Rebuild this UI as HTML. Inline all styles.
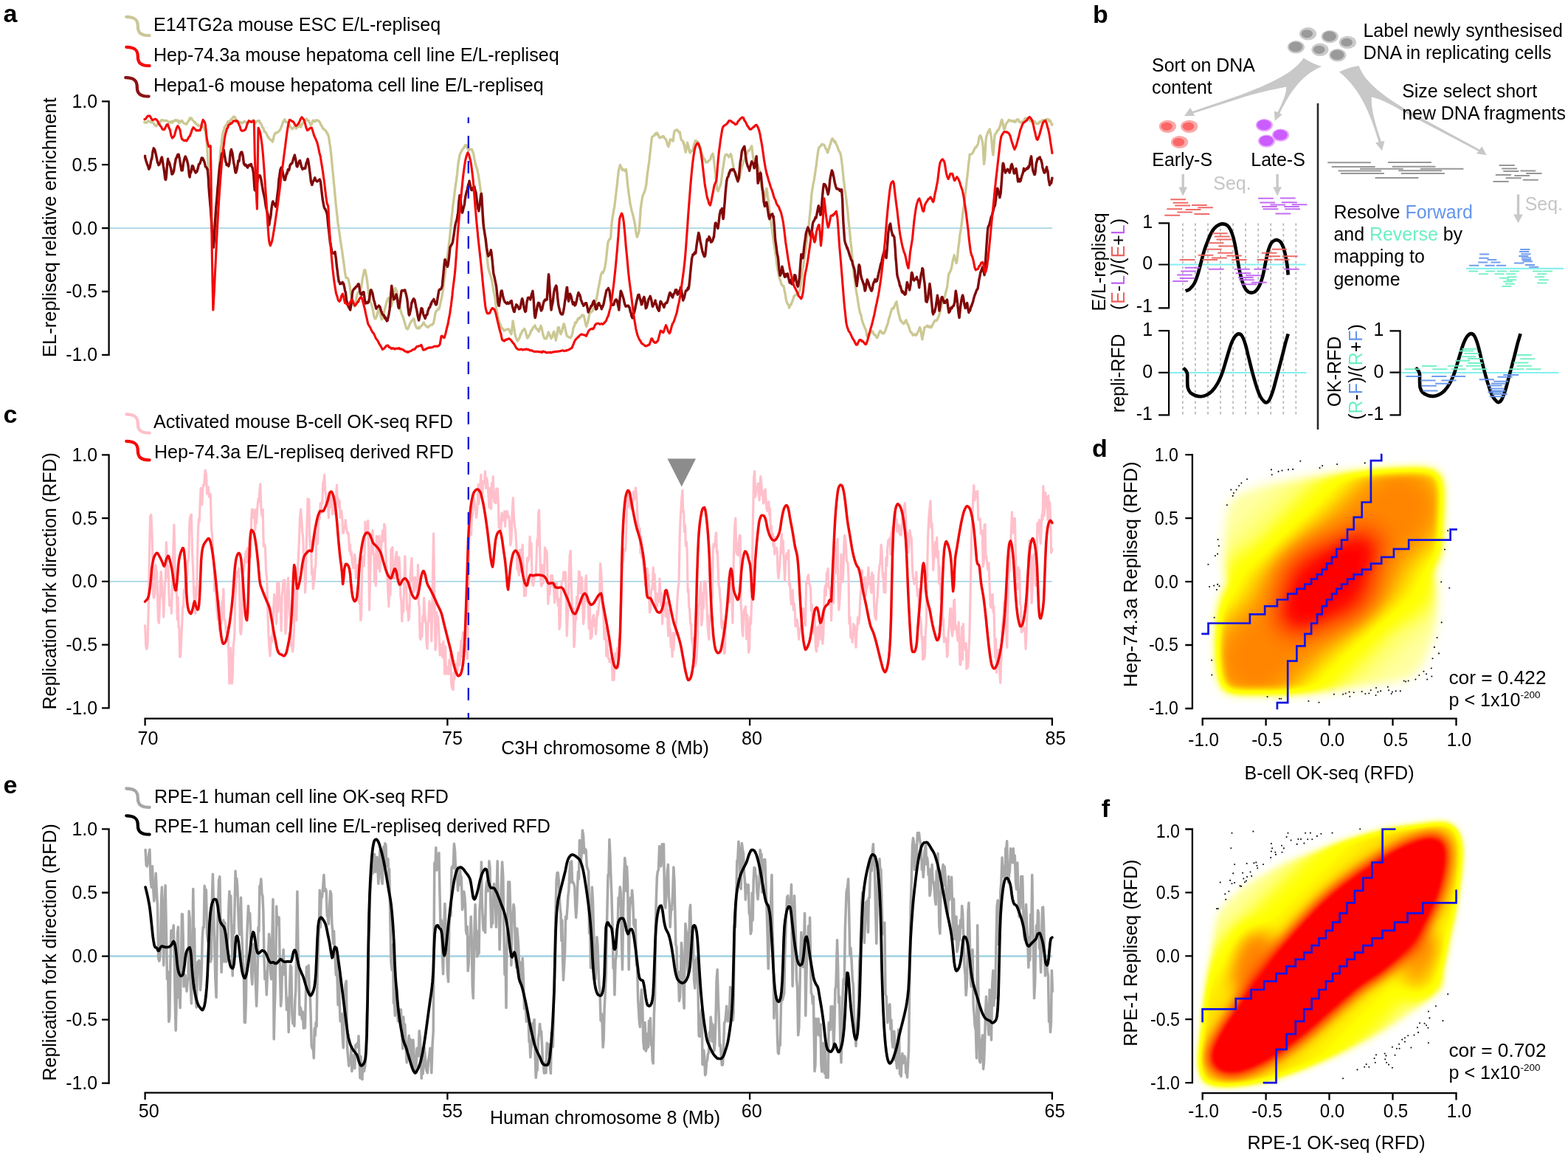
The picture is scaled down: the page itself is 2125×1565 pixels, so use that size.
<!DOCTYPE html>
<html lang="en"><head><meta charset="utf-8"><title>Figure</title>
<style>html,body{margin:0;padding:0;background:#fff}body{width:2125px;height:1565px;overflow:hidden}svg{display:block;font-family:'Liberation Sans', sans-serif;font-size:25.1px}</style>
</head><body>
<svg width="2125" height="1565" viewBox="0 0 2125 1565">
<rect width="2125" height="1565" fill="#fff"/>
<defs><filter id="heat" x="0" y="0" width="1" height="1" filterUnits="objectBoundingBox" color-interpolation-filters="sRGB"><feComponentTransfer><feFuncR type="table" tableValues="1 1"/><feFuncG type="table" tableValues="1 1 1 1 1 1 1 .93 .83 .72 .6 .5 .4 .3 .18 .06 0 0 0 0 0"/><feFuncB type="table" tableValues="1 .86 .66 .42 .18 .04 0 0 0 0 0 0 0 0 0 0 0 0 0 0 0"/></feComponentTransfer></filter><filter id="b5" x="-10%" y="-10%" width="120%" height="120%" color-interpolation-filters="sRGB"><feGaussianBlur stdDeviation="5"/></filter><filter id="b7" x="-10%" y="-10%" width="120%" height="120%" color-interpolation-filters="sRGB"><feGaussianBlur stdDeviation="7"/></filter><filter id="b9" x="-60%" y="-60%" width="220%" height="220%" color-interpolation-filters="sRGB"><feGaussianBlur stdDeviation="9"/></filter><filter id="b12" x="-60%" y="-60%" width="220%" height="220%" color-interpolation-filters="sRGB"><feGaussianBlur stdDeviation="12"/></filter><filter id="b16" x="-60%" y="-60%" width="220%" height="220%" color-interpolation-filters="sRGB"><feGaussianBlur stdDeviation="16"/></filter><filter id="b22" x="-60%" y="-60%" width="220%" height="220%" color-interpolation-filters="sRGB"><feGaussianBlur stdDeviation="22"/></filter><filter id="b28" x="-60%" y="-60%" width="220%" height="220%" color-interpolation-filters="sRGB"><feGaussianBlur stdDeviation="28"/></filter><clipPath id="cd"><path d="M1656.1 927.9C1652.7 920.2 1651.1 905.6 1650.1 891.4C1649.1 877.3 1649.5 856.2 1650.1 842.9C1650.7 829.5 1651.7 820.2 1653.7 811.3C1655.7 802.4 1661.4 796.3 1662.2 789.4C1663 782.6 1659.2 781.3 1658.6 770C1658 758.7 1658 734.4 1658.6 721.4C1659.2 708.5 1659.8 700.4 1662.2 692.3C1664.6 684.2 1665.7 678.5 1673.1 672.9C1680.6 667.2 1693.4 662.3 1707.1 658.3C1720.9 654.2 1739.5 651.2 1755.7 648.6C1771.9 645.9 1788.1 644.1 1804.3 642.5C1820.5 640.9 1836.7 639.9 1852.9 638.9C1869.1 637.8 1887.7 636.8 1901.4 636.4C1915.2 636 1927.3 635.2 1935.4 636.4C1943.5 637.6 1946.8 639.3 1950 643.7C1953.3 648.2 1954.3 652.2 1954.9 663.1C1955.5 674.1 1954.1 694.7 1953.7 709.3C1953.3 723.9 1954.1 739.6 1952.4 750.6C1950.8 761.5 1944.8 766.8 1943.9 774.9C1943.1 783 1947 787.8 1947.6 799.1C1948.2 810.5 1948.8 830.3 1947.6 842.9C1946.4 855.4 1943.9 863.9 1940.3 874.4C1936.7 885 1932.2 897.9 1925.7 906C1919.2 914.1 1913.6 919 1901.4 923C1889.3 927.1 1869.1 928.1 1852.9 930.3C1836.7 932.5 1820.5 935 1804.3 936.4C1788.1 937.8 1771.9 938.4 1755.7 938.8C1739.5 939.2 1721.3 939 1707.1 938.8C1693 938.6 1679.2 939.4 1670.7 937.6C1662.2 935.8 1659.6 935.6 1656.1 927.9Z"/></clipPath><clipPath id="cf"><path d="M1627 1454.7C1625.4 1449.1 1624.2 1444.6 1624.6 1432.9C1625 1421.1 1627.8 1400.5 1629.4 1384.3C1631 1368.1 1632.3 1351.9 1634.3 1335.7C1636.3 1319.5 1639.5 1301.3 1641.6 1287.1C1643.6 1273 1644.4 1260 1646.4 1250.7C1648.5 1241.4 1647.6 1239.4 1653.7 1231.3C1659.8 1223.2 1669.9 1211.9 1682.9 1202.1C1695.8 1192.4 1715.2 1181.1 1731.4 1173C1747.6 1164.9 1763.8 1159.6 1780 1153.6C1796.2 1147.5 1812.4 1141.4 1828.6 1136.6C1844.8 1131.7 1861 1127.7 1877.2 1124.4C1893.3 1121.2 1912.4 1118.8 1925.7 1117.1C1939.1 1115.5 1949.2 1113.5 1957.3 1114.7C1965.4 1115.9 1970.3 1118.8 1974.3 1124.4C1978.3 1130.1 1980.8 1137.8 1981.6 1148.7C1982.4 1159.6 1980.8 1175 1979.2 1190C1977.5 1205 1974.3 1224.4 1971.9 1238.6C1969.4 1252.7 1967 1262.9 1964.6 1275C1962.2 1287.1 1958.9 1301.3 1957.3 1311.4C1955.7 1321.6 1956.9 1329.7 1954.9 1335.7C1952.8 1341.8 1952 1341.8 1945.2 1347.9C1938.3 1353.9 1924.9 1364.1 1913.6 1372.2C1902.2 1380.2 1889.3 1389.2 1877.2 1396.4C1865 1403.7 1852.9 1409.8 1840.7 1415.9C1828.6 1421.9 1818.5 1426.8 1804.3 1432.9C1790.1 1438.9 1771.9 1446.6 1755.7 1452.3C1739.5 1458 1723.3 1463.6 1707.1 1466.9C1691 1470.1 1670.7 1471.7 1658.6 1471.7C1646.4 1471.7 1639.5 1469.7 1634.3 1466.9C1629 1464 1628.6 1460.4 1627 1454.7Z"/></clipPath></defs>
<g filter="url(#heat)">
<rect x="1612" y="596" width="408" height="380" fill="#000"/>
<g filter="url(#b7)"><g clip-path="url(#cd)">
<rect x="1600" y="590" width="420" height="390" fill="#fff" opacity=".1"/>
<rect x="-300" y="-110" width="600" height="220" rx="100" transform="translate(1801.5 788.1) rotate(-45)" fill="#fff" opacity="0.15" filter="url(#b28)"/>
<rect x="-135" y="-72" width="270" height="144" rx="72" transform="translate(1853.1 731.4) rotate(-45)" fill="#fff" opacity="0.4" filter="url(#b22)"/>
<rect x="-135" y="-72" width="270" height="144" rx="72" transform="translate(1744.8 850) rotate(-45)" fill="#fff" opacity="0.4" filter="url(#b22)"/>
<rect x="-60" y="-26" width="120" height="52" rx="26" transform="translate(1876.5 810.1) rotate(-8)" fill="#fff" opacity="0.12" filter="url(#b16)"/>
<rect x="-50" y="-24" width="100" height="48" rx="24" transform="translate(1716.5 774.1) rotate(-8)" fill="#fff" opacity="0.1" filter="url(#b16)"/>
<rect x="-88" y="-24" width="176" height="48" rx="24" transform="translate(1801.5 788.1) rotate(-45)" fill="#fff" opacity="0.55" filter="url(#b16)"/>
</g></g></g>
<g filter="url(#heat)">
<rect x="1604" y="1098" width="404" height="386" fill="#000"/>
<g filter="url(#b5)"><g clip-path="url(#cf)">
<rect x="1600" y="1100" width="420" height="390" fill="#fff" opacity=".1"/>
<rect x="-320" y="-105" width="640" height="210" rx="100" transform="translate(1801.5 1295.3) rotate(-45)" fill="#fff" opacity="0.3" filter="url(#b22)"/>
<rect x="-46" y="-27" width="92" height="54" rx="27" transform="translate(1697.5 1303.3) rotate(-82)" fill="#fff" opacity="0.3" filter="url(#b12)"/>
<rect x="-44" y="-26" width="88" height="52" rx="26" transform="translate(1928.5 1307.3) rotate(-82)" fill="#fff" opacity="0.3" filter="url(#b12)"/>
<path d="M1646.4 1445C1642 1440.6 1642 1433.7 1644 1425.6C1646 1417.5 1652.1 1407.4 1658.6 1396.4C1665 1385.5 1674 1372.2 1682.9 1360C1691.8 1347.9 1703.1 1335.7 1712 1323.6C1720.9 1311.4 1727 1299.3 1736.3 1287.1C1745.6 1275 1756.5 1262.9 1767.9 1250.7C1779.2 1238.6 1790.1 1226.4 1804.3 1214.3C1818.5 1202.1 1836.7 1188.8 1852.9 1177.9C1869.1 1166.9 1887.3 1155.6 1901.4 1148.7C1915.6 1141.8 1929 1137.8 1937.9 1136.6C1946.8 1135.4 1951.6 1136.6 1954.9 1141.4C1958.1 1146.3 1958.1 1155.6 1957.3 1165.7C1956.5 1175.8 1953.3 1190.8 1950 1202.1C1946.8 1213.5 1943.9 1221.6 1937.9 1233.7C1931.8 1245.9 1923.7 1262.1 1913.6 1275C1903.5 1288 1889.3 1301.3 1877.2 1311.4C1865 1321.6 1852.9 1326.4 1840.7 1335.7C1828.6 1345 1818.5 1355.2 1804.3 1367.3C1790.1 1379.4 1771.9 1396.4 1755.7 1408.6C1739.5 1420.7 1721.3 1432.9 1707.1 1440.2C1693 1447.4 1680.8 1451.5 1670.7 1452.3C1660.6 1453.1 1650.9 1449.5 1646.4 1445Z" fill="#fff" stroke="#fff" stroke-width="8" stroke-linejoin="round" opacity=".95" filter="url(#b9)"/>
</g></g></g>
<path d="M1762.3 624.8h.01M1792.1 631.1h.01M1788.5 634h.01M1812.1 629.1h.01M1849.7 627.4h.01M1722.9 636.4h.01M1723.7 643.2h.01M1732.6 638.9h.01M1737.5 637.6h.01M1746 636.4h.01M1752.1 635.9h.01M1690.1 649.3h.01M1682.4 654.6h.01M1679.2 658.3h.01M1675.6 663.6h.01M1668.3 663.6h.01M1671.9 668h.01M1670.7 671.9h.01M1662.9 684.3h.01M1650.6 731.1h.01M1651.8 739.6h.01M1650.1 750.6h.01M1646.9 753h.01M1637.4 764.7h.01M1639.1 795h.01M1645.2 793.6h.01M1650.1 791.9h.01M1652.5 794.3h.01M1648.9 799.1h.01M1645.7 836.8h.01M1642.1 894.6h.01M1642.3 914.5h.01M1717.6 944.1h.01M1733.9 946.8h.01M1736.3 946.8h.01M1773.4 950h.01M1787.5 951.7h.01M1953.2 788.5h.01M1964.3 796.7h.01M1958 744.5h.01M1962.2 719h.01M1953.7 843.4h.01M1947.6 864h.01M1943.9 876.9h.01M1950 885.4h.01M1941.5 892.2h.01M1939.8 905.5h.01M1929.4 909.7h.01M1933 913.3h.01M1940.3 916.5h.01M1934.2 920.6h.01M1923.3 915h.01M1918.4 920.6h.01M1908.7 922.5h.01M1905.1 923.5h.01M1902.7 922.5h.01M1897.8 936.4h.01M1891.7 936.4h.01M1886.9 937.6h.01M1885.7 940h.01M1882 935.2h.01M1880.8 930.8h.01M1871.1 936.4h.01M1865 932h.01M1867.4 937.6h.01M1864.5 942h.01M1857.7 935.2h.01M1855.3 939.5h.01M1850.4 940h.01M1845.6 937.1h.01M1834.7 938.3h.01M1828.6 937.6h.01M1829.3 943.7h.01M1823.7 939.5h.01M1820.1 940.7h.01M1807.9 940.7h.01" stroke="#111" stroke-width="2.1" stroke-linecap="round" fill="none"/>
<path d="M1669.5 1128.8h.01M1698.4 1126.6h.01M1668.3 1149.2h.01M1745.5 1128.8h.01M1743.6 1134.1h.01M1749.6 1138.5h.01M1722.9 1143.1h.01M1724.1 1149.4h.01M1722.9 1153.6h.01M1728.3 1154.8h.01M1729 1157.9h.01M1722.2 1162.1h.01M1737 1145.8h.01M1739.9 1149.4h.01M1737.5 1154.8h.01M1757.7 1143.9h.01M1759.4 1137.1h.01M1763 1137.1h.01M1767.4 1142.6h.01M1769.1 1128.8h.01M1772.2 1137.3h.01M1775.9 1128.6h.01M1778.3 1137.3h.01M1784.9 1132.9h.01M1790.4 1129.8h.01M1805.5 1128.6h.01M1843.2 1123.2h.01M1673.1 1171.3h.01M1689.7 1170.1h.01M1699.4 1169.4h.01M1702.3 1168.6h.01M1703.5 1173h.01M1704.2 1176.2h.01M1712 1171.3h.01M1671.2 1183.4h.01M1684.1 1182.7h.01M1694.5 1181.5h.01M1696.2 1187.1h.01M1690.1 1188.1h.01M1685.3 1190.5h.01M1667.1 1192.9h.01M1688.9 1193.6h.01M1669.5 1197.3h.01M1673.1 1196.1h.01M1687 1195.3h.01M1680.4 1200.2h.01M1682.1 1200.9h.01M1653.7 1195.6h.01M1665.4 1207.7h.01M1660.3 1211.4h.01M1661.2 1218.7h.01M1648.9 1231.3h.01M1650.8 1231.3h.01M1962.2 1347.1h.01M1945.9 1363.2h.01M1935.9 1370.5h.01M1937.4 1379.4h.01M1955.4 1383.1h.01M1924 1386.2h.01M1930.6 1386.7h.01M1933 1389.2h.01M1935.4 1392.8h.01M1920.9 1392.3h.01M1922.1 1398.9h.01M1916.5 1402.5h.01M1908.2 1403.2h.01M1903.9 1406.2h.01M1900.2 1408.6h.01M1903.9 1411.5h.01M1935.9 1413h.01M1886.9 1418.8h.01M1896.1 1414.7h.01M1892.9 1420.7h.01M1896.6 1420.7h.01M1912.4 1419.5h.01M1876.7 1427.5h.01M1878.4 1430.4h.01M1890.5 1429.7h.01M1865 1429.2h.01M1862.6 1434.1h.01M1877.2 1435.3h.01M1863.8 1439.7h.01M1879.1 1439.7h.01M1882 1442.6h.01M1851.7 1442.1h.01M1855.3 1445.7h.01M1849.2 1445.7h.01M1886.9 1446.7h.01M1839.5 1449.4h.01M1820.1 1461.3h.01" stroke="#111" stroke-width="2.1" stroke-linecap="round" fill="none"/>
<path d="M1629.6 858.8L1637.5 858.8L1637.5 844.5L1693.9 844.5L1693.9 832.3L1714.2 832.3L1714.2 821.3L1730.9 821.3L1730.9 812.5L1745.2 812.5L1745.2 804.6L1757.4 804.6L1757.4 797.9L1768.4 797.9L1768.4 791.5L1777.1 791.5L1777.1 784.7L1785 784.7L1785 778.3L1791.7 778.3L1791.7 771.6L1798.1 771.6L1798.1 763.7L1805 763.7L1805 754.9L1811.4 754.9L1811.4 743.9L1818.1 743.9L1818.1 731.7L1826 731.7L1826 717.4L1834.7 717.4L1834.7 700.8L1845.7 700.8L1845.7 680.5L1857.9 680.5L1857.9 624.1L1872.2 624.1L1872.2 616.2" stroke="#1414e4" stroke-width="2.7" fill="none" stroke-linejoin="miter" stroke-linecap="square"/>
<path d="M1730.9 960L1730.9 952.1L1745.2 952.1L1745.2 895.7L1757.4 895.7L1757.4 875.4L1768.4 875.4L1768.4 858.8L1777.1 858.8L1777.1 844.5L1785 844.5L1785 832.3L1791.7 832.3L1791.7 821.3L1798.1 821.3L1798.1 812.5L1805 812.5L1805 804.6L1811.4 804.6L1811.4 797.9L1818.1 797.9L1818.1 791.5L1826 791.5L1826 784.7L1834.7 784.7L1834.7 778.3L1845.7 778.3L1845.7 771.6L1857.9 771.6L1857.9 763.7L1872.2 763.7L1872.2 754.9L1888.9 754.9L1888.9 743.9L1909.2 743.9L1909.2 731.7L1965.6 731.7L1965.6 717.4L1973.5 717.4L1973.5 717.4" stroke="#1414e4" stroke-width="2.7" fill="none" stroke-linejoin="miter" stroke-linecap="square"/>
<path d="M1629.6 1383.8L1629.6 1367.3L1674.8 1367.3L1674.8 1353.2L1695.6 1353.2L1695.6 1341L1713 1341L1713 1329.7L1729.5 1329.7L1729.5 1319.2L1743.6 1319.2L1743.6 1309.4L1755.8 1309.4L1755.8 1299.9L1767.2 1299.9L1767.2 1290.7L1777.6 1290.7L1777.6 1281.2L1787.5 1281.2L1787.5 1271.4L1796.9 1271.4L1796.9 1260.9L1806.2 1260.9L1806.2 1249.6L1815.6 1249.6L1815.6 1237.4L1825.5 1237.4L1825.5 1223.3L1835.9 1223.3L1835.9 1206.8L1847.3 1206.8L1847.3 1189.5L1859.5 1189.5L1859.5 1168.7L1873.6 1168.7L1873.6 1123.5L1890.1 1123.5" stroke="#1414e4" stroke-width="2.7" fill="none" stroke-linejoin="miter" stroke-linecap="square"/>
<path d="M1713 1467.1L1729.5 1467.1L1729.5 1421.9L1743.6 1421.9L1743.6 1401.1L1755.8 1401.1L1755.8 1383.8L1767.2 1383.8L1767.2 1367.3L1777.6 1367.3L1777.6 1353.2L1787.5 1353.2L1787.5 1341L1796.9 1341L1796.9 1329.7L1806.2 1329.7L1806.2 1319.2L1815.6 1319.2L1815.6 1309.4L1825.5 1309.4L1825.5 1299.9L1835.9 1299.9L1835.9 1290.7L1847.3 1290.7L1847.3 1281.2L1859.5 1281.2L1859.5 1271.4L1873.6 1271.4L1873.6 1260.9L1890.1 1260.9L1890.1 1249.6L1907.5 1249.6L1907.5 1237.4L1928.3 1237.4L1928.3 1223.3L1973.5 1223.3L1973.5 1206.8" stroke="#1414e4" stroke-width="2.7" fill="none" stroke-linejoin="miter" stroke-linecap="square"/>
<line x1="148.7" y1="309.1" x2="1426" y2="309.1" stroke="#a9d6e5" stroke-width="1.7"/>
<line x1="148.7" y1="787.9" x2="1426" y2="787.9" stroke="#a9d6e5" stroke-width="1.7"/>
<line x1="148.7" y1="1295.6" x2="1426" y2="1295.6" stroke="#a9d6e5" stroke-width="2.6"/>
<path d="M195.9 164.8L195.9 165.9L197.2 166L198.5 166.3L199.8 164.7L201.1 163.8L202.4 164.7L203.7 165.1L204.1 164.7L205 165.9L206.3 164.7L207.6 165.8L208.9 168.9L210.2 169.6L211.2 169.4L211.5 170.8L212.8 169.5L214.1 167.2L215.4 165.4L216.7 166.6L218 163.3L218.2 163.5L219.3 162.8L220.6 162.5L221.9 163.6L223.2 163.7L224.5 163.2L225.3 163.5L225.8 163.5L227.1 164.2L228.4 165.1L229.7 166.1L231 165.8L232.3 164.3L232.4 165.9L233.6 166.3L234.9 163.9L236.2 164.4L237.5 162.6L238.8 163.6L239.4 163.5L240.1 162.8L241.4 163.8L242.7 166.8L244 164L245.3 165.2L246.5 164.7L246.6 163.5L247.9 165.2L249.2 167.1L250.5 167.4L251.8 168.5L252.4 168.2L253.1 168L254.4 165.1L255.7 163.8L257 160.2L258.2 160L258.3 161.7L259.6 160.2L260.9 162.8L262.2 163.9L262.9 164.7L263.5 166.1L264.8 165.9L266.1 168.6L267.4 168.6L268.7 170.5L268.8 169.4L270 170.3L271.3 170L272.6 169.4L273.9 171L274.7 170.6L275.2 171.3L276.5 174.3L277.8 175.8L278.2 177.6L279.1 183.4L280.4 196.9L280.6 198.8L281.7 214.9L283 238.2L284.1 257.6L284.3 260.4L285.6 280.7L286.9 299.5L287.6 309.4L288.2 314.8L289.5 327.3L290 328.2L290.8 325.7L292.1 309.1L292.4 304.7L293.4 290.4L294.7 266.8L295.9 245.9L296 245L297.3 224.8L298.6 207.7L299.4 198.8L299.9 196.8L301.2 185.8L302.5 178.2L303.8 175.6L304.1 172.9L305.1 171.2L306.4 169.7L307.7 167.9L309 164.7L310 164.7L310.3 166.6L311.6 164.6L312.9 161.8L314.2 161.1L315.5 159.5L316.8 157.9L318.1 158.3L318.2 158.4L319.4 161L320.6 163.5L320.7 164.6L322 165.1L323.3 165.2L324.6 166.8L325.9 165.2L326.5 165.9L327.2 166.6L328.5 166.9L329.8 165.6L331.1 164.3L332.4 165.1L333.5 165.9L333.7 166.1L335 166.2L336.3 166.9L337.6 164.3L338.9 164.9L340.2 165.3L340.6 164.7L341.5 164.6L342.8 162.8L344.1 165.9L345.4 167.4L346.5 165.4L346.7 166.3L348 164.1L349.3 163.8L350.6 163.8L351.2 163.5L351.9 166.2L353.2 166.7L354.5 169.1L354.7 169.4L355.8 172.9L357.1 174.2L358.4 178.6L359.4 178.8L359.7 178.7L361 181L362.3 184L363.6 186.4L364.1 185.9L364.9 187.6L366.2 189.4L367.5 189.4L368.8 191.5L369.3 192.2L370.1 190L371.4 183.8L372.4 181.2L372.7 181.4L374 179.6L375.3 180L376.6 178.9L377.9 177.7L378.2 177.6L379.2 176.4L380.5 173.9L381.8 170.6L381.8 171.3L383.1 166.7L384.4 163.7L385.3 163.1L385.7 161.9L387 165L388.3 165.7L389.6 165.4L390 165.9L390.9 166.6L392.2 168.5L393.5 172.1L394.7 172.9L394.8 173.1L396.1 174.9L397.4 173.2L398.7 172.2L400 170.7L401.3 174.2L401.8 172.9L402.6 173L403.9 170.8L405.2 171.5L406.5 168.8L407.8 172.2L408.8 168.2L409.1 169L410.4 167.3L411.7 165.2L413 162.1L414.3 162.8L415.6 161L415.9 162.4L416.9 163.6L418.2 163.3L419.5 166.6L420.6 168.2L420.8 169.3L422.1 168.8L423.4 164.6L424.7 162.9L425.3 164L426 164.7L427.3 164.5L428.6 162.7L429.9 162.9L430 163.5L431.2 163.4L432.5 164.3L433.8 166.4L434.7 168.2L435.1 169.8L436.4 171.2L437.7 174.4L439 174.6L439.4 175.3L440.3 176.4L441.6 177.2L442.9 179.8L444.1 182.4L444.2 181.3L445.5 185.4L446.8 194.2L447.6 198.8L448.1 203.2L449.4 215.2L450.7 230L451.2 234.1L452 242.9L453.3 256.2L454.6 270.6L454.7 271.8L455.9 283.1L457.2 294.8L458.2 304.7L458.5 305.1L459.8 314.2L461.1 323.8L461.8 328.2L462.4 332.5L463.7 340.6L465 351L465.3 351.8L466.3 359.4L467.6 369.9L468.8 375.3L468.9 376.5L470.2 376.6L471.5 376.8L472.4 380L472.8 382L474.1 387.6L475.4 397.5L475.9 398.8L476.7 402.7L478 409.4L479.3 414L480.6 413.4L480.6 415.3L481.9 411.6L483.2 402.3L484.1 398.8L484.5 397.4L485.8 395.7L487.1 395.4L488.4 393.5L488.8 391.8L489.7 389.3L491 378.9L492.3 372.7L492.4 372.9L493.6 366L494.7 365.9L494.9 365.9L496.2 372.5L497.1 377.6L497.5 379.7L498.8 391L500.1 401L500.6 403.5L501.4 407.7L502.7 410.2L504 414.1L504.1 415.3L505.3 419.4L506.6 427.6L507.9 431.5L508.8 431.8L509.2 431.4L510.5 428.3L511.8 423L513.1 419.3L513.5 418.8L514.4 420.7L515.7 427.9L517 431.8L517.1 432.9L518.3 430.5L519.6 427.9L520.9 421.4L521.8 417.6L522.2 416.3L523.5 411L524.8 406.5L526.1 404L526.5 403.5L527.4 404.9L528.7 411.8L530 415.5L530 415.3L531.3 411.6L532.6 404.5L533.9 396.3L535.2 390.6L535.9 390.6L536.5 392.1L537.8 394.8L539.1 404.7L540.4 411.6L540.6 412.9L541.7 416.1L543 420.7L544.3 425.3L545.3 427.1L545.6 428L546.9 432.1L548.2 436.2L549.5 440.9L550.8 445.1L552.1 445.5L552.4 445.9L553.4 444L554.7 441L556 437.7L557.1 436.5L557.3 434.9L558.6 434.8L559.9 432.4L560.6 431.8L561.2 432.4L562.5 439.4L563.8 442.5L564.1 443.5L565.1 444.6L566.4 445.1L567.7 443.2L568.8 444.7L569 443.3L570.3 442.3L571.6 441.1L572.9 439.2L573.5 437.6L574.2 436.7L575.5 440.1L576.8 440.7L578.1 442.4L579.4 443L579.4 443.5L580.7 443.1L582 441.2L583.3 441.1L584.6 439.8L585.9 440L586.5 438.8L587.2 438.9L588.5 433.4L589.8 425L590 424.7L591.1 421.2L592.4 420.7L593.7 418.6L594.7 417.6L595 418.8L596.3 413.6L597.6 407.1L598.9 402.4L599.4 398.8L600.2 394.8L601.5 383.3L602.8 373.7L604.1 363.6L604.1 363.5L605.4 354.3L606.7 345.1L608 334.8L608.8 328.2L609.3 324.3L610.6 310.5L611.9 296.4L613.2 285.6L613.5 281.2L614.5 273.7L615.8 264L617.1 252.9L618.2 245.9L618.4 244.6L619.7 234.4L621 221.2L622.3 214.4L622.9 210.6L623.6 208.4L624.9 206L626.2 203.3L627.5 201.6L627.6 201.2L628.8 200.5L630.1 197.2L631.4 197.9L631.6 196.5L632.7 197.6L634 201.7L634.7 203.5L635.3 204.1L636.6 202.2L637.9 202.3L639.2 203.2L639.4 202.4L640.5 205.4L641.8 208.4L642.9 215.3L643.1 216.3L644.4 222.3L645.7 226.5L647 230.7L647.6 234.1L648.3 237L649.6 245.5L650.9 254.3L651.2 257.6L652.2 266.4L653.5 280L654.7 292.9L654.8 293.6L656.1 307.8L657.4 319.5L658.2 328.2L658.7 331.6L660 348.8L661.3 359.5L661.8 363.5L662.6 366.6L663.9 370.7L665.2 374.6L665.3 375.3L666.5 379.5L667.8 386.5L669.1 395.6L670 398.8L670.4 400.6L671.7 410.3L673 420.4L673.5 422.4L674.3 426.6L675.6 432.6L676.9 437.9L678.2 439.4L679.4 443.5L679.5 442.8L680.8 445.2L682.1 446.7L683.4 448.1L684.1 447.1L684.7 447.4L686 446.5L687.3 446.3L688.6 445.8L689.4 445.9L689.9 446.4L691.2 450L692.5 452.3L692.9 452.9L693.8 447.1L695.1 434.9L695.3 435.3L696.4 442L697.6 450.6L697.7 451.9L699 456.5L700.3 460.3L701.6 461.9L701.6 461.2L702.9 459.9L704.2 457.5L705.5 452.8L705.9 452.9L706.8 451.1L708.1 448L709.4 447.3L710.6 445.9L710.7 445.4L712 448.3L713.3 453.4L714.6 458.1L715.3 457.6L715.9 456.6L717.2 454.2L718.5 452.3L719.8 447.6L720 448.2L721.1 446.9L722.4 443.8L723.7 442.7L724.7 442.4L725 440.8L726.3 444.5L727.6 445.8L728.9 447.2L729.4 448.2L730.2 449.2L731.5 444.4L732.8 444.4L732.9 441.2L734.1 444.6L735.4 450.9L736.5 455.3L736.7 455.7L738 458.9L739.3 458.6L740 458.8L740.6 458.6L741.9 454.8L743.2 450L743.5 450.6L744.5 452.2L745.8 455.9L747.1 458.8L747.1 457.7L748.4 456.6L749.7 451.6L750.6 449.4L751 450.1L752.3 456.2L753.4 461.2L753.6 459.2L754.9 453.3L756.2 443.9L756.5 443.5L757.5 443.9L758.8 450.3L760 452.9L760.1 451.6L761.4 449.4L762.7 443.3L764 439.3L764.2 438.8L765.3 441.6L766.6 448.8L767.9 453.6L768.2 455.3L769.2 455.7L770.5 456.5L771.8 457.3L772.9 457.6L773.1 457.9L774.4 455.8L775.7 452.3L776.5 448.2L777 444.2L778.3 441.9L779.6 437.1L780 436.5L780.9 437.3L782.2 434.7L783.5 431.3L784.7 431.8L784.8 432.1L786.1 429.9L787.4 429.9L788.7 426.9L790 427.1L790.6 427.1L791.3 428L792.6 434L793.9 439.9L794.8 442.4L795.2 440.4L796.5 437.4L797.8 430.7L798.8 425.9L799.1 425.3L800.4 422.7L801.7 422.5L803 421.4L803.5 420L804.3 418.3L805.6 415.1L806.9 412.2L808.2 405.1L808.2 405.9L809.5 399.4L810.8 390.7L811.8 387.1L812.1 384.8L813.4 377.7L814.7 371.5L815.3 370.6L816 368.8L817.3 369.7L818.6 366.2L818.8 365.9L819.9 361.1L821.2 353.4L822.4 342.4L822.5 341.4L823.8 329L824.7 325.9L825.1 325.7L826.4 323.5L827.1 323.5L827.7 321.2L829 303L829.4 300L830.3 293.6L831.6 285.6L832.9 279.3L832.9 278.8L834.2 267.9L835.5 256.9L836.5 248.2L836.8 245.2L838.1 233.6L838.8 229.4L839.4 227.5L840.5 223.5L840.7 224.5L842 227.1L843.3 229.6L843.5 230.6L844.6 229.5L845.9 230.2L847.2 231.7L848.2 229.4L848.5 229.5L849.8 241.3L850.6 250.6L851.1 254L852.4 264.1L853.7 273.2L854.1 276.5L855 280.2L856.3 286.6L857.6 290.3L857.6 290.6L858.9 296.1L860 302.4L860.2 301.9L861.5 312.3L862.8 319.6L863.5 321.2L864.1 319.6L865.4 315.5L865.9 314.1L866.7 305.8L868 287.1L868.2 283.5L869.3 275.3L870.6 267.3L870.6 267.1L871.9 263L873.2 260.8L874.1 257.6L874.5 256.1L875.8 250.1L877.1 237.3L877.6 234.1L878.4 228.3L879.7 219.4L881 207.2L881.2 205.9L882.3 195.9L883.5 185.9L883.6 185.8L884.9 184.8L886.2 183.7L887.1 183.5L887.5 181.9L888.8 180.6L890.1 182.1L890.6 180L891.4 181.3L892.7 184.3L894 186.7L894.1 185.9L895.3 186.2L896.6 186.2L897.9 184.6L898.8 184.7L899.2 184.6L900.5 187L901.8 188.1L902.4 189.4L903.1 190.1L904.4 195.6L905.7 198.3L905.9 198.8L907 195.1L908.2 189.4L908.3 188.8L909.6 188.8L910.9 190.1L911.8 190.6L912.2 191L913.5 180.3L914.1 177.6L914.8 177.2L916.1 176.2L917.4 176L917.6 175.8L918.7 177.1L920 179.1L921.2 180L921.3 178.8L922.6 187.1L923.5 189.4L923.9 190L925.2 191L926.5 194.9L926.6 192.9L927.8 199.4L928.9 204.7L929.1 206.4L930.4 200.1L931.7 193.2L931.8 194.1L933 198.1L934.3 205.1L935.3 207.1L935.6 206.9L936.9 204.1L938.2 204.2L938.8 203.5L939.5 201.5L940.8 194.4L942.1 192.4L942.4 190.6L943.4 190.6L944.7 191.4L945.9 192.9L946 192.8L947.3 195.1L948.6 199.1L949.4 202.4L949.9 203.8L951.2 208.3L952.5 211.4L952.9 212.9L953.8 214.6L955.1 216L956.4 219.7L957.6 220L957.7 219.3L959 219.8L960.3 217.9L961.6 216.9L962.4 216.5L962.9 215.7L964.2 210.5L965.5 210.7L965.9 208.2L966.8 211.2L968.1 222.1L969.4 233.2L969.4 234.1L970.7 246.6L972 257L972.9 258.8L973.3 259L974.6 255.3L975.9 252.2L976.5 250.6L977.2 247.7L978.5 237.4L979.8 227.3L980 227.1L981.1 219.1L982.4 211.7L983.5 209.4L983.7 209.4L985 209.3L986.3 210.5L987.1 210.6L987.6 213L988.9 211.6L990.2 208.5L990.6 209.4L991.5 212L992.8 219.7L994.1 226.8L994.1 227.1L995.4 232L996.7 234.1L997.6 236.5L998 236.9L999.3 239.7L1000.6 242L1001.2 242.4L1001.9 242.6L1003.2 237L1004.5 229L1004.7 229.4L1005.8 225.2L1007.1 220.4L1008.2 217.6L1008.4 218L1009.7 214.1L1011 211.8L1011.8 209.4L1012.3 208.4L1013.6 204.5L1014.9 204.6L1015.3 203.5L1016.2 202.3L1017.5 200.3L1018.8 197.7L1018.8 198.8L1020.1 208.7L1021.2 217.6L1021.4 217.4L1022.7 219L1024 220.8L1025.3 221.9L1025.9 222.4L1026.6 223L1027.9 226.3L1029.2 230.9L1029.4 234.1L1030.5 239.5L1031.8 250.3L1032.9 257.6L1033.1 258.6L1034.4 268.1L1035.3 274.1L1035.7 272.7L1037 265.7L1038.3 258L1038.8 255.3L1039.6 259.1L1040.9 269.7L1041.2 271.8L1042.2 279.8L1043.5 289.3L1044.7 300L1044.8 300.2L1046.1 310.1L1047.4 319.2L1048.2 325.9L1048.7 329L1050 337.3L1051.3 346.5L1051.8 349.4L1052.6 356.5L1053.9 365.3L1055.2 372.8L1055.3 372.9L1056.5 377.6L1057.8 380.8L1058.8 384.7L1059.1 385.1L1060.4 387.2L1061.7 387.3L1062.4 389.4L1063 392.8L1064.3 399.3L1065.6 407.5L1065.9 408.2L1066.9 410.8L1068.2 413L1069.4 415.3L1069.5 417.2L1070.8 413.2L1072.1 413L1072.9 410.6L1073.4 409.2L1074.7 406.1L1076 401.4L1076.5 401.2L1077.3 399.8L1078.6 399.7L1079.9 399.5L1080 397.6L1081.2 395.9L1082.5 395.6L1083.5 394.1L1083.8 394.4L1085.1 385.6L1086.4 376.3L1087.1 370.6L1087.7 365.8L1089 358.5L1090.3 349.6L1090.6 347.1L1091.6 341.2L1092.9 331L1094.1 321.2L1094.2 319.6L1095.5 310.8L1096.8 297.9L1097.6 290.6L1098.1 286.3L1099.4 270L1100 262.4L1100.7 258.1L1102 249.9L1102.4 248.2L1103.3 243.8L1104.6 235.3L1105.9 225.9L1105.9 227.1L1107.2 216L1108.5 206.7L1109.4 201.2L1109.8 200.2L1111.1 198.9L1112.4 197.4L1112.5 197.6L1113.7 195.4L1115 195.8L1116.3 196.3L1116.5 196L1117.6 197.6L1118.9 201L1120.2 202.8L1121.2 205.9L1121.5 206.8L1122.8 203.4L1124.1 199.2L1124.7 196.5L1125.4 195.7L1126.7 190.3L1128 187.8L1128.2 188.2L1129.3 189.2L1130.6 192.4L1131.8 192.9L1131.9 191.6L1133.2 195.3L1134.5 197.6L1135.3 200L1135.8 201.5L1137.1 204.9L1138.4 206.5L1138.8 208.2L1139.7 211.1L1141 221L1141.2 222.4L1142.3 232.8L1143.5 245.9L1143.6 244.9L1144.9 256.9L1146.2 264.6L1147.1 271.8L1147.5 276L1148.8 286L1150.1 300.8L1150.6 304.7L1151.4 311.2L1152.7 326.5L1154 337L1154.1 340L1155.3 353.4L1156.6 365.3L1157.6 375.3L1157.9 375.7L1159.2 386.1L1160.5 394.8L1161.2 398.8L1161.8 401.8L1163.1 410.5L1164.4 418.6L1164.7 420L1165.7 424.3L1167 427L1168.2 434.1L1168.3 433.9L1169.6 438.2L1170.9 441.2L1172.2 444.8L1172.9 445.9L1173.5 447L1174.8 455L1176.1 456.9L1176.5 456.5L1177.4 455.9L1178.7 453.7L1180 450.4L1181.2 448.2L1181.3 448.3L1182.6 448.9L1183.9 452.6L1184.7 452.9L1185.2 454L1186.5 454.2L1187.8 456.5L1188.2 457.6L1189.1 457.3L1190.4 453.7L1191.7 450.1L1192.9 448.2L1193 448.8L1194.3 449.1L1195.6 451.7L1196.9 451L1197.6 451.8L1198.2 451.1L1199.5 448.9L1200.8 445.3L1201.2 443.5L1202.1 441.5L1203.4 437.7L1204.7 431.4L1204.7 431.8L1206 428.1L1207.3 422.9L1208.2 420L1208.6 418.4L1209.9 417.5L1211.2 418L1211.8 415.3L1212.5 414.5L1213.8 410.5L1214.6 410.1L1215.1 408.7L1216.4 417.1L1217.6 424.7L1217.7 424.2L1219 429L1220.3 434.4L1221.2 434.1L1221.6 435.5L1222.9 437.4L1224.2 437.8L1224.7 438.8L1225.5 437.2L1226.8 435.7L1228.1 433.7L1228.2 434.1L1229.4 438.6L1230.7 439.9L1231.8 443.5L1232 443.5L1233.3 448.3L1234.6 450.4L1235.9 451.4L1236.5 452.9L1237.2 454.4L1238.5 453.4L1239.8 452.8L1241.1 454.4L1241.2 454.1L1242.4 453.5L1243.7 450.2L1244.7 448.2L1245 448.2L1246.3 444.5L1246.6 443.5L1247.6 446.3L1248.9 454.5L1249.9 460L1250.2 457.4L1251.5 451.6L1252.8 444.9L1252.9 443.5L1254.1 443.2L1255.4 442.7L1256.5 441.2L1256.7 442.9L1258 441.8L1259.3 443.6L1260.6 442.1L1261.2 443.5L1261.9 443.8L1263.2 441.7L1264.5 438.7L1265.8 436.2L1265.9 436.5L1267.1 434.2L1268.4 434.3L1269.7 434.1L1270.6 431.8L1271 430.8L1272.3 428.5L1273.6 423.5L1274.1 422.4L1274.9 419.8L1276.2 413.1L1277.5 409.1L1277.6 408.2L1278.8 404.9L1280.1 402.2L1281.2 398.8L1281.4 397.6L1282.7 392.4L1283.5 389.4L1284 385.9L1285.3 374.8L1285.9 370.6L1286.6 370.7L1287.9 367.4L1288.2 367.1L1289.2 364.2L1290.5 357.6L1290.6 356.5L1291.8 350.8L1292.9 347.1L1293.1 345.7L1294.4 351.6L1295.7 355.3L1296 356.5L1297 353.3L1298.3 340.7L1298.8 335.3L1299.6 330.3L1300.9 318.1L1302.2 311.3L1302.4 309.4L1303.5 301.1L1304.7 290.6L1304.8 288.8L1306.1 280.6L1307.4 269.4L1308.2 262.4L1308.7 258.5L1310 246.9L1311.3 235.2L1311.8 231.8L1312.6 222.1L1313.9 212.8L1314.1 209.4L1315.2 209.1L1316.5 208.8L1317.6 208.2L1317.8 207.6L1319.1 205.4L1320.4 202.3L1321.2 201.2L1321.7 199.6L1323 199.7L1324.3 197L1324.7 196.5L1325.6 194.3L1326.9 186.1L1328.2 184.4L1328.2 183.5L1329.5 185L1330.8 190L1331.8 194.1L1332.1 197.3L1333.4 220.2L1333.6 222.4L1334.7 213.8L1336 191.1L1336.5 187.1L1337.3 183.8L1338.6 179.8L1338.8 180L1339.9 177.4L1341.2 175.3L1341.2 174.9L1342.5 180.3L1343.5 187.1L1343.8 189.4L1345.1 204.5L1345.9 210.1L1346.4 205.8L1347.7 187.4L1348.2 182.4L1349 181.7L1350.3 180L1351.6 176.9L1351.8 177.6L1352.9 176.3L1354.2 173.6L1355.3 170.6L1355.5 170.3L1356.8 164.7L1357.6 162.4L1358.1 162.6L1359.4 168.9L1360.7 175.4L1361.2 175.3L1362 173.7L1363.3 168.4L1364.6 165.9L1364.7 165.9L1365.9 165.1L1367.2 162.5L1368.5 163L1369.4 163.5L1369.8 164.1L1371.1 163.7L1372.4 164.4L1373.7 163.5L1374.1 164.7L1375 165.3L1376.3 165.2L1377.6 162.6L1378.8 162.4L1378.9 161.7L1380.2 162L1381.5 165.3L1382.8 165.7L1383.5 165.9L1384.1 165.1L1385.4 166L1386.7 164.3L1388 163L1388.2 162.4L1389.3 160.3L1390.6 161.2L1391.9 161.4L1392.9 160.7L1393.2 159.6L1394.5 162.1L1395.8 163.6L1397.1 164.2L1397.6 163.5L1398.4 163.1L1399.7 163.4L1401 165.2L1402.3 165.6L1402.4 164.7L1403.6 166.6L1404.9 167.7L1406.2 167.4L1407.1 167.8L1407.5 167.3L1408.8 164.9L1410.1 165.6L1411.4 165.7L1411.8 163.5L1412.7 163L1414 162.8L1415.3 163.8L1416.5 163.1L1416.6 163.4L1417.9 161.6L1419.2 161.9L1420.5 161.4L1421.2 162.4L1421.8 164.3L1423.1 163.1L1424.4 166.4L1425.7 169.3L1425.9 167.8" stroke="#cbc894" stroke-width="3.3" fill="none" stroke-linejoin="round" stroke-linecap="round"/>
<path d="M196.6 211.2L196.6 212.9L197.9 217.8L199.2 221.4L199.4 222.4L200.5 224.7L201.8 229.2L202.2 228.2L203.1 226.6L204.4 219.6L205.3 215.3L205.7 215.6L207 205.8L208.3 200.8L208.4 202.4L209.6 202.4L210.9 207.5L211.6 210.6L212.2 213.5L213.5 220.2L214.7 222.4L214.8 223.7L216.1 222.6L217.4 218.7L218.7 214.3L219.4 212.9L220 216.1L221.3 224.6L221.8 227.1L222.6 232.3L223.9 242.8L224.6 243.5L225.2 240.8L226.5 224.2L227.6 215.3L227.8 217.8L229.1 219.5L230.4 223.6L231.2 227.1L231.7 228.7L233 236.1L234.2 235.3L234.3 235.1L235.6 231.7L236.9 222.9L238.2 216.1L238.2 215.3L239.5 213.1L240.8 209.5L241.8 209.4L242.1 209.2L243.4 215.1L244.7 223.4L246 231L246.5 230.6L247.3 230.8L248.6 220.8L249.9 215.4L250.7 212.9L251.2 212L252.5 214.5L253.8 218.8L254.7 222.4L255.1 224.8L256.4 236.6L257.1 240L257.7 235.6L259 233L260.3 224.8L260.6 224.7L261.6 225.1L262.9 230.1L264.2 232.1L265.3 234.1L265.5 232.4L266.8 232.6L268.1 228.6L269.4 222.9L270 222.4L270.7 221.9L272 218.3L273.3 214L274.6 216.3L274.7 214.1L275.9 216.7L277.2 220.1L278.2 224.7L278.5 225.8L279.8 226.9L281.1 230.1L281.3 229.4L282.4 242.4L282.9 252.9L283.7 263.4L285 278.4L285.3 281.2L286.3 297L287.6 316.5L287.6 316.5L288.9 335.1L289.3 335.3L290.2 325.4L291.2 304.7L291.5 300.3L292.8 280.8L294.1 266.4L294.7 257.6L295.4 250.9L296.7 235.4L298 224L298.2 222.4L299.3 217.8L300.6 208L301.9 207.5L302.9 205.9L303.2 203.1L304.5 211.2L305.8 219.1L306.5 220L307.1 223.6L308.4 222.9L309.7 225.2L310 224.7L311 220.4L312.3 206.1L313.5 202.4L313.6 203.3L314.9 207.3L316.2 216.8L317.1 222.4L317.5 223.8L318.8 232.7L319.4 234.1L320.1 233L321.4 227.6L322.7 219L322.9 217.6L324 218.4L325.3 209.4L326.6 206.5L327.6 205.9L327.9 206.1L329.2 211.1L330.5 222L331.2 222.4L331.8 224L333.1 223L334.4 225.7L335.7 227.3L335.9 225.9L337 223.7L338.3 224.3L339.6 222.5L340.6 222.4L340.9 225.4L342.2 227.4L343.4 234.1L343.5 234.2L344.8 253.5L345.3 257.6L346.1 258.2L347.4 248.5L348.1 245.9L348.7 247L350 238.6L351.3 237.8L351.9 237.6L352.6 238.4L353.9 243.3L355.2 251.4L355.9 255.3L356.5 259.2L357.8 264.7L359.1 270.8L359.4 274.1L360.4 280.3L361.7 286L362.9 290.6L363 290.1L364.3 303L364.8 304.7L365.6 299.1L366.9 293L367.6 285.9L368.2 280.7L369.5 273.4L370 272.9L370.8 276.5L372.1 276L373.4 280L373.5 280L374.7 274.9L376 263.3L377.1 255.3L377.3 251.4L378.2 241.2L378.6 239.3L379.9 230.2L381.2 226.9L381.8 227.1L382.5 229.8L383.8 237L385.1 241.8L385.3 243.5L386.4 243.8L387.7 237.8L388.8 234.1L389 235.5L390.3 229.8L391.6 230.6L392.4 227.1L392.9 224.6L394.2 222.1L395.5 221.5L395.9 221.2L396.8 218L398.1 213.6L399.4 210L399.4 210.6L400.7 216L402 224.8L402.9 225.9L403.3 224.9L404.6 220.6L405.9 217.8L406.5 217.6L407.2 220L408.5 225.8L409.8 228.9L410 229.4L411.1 228L412.4 228.3L413.5 227.1L413.7 228.1L415 221.3L416.3 218.2L417.1 215.3L417.6 216.7L418.9 225.5L420.2 235.5L420.6 238.8L421.5 246.3L422.8 250.6L422.9 250.6L424.1 246.5L425.4 244.3L426.5 241.2L426.7 240.8L428 244.4L429.3 245.6L430 245.9L430.6 245L431.9 244.8L433.2 243L433.5 243.5L434.5 246.2L435.8 258.4L436.6 264.7L437.1 269.1L438.4 276.6L439.4 281.2L439.7 281.9L441 283.7L442.3 287.2L442.9 288.2L443.6 292.6L444.9 306.8L445.3 309.4L446.2 317.5L447.5 329.8L447.6 328.2L448.8 335.2L450 342.4L450.1 342.3L451.4 343.1L452.7 343.5L453.5 342.4L454 341.3L455.3 350L456.6 362.6L457.1 365.9L457.9 372.7L459.2 381.5L460.5 382.9L460.6 384.7L461.8 384.3L463.1 384.3L464.1 382.4L464.4 382.6L465.7 384.5L467 390.4L467.6 394.1L468.3 395.7L469.6 406.7L470.9 411.7L471.2 412.9L472.2 415.4L473.5 417.8L474.7 420L474.8 419.8L476.1 410.9L477.4 397.8L478.2 394.1L478.7 393.2L480 391.1L481.3 390.6L481.8 389.4L482.6 388.5L483.9 387.9L485.2 385L486 384.7L486.5 386.2L487.8 394.8L488.8 398.8L489.1 397.9L490.4 399.3L491.7 396.1L492.4 396.5L493 395.8L494.3 406.1L495.6 411.2L495.9 410.6L496.9 409.7L498.2 410.7L499.4 408.2L499.5 409.4L500.8 403.4L502.1 393.6L502.9 392.9L503.4 393.6L504.7 396.6L506 403.3L506.5 405.9L507.3 408.5L508.6 413.7L509.9 418.3L510 417.6L511.2 415.8L512.5 415.7L513.5 414.1L513.8 414.5L515.1 416.1L516.4 421L517.1 422.4L517.7 424.4L519 427L520.3 427.1L521.6 431.3L521.8 429.4L522.9 432L524.2 434.9L525.3 434.1L525.5 432.4L526.8 427.1L528.1 418.9L528.8 410.6L529.4 402.8L530.7 387.7L530.7 387.1L532 396.7L533.3 403.8L533.5 405.9L534.6 405L535.9 403L537.1 398.8L537.2 399.9L538.5 405.7L539.8 415.9L540.6 417.6L541.1 416.5L542.4 406.7L543.7 396.9L544.1 394.1L545 393.5L546.3 394L547.6 393.4L548.8 392.9L548.9 393.9L550.2 398L551.5 403.8L552.4 410.6L552.8 415.2L554.1 426L554.7 427.1L555.4 424.5L556.7 418.6L558 409.8L558.2 410.6L559.3 406.8L560.6 404.7L560.6 405.2L561.9 406.1L563.2 412.5L564.1 417.6L564.5 418.4L565.8 426.3L567.1 432.4L567.6 434.1L568.4 431L569.7 424.7L571 417.6L571.2 417.6L572.3 418.5L573.6 425.6L574.9 428.5L575.9 430.6L576.2 431.6L577.5 427L578.8 426.7L580.1 420.7L580.6 420L581.4 417.2L582.7 416.3L584 411.6L584.1 412.9L585.3 408.8L586.6 407.3L587.6 405.9L587.9 405.4L589.2 409.3L590.5 412.5L591.2 412.9L591.8 412L593.1 403.7L594.4 396.1L594.7 394.1L595.7 392.3L597 392.2L598.3 390.5L599.4 387.1L599.6 384L600.9 370.3L602.2 357.5L602.9 351.8L603.5 351.9L604.8 357.1L606.1 360.8L606.5 361.2L607.4 357.8L608.7 347.7L610 334.5L610 335.3L611.3 332.6L612.6 330.5L613.5 328.2L613.9 325.6L615.2 317.2L616.5 307.8L617.1 304.7L617.8 301.6L619.1 297.8L620.4 289.4L620.6 290.6L621.7 275.2L622.9 264.7L623 266.8L624.3 272.2L625.6 285.6L626.5 288.2L626.9 287.3L628.2 281.5L629.5 277L630 271.8L630.8 266.5L632.1 260.6L633.4 256.7L633.5 255.3L634.7 250.2L635.9 247.1L636 245.2L637.3 251L638.6 257.1L639.4 257.6L639.9 255.6L641.2 254.6L642.5 254.1L642.9 252.9L643.8 257.5L645.1 261.4L646.4 272.9L646.5 274.1L647.7 281.9L648.8 285.9L649 284.7L650.3 276L651.6 264.6L652.4 262.4L652.9 267.1L654.2 291L654.7 300L655.5 307.7L656.8 316L658.1 323.6L658.2 323.5L659.4 334.8L660.7 342.8L661.8 347.1L662 346.9L663.3 345L664.6 341.2L665.3 338.8L665.9 341.9L667.2 353.1L668.5 367.6L668.8 370.6L669.8 374.1L671.1 380.5L672.4 387.1L672.4 386.2L673.7 398.2L675 410.4L675.9 414.1L676.3 414.4L677.6 405.7L678.9 395.3L679.4 394.1L680.2 394L681.5 400.6L682.8 406.1L682.9 405.9L684.1 409.1L685.4 410.3L686.5 410.6L686.7 411.6L688 409.8L689.3 411.4L689.4 410.6L690.6 410.9L691.9 408.4L692.9 408.2L693.2 407.6L694.5 415.5L695.8 419.8L696.5 422.4L697.1 422.5L698.4 416.8L699.7 412.8L700 412.9L701 413.8L702.3 416.7L703.5 418.8L703.6 418.8L704.9 417.6L706.2 410.9L707.5 404.8L707.8 404.7L708.8 408.2L710.1 416.8L711.4 421.4L711.8 422.4L712.7 421.4L714 409.4L715.3 404.3L715.3 403.5L716.6 403.1L717.9 404.2L718.8 405.9L719.2 404.3L720.5 398.5L721.8 395.4L721.9 394.1L723.1 404.9L724.4 426.4L725.2 430.6L725.7 429.3L727 421.6L728.3 414.3L729.4 410.6L729.6 410.2L730.9 410.8L732.2 416.7L733.5 421L734.1 420L734.8 418.8L736.1 412.2L737.4 407.8L737.6 408.2L738.7 406L740 406.7L741.2 405.9L741.3 404.4L742.6 383.4L743.5 371.8L743.9 373.4L745.2 395.4L746.5 415.3L747.1 420L747.8 415.5L749.1 409.7L750.4 398L750.6 396.5L751.7 391.4L753 388.4L753.6 387.1L754.3 388.5L755.6 402.5L756.5 410.6L756.9 413.7L758.2 419.1L759.5 424.1L760 424.7L760.8 425.9L762.1 426L762.4 425.9L763.4 422.8L764.7 415.2L765.9 405.9L766 406.8L767.3 395.4L768.2 389.4L768.6 389.5L769.9 405.2L770.6 408.2L771.2 404.5L772.5 398.1L772.9 398.8L773.8 400.9L775.1 406.7L776.4 412.2L776.5 410.6L777.7 409.8L779 414L780 412.9L780.3 412.1L781.6 406.7L782.9 400.2L784 396.5L784.2 398.3L785.5 399L786.8 403.1L787.1 405.9L788.1 407.9L789.4 411.6L790.6 412.9L790.7 414.4L792 412.6L793.3 410.6L794.1 410.6L794.6 410.6L795.9 416L797.2 423L797.6 422.4L798.5 419.7L799.8 417.9L801.1 414.5L801.2 415.3L802.4 413.7L803.7 409.4L804.7 408.2L805 407.6L806.3 413.2L807.6 419.2L808.2 417.6L808.9 418.3L810.2 412L811.5 410.5L811.8 410.6L812.8 413.7L814.1 414.5L815.3 418.8L815.4 417.4L816.7 415.9L818 412.1L818.8 408.2L819.3 405.4L820.6 399.6L821.9 393.6L822.4 392.9L823.2 392.7L824.5 390.4L824.7 391.8L825.8 393.1L827.1 402.8L828.2 410.6L828.4 411L829.7 413.3L831 413.4L831.8 412.9L832.3 410.6L833.6 407.2L834.9 405.8L835.3 405.9L836.2 407.1L837.5 413.3L838.8 419.3L838.8 420L840.1 404.7L841.2 394.1L841.4 394.1L842.7 397.2L844 401.4L844.7 403.5L845.3 405.8L846.6 411.9L847.9 415L848.2 415.3L849.2 414.6L850.5 414.1L851.8 414.1L851.8 415.6L853.1 416.4L854.4 422.8L855.3 424.7L855.7 427.7L857 430.9L857.6 429.4L858.3 426L859.6 423.2L860.9 417.6L861.2 415.3L862.2 410.7L863.5 404.9L864.8 399.7L865.9 400L866.1 399.3L867.4 405.1L868.7 409.3L869.4 412.9L870 412.2L871.3 406.2L872.6 402.7L872.9 402.4L873.9 406.5L875.2 417.7L875.3 417.6L876.5 416.1L877.8 410.5L879.1 405.1L880.4 403.1L881.2 401.2L881.7 402.8L883 407.6L884.3 415.3L884.7 415.3L885.6 413.2L886.9 411.5L888.2 407.1L888.2 410.6L889.5 411.8L890.8 417.4L892.1 419.7L892.9 421.2L893.4 420.7L894.7 409.6L895.3 408.2L896 409.2L897.3 411.6L898.6 412.9L898.8 414.1L899.9 416.4L901.2 412.1L902.5 410.2L903.5 410.6L903.8 410.4L905.1 406.7L906.4 401.2L907.7 396.8L908.2 396.5L909 397.7L910.3 401.3L911.6 403.1L911.8 402.4L912.9 398.5L914.2 397.2L915.3 392.9L915.5 393L916.8 392.8L918.1 399.2L918.8 398.8L919.4 398L920.7 394.1L922 392.1L922.4 389.4L923.3 391.8L924.6 400.9L925.9 407.1L925.9 405.9L927.2 403.6L928.5 397.7L929.4 394.1L929.8 394.2L931.1 393.3L932.4 389.8L932.9 391.8L933.7 388.5L935 377L935.3 372.9L936.3 362.7L937.6 350.2L938.4 347.1L938.9 344.9L940.2 345.1L941.5 341.9L942.4 342.4L942.8 343.1L944.1 332L944.7 328.2L945.4 323.3L946.7 315.5L947.1 316.5L948 320.1L949.3 328.8L949.4 328.2L950.6 334.1L951.8 340L951.9 340.6L953.2 344.4L954.5 347.7L955.3 347.1L955.8 345.9L957.1 333.5L957.6 328.2L958.4 324.2L959.7 325.8L961 320.6L961.2 321.2L962.3 323.1L963.5 328.2L963.6 327.1L964.9 327.5L966.2 324.8L967.1 321.2L967.5 321.5L968.8 306.7L969.4 302.4L970.1 302.1L971.4 306.1L972.7 308.8L972.9 309.4L974 301.9L975.3 290.4L975.3 290.6L976.6 284.9L977.9 284L978.4 282.4L979.2 290L980 296.5L980.5 295.4L981.8 278.7L982.4 271.8L983.1 261.5L984.4 248.6L984.7 245.9L985.7 240.8L987 239.2L988.2 234.1L988.3 235.5L989.6 230.9L990.9 230L991.8 230.6L992.2 229.7L993.5 229.3L994.1 229.4L994.8 231.4L996.1 233.4L997.4 238.6L997.6 238.8L998.7 242.3L1000 245.6L1000 245.9L1001.3 240.9L1002.6 226.1L1003.5 217.6L1003.9 217.5L1005.2 206.4L1005.9 203.5L1006.5 202.4L1007.8 199.8L1008.9 198.4L1009.1 199.3L1010.4 210.5L1011.7 218.9L1011.8 220L1013 224.1L1014.3 227.3L1015.3 229.4L1015.6 231.4L1016.9 225.5L1018.2 220.3L1018.8 218.8L1019.5 220.2L1020.8 221.4L1022.1 227.9L1022.4 227.1L1023.4 222.6L1024.7 213.4L1025.2 211.8L1026 226.4L1027.1 248.2L1027.3 248L1028.6 242.5L1029.9 234.9L1030.6 234.1L1031.2 235.8L1032.5 249.4L1033.4 257.6L1033.8 258.2L1035.1 273.4L1036.4 279.6L1036.5 278.8L1037.7 275.1L1038.8 274.1L1039 274.9L1040.3 282.4L1041.6 292.1L1042.4 295.3L1042.9 296.7L1044.2 291.4L1044.7 290.6L1045.5 290.6L1046.8 289.9L1048.1 295.4L1048.2 292.9L1049.4 305.9L1050.6 323.5L1050.7 324.8L1052 333.7L1053.3 344.2L1054.1 347.1L1054.6 350.6L1055.9 365L1057.2 373.4L1057.6 372.9L1058.5 370.7L1059.8 362.2L1060 361.2L1061.1 365.8L1062.4 371.7L1063.5 375.3L1063.7 372.8L1065 371.2L1066.3 374.6L1067.1 372.9L1067.6 370.8L1068.9 377.6L1070.2 383L1070.6 380L1071.5 379.3L1072.8 384.5L1074.1 385.3L1074.1 384.7L1075.4 380.4L1076.7 372.7L1077.6 372.9L1078 373.3L1079.3 381.8L1080.6 387L1081.2 388.2L1081.9 386.6L1083.2 378.1L1083.5 375.3L1084.5 361.7L1085.8 345.2L1085.9 344.7L1087.1 349.9L1088.2 349.4L1088.4 348.2L1089.7 335.5L1090.6 328.2L1091 326.4L1092.3 316.3L1092.9 314.1L1093.6 311.6L1094.9 308L1095.3 309.4L1096.2 310.9L1097.5 316.1L1098.8 320.5L1098.8 320L1100.1 314.3L1101.4 303L1102.4 300L1102.7 300L1104 297.7L1105.3 294.1L1105.9 295.3L1106.6 292.3L1107.9 285.5L1109.2 278.9L1109.4 278.8L1110.5 283.6L1111.8 290.6L1111.8 291.3L1112.5 290.6L1113.1 285.4L1114.1 271.8L1114.4 267.9L1115.7 254L1116.5 249.4L1117 249.4L1118.3 250.2L1119.5 252.9L1119.6 253.3L1120.9 258.3L1122.2 263.4L1122.4 262.4L1123.5 257.4L1124.8 243.8L1125.2 241.2L1126.1 236.6L1127.4 231L1127.8 231.8L1128.7 234.2L1130 240.4L1130.6 243.5L1131.3 247.4L1132.6 252.7L1133.9 255.9L1134.1 255.3L1135.2 255.7L1136.5 256.6L1137.6 256.5L1137.8 258.3L1139.1 258.9L1140.4 256.7L1140.7 257.6L1141.7 271.5L1142.4 290.6L1143 302.9L1144.3 320.8L1144.7 325.9L1145.6 329.3L1146.9 332.8L1148.2 337L1148.2 335.3L1149.5 339.2L1150.8 343.8L1151.8 347.1L1152.1 347.3L1153.4 351.8L1154.7 353.3L1155.3 356.5L1156 359.2L1157.3 363L1158.1 365.9L1158.6 370.4L1159.9 380L1161.2 387.1L1161.2 387.5L1162.5 376.2L1163.8 360.5L1164.2 358.8L1165.1 360.6L1166.4 370.9L1167.1 375.3L1167.7 377.4L1169 380.9L1170.3 384.9L1170.6 384.7L1171.6 390.8L1172.2 394.1L1172.9 392.7L1174.2 384.1L1175.3 378.8L1175.5 379.9L1176.8 382.4L1178.1 387.4L1178.8 389.4L1179.4 390.5L1180.7 393.8L1181.2 394.1L1182 392.5L1183.3 385L1184.6 381.7L1184.7 382.4L1185.9 378.6L1187.2 381.5L1188.2 380L1188.5 380.7L1189.8 374.8L1191.1 369.1L1191.8 365.9L1192.4 363.6L1193.7 357.7L1195 354.7L1195.3 351.8L1196.3 347.4L1197.6 342.7L1198.8 340L1198.9 340L1200.2 348.3L1201.2 349.4L1201.5 346.3L1202.8 329L1203.5 318.8L1204.1 312.9L1205.4 305.2L1206.4 303.5L1206.7 302.9L1208 312.3L1209.3 317.3L1209.4 318.8L1210.6 318.8L1211.8 321.2L1211.9 321.2L1213.2 336.7L1214.1 351.8L1214.5 354.9L1215.8 372.2L1216.5 375.3L1217.1 377.4L1218.4 381.7L1219.7 387.8L1220 387.1L1221 390.3L1222.3 395.4L1223.5 396.5L1223.6 394.6L1224.9 397.5L1226.2 399.2L1227.1 398.8L1227.5 397.7L1228.8 385.9L1229.4 382.4L1230.1 384.8L1231.4 388.6L1232.7 393L1232.9 391.8L1234 385.8L1235.3 370.2L1235.8 369.4L1236.6 371.6L1237.9 379.2L1238.8 380L1239.2 378.8L1240.5 378.5L1241.8 376.4L1242.4 375.3L1243.1 378.2L1244.4 380.6L1245.7 389.8L1245.9 387.1L1247 380.8L1248.3 371.8L1249.6 367L1249.9 363.5L1250.9 364.9L1252.2 378.8L1252.9 382.4L1253.5 388.8L1254.8 408.2L1255.3 408.2L1256.1 409.3L1257.4 404.6L1257.6 403.5L1258.7 393.8L1260 384.4L1260 384.7L1261.3 393.9L1262.4 408.2L1262.6 408.8L1263.9 423.1L1264.7 425.9L1265.2 423.9L1266.5 422.8L1267.8 417.1L1268.2 415.3L1269.1 409.5L1270.4 400.2L1270.6 401.2L1271.7 408.2L1272.9 420L1273 421L1274.3 413.1L1275.6 404.5L1276.5 402.4L1276.9 402.4L1278.2 406L1279.5 410.3L1280 408.2L1280.8 410.3L1282.1 407.7L1283.4 406.7L1283.5 405.9L1284.7 415.3L1285.9 423.5L1286 423.3L1287.3 421.8L1288.6 417.1L1289.4 417.6L1289.9 417.7L1291.2 415.1L1292.5 414.4L1292.9 412.9L1293.8 409.3L1295.1 395.6L1295.3 394.1L1296.4 400.8L1297.6 410.6L1297.7 412L1299 423.9L1300 430.6L1300.3 429.2L1301.6 415.9L1302.4 410.6L1302.9 406.7L1304.2 401L1304.7 400L1305.5 403.1L1306.8 411.9L1308.1 417.2L1308.2 417.6L1309.4 412.9L1310.6 410.6L1310.7 410.8L1312 419.3L1312.9 423.5L1313.3 421.1L1314.6 421.1L1315.9 415.3L1316.5 415.3L1317.2 412.8L1318.5 409.2L1318.8 408.2L1319.8 403.8L1321.1 399.7L1322.4 396.5L1322.4 396.4L1323.7 392.8L1324.7 391.8L1325 391.5L1326.3 383.2L1327.1 377.6L1327.6 375.9L1328.9 368.7L1329.4 368.2L1330.2 365.5L1331.5 362.1L1331.8 362.4L1332.8 366.3L1334.1 372.7L1334.1 371.8L1335.4 357.6L1336.5 340L1336.7 337L1338 318.4L1338.8 309.4L1339.3 307.1L1340.6 304.8L1341.2 302.4L1341.9 300.1L1343.2 294.2L1344.5 291.4L1344.7 290.6L1345.8 286.6L1347.1 281.2L1347.1 280.6L1348.4 278.5L1349.4 271.8L1349.7 269.6L1351 256.9L1351.8 255.3L1352.3 256.1L1353.6 262.6L1354.8 267.1L1354.9 267.7L1356.2 261.7L1357.2 248.2L1357.5 244.6L1358.8 225.2L1359.3 221.2L1360.1 222.5L1361.4 230L1362.4 234.1L1362.7 233.2L1364 231.8L1365.3 229.3L1365.9 229.4L1366.6 230.4L1367.9 233.1L1368.2 234.1L1369.2 230L1370.5 223.5L1371.3 222.4L1371.8 224.3L1373.1 229.2L1374.1 234.1L1374.4 235L1375.7 233.7L1377 228.4L1377.2 229.4L1378.3 236.2L1379.6 246L1380 245.9L1380.9 242.6L1382.2 245.9L1383.5 244.4L1383.5 243.5L1384.8 238.4L1386.1 235.2L1387.1 230.6L1387.4 228.3L1388.7 231.5L1390 230L1390.6 229.4L1391.3 227.9L1392.6 228.6L1393.9 225.5L1394.1 227.1L1395.2 223.8L1396.5 216L1397.6 211.8L1397.8 213.4L1399.1 225.7L1400 231.8L1400.4 232.2L1401.7 236.6L1402.4 236.5L1403 234.1L1404.3 221.5L1405.6 217.2L1405.9 215.3L1406.9 215.6L1408.2 213.5L1409.4 212.9L1409.5 215.1L1410.8 216.5L1412.1 221.3L1412.9 227.1L1413.4 228.2L1414.7 233L1415.3 234.1L1416 233.9L1417.3 230.6L1418.6 226.3L1418.8 228.9L1419.9 231.9L1421.2 244L1422.4 249.4L1422.5 250.8L1423.8 248.2L1424.7 248.2L1425.1 245.3L1425.9 241.2" stroke="#800808" stroke-width="3.4" fill="none" stroke-linejoin="round" stroke-linecap="round"/>
<path d="M195.9 161.6L195.9 161.6L197.4 161.2L198.9 158.8L200.4 157.1L201.9 157.3L202.9 156.9L203.4 157.5L204.9 160.3L206.4 162.6L206.5 162.4L207.9 162.2L209.4 161.6L210.9 161.3L211.2 161.6L212.4 162.3L213.9 164.6L215.4 168L215.9 168.2L216.9 170.1L218.4 171.7L219.9 174.9L221.4 175.7L221.8 175.8L222.9 175.4L224.4 172.4L225.9 169.3L226.5 168.7L227.4 168.5L228.9 172.9L230 175.3L230.4 175.7L231.9 183.6L233.4 186.7L233.5 187.1L234.9 185.8L236.4 183.6L237.1 181.2L237.9 177.9L239.4 173.3L240.6 171.1L240.9 170.6L242.4 172.6L243.6 175.3L243.9 175.6L245.4 184.5L246.5 188.2L246.9 188.5L248.4 189.9L249.9 190.7L251.4 189.8L251.6 190.6L252.9 190.9L254.4 188.6L255.9 185.7L257.1 184.7L257.4 183.8L258.9 180.2L260.4 175.5L261.8 172.9L261.9 172.7L263.4 174L264.9 175.7L266.4 177L266.5 176.5L267.9 176.5L269.4 177L270.9 176.1L271.2 176.5L272.4 173.1L273.9 166.2L275.2 162.4L275.4 162.8L276.9 164.5L278.2 168.2L278.4 169.2L279.9 183.9L280.6 189.4L281.4 193.5L282.9 198.7L283.6 198.8L284.4 198.7L285.3 197.6L285.9 230.3L286.5 281.2L287.4 349.7L288.8 420L288.9 419.7L290.4 392.8L291.2 375.3L291.9 361.4L293.4 330L294.7 304.7L294.9 302L296.4 275.8L297.9 253.8L299.4 234.2L299.4 234.1L300.9 216.6L302.4 203L303.9 191.5L304.1 189.4L305.4 182L306.9 176.6L307.6 174.1L308.4 173.5L309.9 169.3L311.4 168.5L312.4 167.1L312.9 167.6L314.4 166.7L315.9 164.2L317.4 163.7L318.9 163.9L320.4 164.2L320.6 163.5L321.9 164.2L323.4 167.6L324.1 169.4L324.9 170.7L326.4 176.1L327.6 177.2L327.9 176.9L329.4 177.2L330.9 176.6L332.4 175.3L332.4 175.9L333.9 172.2L335.4 166.9L336.9 164.2L337.1 163.5L338.4 164.4L339.9 164.6L340.6 165.4L341.4 165L342.9 164.6L344.1 163.5L344.4 168.3L345.3 210.6L345.9 227.2L347.2 257.6L347.4 263.1L348.4 283.1L348.9 250.2L349.1 234.1L350 173.4L350.4 173.7L351.9 177.6L352.4 178.8L353.4 184L354.9 194.6L355.9 203.5L356.4 209.2L357.9 228.4L359.4 250.6L359.9 257.6L360.9 272.3L362.4 297.3L362.9 304.7L363.9 319L364.6 325.9L365.4 330.2L366.5 332.9L366.9 331.3L368.4 327.7L368.8 325.9L369.9 320.1L371.4 311.1L372.4 304.7L372.9 301.1L374.4 290.7L375.9 281L377.1 271.8L377.4 269.4L378.9 258.1L380.4 244.7L381.8 234.1L381.9 233.2L383.4 222.5L384.9 210.8L386.4 199.2L386.5 198.8L387.9 187.4L389.4 176.4L390 172.9L390.9 167.7L392.4 162.4L392.4 162.8L393.9 162.8L395.4 164L396.9 165.1L397.1 164.7L398.4 166.3L399.9 169.2L401.4 170.5L401.8 170.1L402.9 169.4L404.4 167.3L405.3 165.9L405.9 164.8L407.4 160.9L408.8 159.3L408.9 158.7L410.4 160.5L411.9 162.5L412.4 163.5L413.4 167L414.9 172.9L416.4 176.5L416.4 176.6L417.9 175.9L419.4 174.2L420.9 173.3L421.8 172.9L422.4 173.2L423.9 177.6L425.3 182.4L425.4 183L426.9 186.4L428.4 189.7L429.9 193.4L430 194.1L431.4 199.6L432.9 207.1L434.4 212.5L434.7 215.3L435.9 222.6L437.4 231.8L438.9 242.7L439.4 245.9L440.4 254.7L441.9 267.1L442.9 274.1L443.4 276.4L444.6 278.8L444.9 281.6L446 304.7L446.4 310.5L447.9 331.5L448.8 342.4L449.4 348.7L450.9 364.9L452.4 377.6L452.4 377.7L453.9 388.1L455.4 397L455.9 398.8L456.9 401.6L458.4 406.9L459.9 408.4L460.1 408.2L461.4 406.8L462.9 400.4L464.1 398.8L464.4 398L465.9 403.2L467.4 410.1L467.6 410.6L468.9 411L470.4 412.7L471.9 412.2L472.4 412.9L473.4 411.4L474.9 409.2L476.4 406.1L477.1 405.9L477.9 407.1L479.4 411.1L480.9 414.1L481.3 414.1L482.4 412.8L483.9 410.4L485.3 408.2L485.4 409.3L486.9 405.3L488.4 403.1L489.3 402.4L489.9 402.9L491.4 406.8L492.9 412.8L493.5 415.3L494.4 418.6L495.9 426.1L497.4 432.5L498.2 436.5L498.9 439.1L500.4 441.7L501.9 444L503.4 447.6L504.9 450.2L505.3 450.6L506.4 451.8L507.9 454.9L509.4 458.4L510.9 460.4L512.4 462.4L512.4 462.7L513.9 465.7L515.4 468.1L516.9 470.7L518.4 473.4L519.4 472.9L519.9 472.8L521.4 471.2L522.9 469.4L524.1 468.2L524.4 468.3L525.9 468.1L527.4 470.7L528.9 470.7L530.4 472.5L531.2 471.8L531.9 472.2L533.4 471.7L534.9 473.1L536.4 472.3L537.9 472L539.4 472.6L540.9 471.6L542.4 473.1L542.9 472.9L543.9 472.8L545.4 473.7L546.9 474.1L548.4 475.7L549.9 476.2L551.4 477L552.4 476.5L552.9 477.4L554.4 476.4L555.9 475.9L557.4 475.4L558.9 474.1L560.4 473.4L561.8 472.9L561.9 473.3L563.4 471.4L564.9 469.6L566.4 469.3L566.5 469.4L567.9 468.8L569.4 468.6L570.7 467.5L570.9 467.3L572.4 471.3L573.5 474.1L573.9 474.2L575.4 473.7L576.9 473.2L578.4 472L579.9 471.7L580.6 471.3L581.4 470.8L582.9 471.3L584.4 470.7L585.9 470.6L587.4 469.8L588.9 469L590 469.4L590.4 469.4L591.9 469L593.4 469.1L594.9 468.3L595.9 467.1L596.4 465.5L597.9 456L598.2 455.3L599.4 455.4L600.9 457.3L601.8 457.6L602.4 457.2L603.9 451.9L605.3 445.9L605.4 445L606.9 439.8L608.4 431.2L609.9 424L610 422.4L611.4 413L612.9 400.4L613.5 394.1L614.4 386.8L615.9 375.3L617.1 363.5L617.4 359.2L618.9 338.6L620.4 316L620.6 314.1L621.9 298.3L623.4 281.8L624.1 274.1L624.9 266.5L626.4 250.8L627.6 238.8L627.9 236.8L629.4 225.2L630.9 216L631.2 215.3L632.4 210.5L633.9 206.8L634.2 207.5L635.4 209.2L636.9 215L637.1 215.3L638.4 221.7L639.9 233.2L640.6 238.8L641.4 246.3L642.9 265.3L644.1 281.2L644.4 283.9L645.9 301.1L647.4 316L647.6 318.8L648.9 331L650.4 344.2L651.2 351.8L651.9 358.2L653.4 373.1L654.7 387.1L654.9 388.5L656.4 403.2L657.9 416.4L658.2 417.6L659.4 422.6L660.6 424.7L660.9 423.9L662.4 424.8L663.9 424L664.1 423.5L665.4 420.1L666.9 417.8L667.6 417.6L668.4 418.1L669.9 419.1L671.2 422.4L671.4 422.5L672.9 428.6L674.4 435.3L674.7 436.5L675.9 441.6L677.4 447.8L678.2 450.6L678.9 452.6L680.4 460L681.8 461.2L681.9 461.5L683.4 462.1L684.9 460.4L686.4 460.4L686.5 460L687.9 459.6L689.4 458.8L689.9 458.8L690.9 459.3L692.4 460.6L693.9 462.8L695.4 464.7L696.5 465.9L696.9 466.5L698.4 469.1L699.9 472L701.4 472.9L701.6 472.9L702.9 473.7L704.4 473.8L705.9 473L707.4 473.7L708.2 474.1L708.9 473.7L710.4 473.4L711.9 473.6L713.4 472.9L714.9 473.8L715.3 473.6L716.4 473.5L717.9 474.8L719.4 474.9L720.9 474.7L722.4 475.9L723.9 476.4L724.7 476.5L725.4 476.2L726.9 476.5L728.4 476.2L729.9 476.5L731.4 477L732.9 476.8L734.1 476.9L734.4 477.6L735.9 476L737.4 476.7L738.9 476.9L740.4 477.9L741.9 477.7L743.4 477.6L744.9 477.7L745.9 477.2L746.4 478L747.9 477.5L749.4 476.9L750.9 477L752.4 476.4L753.9 476.4L755.4 476.5L756.9 475.9L757.6 476L758.4 476L759.9 475.6L761.4 475L762.9 474.8L764.4 475.6L765.9 475.1L767.4 475.2L768.2 474.6L768.9 474.4L770.4 474L771.9 473.4L773.4 472.2L774.1 471.8L774.9 471.6L776.4 468.2L777.9 464.4L778.8 462.4L779.4 461L780.9 459.2L782.4 457.8L783.5 456.5L783.9 456.7L785.4 454.6L786.9 453.4L788.2 452.9L788.4 453.2L789.9 453.4L791.4 453.9L792.9 454.1L794.1 454.8L794.4 455.4L795.9 452.5L797.4 448.9L798.8 447.1L798.9 447L800.4 446L801.9 445.5L803.4 445.1L803.5 445.9L804.9 444.4L806.4 440.4L807.9 439L808.2 438.8L809.4 438.3L810.9 438.2L812.4 439L812.9 439.3L813.9 438.9L815.4 438.6L816.9 439.4L818.4 438L818.8 437.6L819.9 436.4L821.4 434.7L822.9 430.8L823.5 429.4L824.4 427.9L825.9 421.6L827.1 417.6L827.4 416.7L828.9 406.3L830.4 395.3L830.6 394.1L831.9 383.9L833.4 370L834.1 363.5L834.9 354.8L836.4 338.3L837.6 323.5L837.9 320.4L839.4 299.1L840 295.3L840.9 292.9L842.4 289.2L842.8 289.4L843.9 292L845.2 300L845.4 301.3L846.9 316.9L848.2 332.9L848.4 335.1L849.9 350.1L851.4 367L851.8 370.6L852.9 380.6L854.4 391.9L855.3 398.8L855.9 403.6L857.4 415.7L858.8 427.1L858.9 427.6L860.4 437L861.9 446.1L863.4 452L863.5 452.9L864.9 456.5L866.4 460L867.9 462L869.4 465.2L869.4 464.7L870.9 466.2L872.4 467L873.9 468.5L875.3 468.9L875.4 469L876.9 468.5L878.4 467.5L879.9 467L880 467.1L881.4 463.2L882.9 458.7L883.5 458.8L884.4 460.1L885.9 463.2L887.1 463.5L887.4 464.4L888.9 464.3L890.4 463L891.8 461.2L891.9 460.6L893.4 454.8L894.9 449.2L895.3 448.2L896.4 448.5L897.9 450L898.8 450.6L899.4 449.9L900.9 444.9L902.4 441.2L902.4 440.5L903.9 443.8L905.4 448.9L906.9 450.7L907.1 451.8L908.4 449.8L909.9 443.9L910.6 441.2L911.4 438.7L912.9 436.5L914.4 432.2L915.3 429.4L915.9 427.8L917.4 422.9L918.9 414.6L920 410.6L920.4 408.6L921.9 400.3L923.4 390.2L924.7 380L924.9 378.7L926.4 367.7L927.9 354.8L928.2 351.8L929.4 338L930.9 316.6L931.8 304.7L932.4 295.1L933.9 275.4L935.3 257.6L935.4 256.1L936.9 238.7L938.4 223.4L938.8 220L939.9 211.7L941.4 202.5L942.4 198.8L942.9 197.5L944.4 194.6L945.4 194.1L945.9 194L947.4 197.1L948.7 201.2L948.9 201.6L950.4 210L951.8 220L951.9 221.6L953.4 234.3L954.9 247.4L955.3 250.6L956.4 256.5L957.9 265L958.8 269.4L959.4 269.8L960.9 276.1L962.4 277.6L962.4 278.2L963.9 273.1L965.4 264.7L965.9 262.4L966.9 257.2L968.2 250.6L968.4 250.5L969.9 246.8L970.6 245.9L971.4 239.5L972.9 220.4L972.9 220L974.4 205.5L975.9 194.2L976.5 189.4L977.4 183.9L978.9 174.8L980 171.8L980.4 171.3L981.9 169.8L983.4 169L984.7 168.2L984.9 167.8L986.4 166.1L987.9 163.6L988.2 163.5L989.4 163.5L990.9 164.2L992.4 165.7L992.9 165.9L993.9 166.3L995.4 167.4L996.5 168.7L996.9 168.6L998.4 168.1L999.9 164.9L1001.2 163.5L1001.4 163.4L1002.9 161.3L1004.4 160.2L1005.9 158.8L1005.9 159.1L1007.4 159.4L1008.9 163.5L1009.4 163.5L1010.4 165.4L1011.9 168.3L1012.9 170.6L1013.4 170.9L1014.9 173.3L1016.4 175.3L1017.6 175.3L1017.9 175.1L1019.4 173.5L1020.9 172.7L1021.2 171.8L1022.4 171.6L1023.9 169.6L1025.2 169.4L1025.4 169.5L1026.9 171.9L1028.2 175.3L1028.4 175.6L1029.9 181.3L1031.4 190.2L1031.8 191.8L1032.9 198.2L1034.4 208.5L1035.3 215.3L1035.9 219.1L1037.4 227.8L1038.8 234.1L1038.9 234.8L1040.4 239.8L1041.9 245.2L1043.4 249.6L1043.5 250.6L1044.9 254.6L1046.4 258.2L1047.9 263.3L1048.2 264.7L1049.4 268.5L1050.9 271L1052.4 276.1L1052.9 276.5L1053.9 278.5L1055.4 280.1L1056.9 284.5L1057.6 285.9L1058.4 287.6L1059.9 294L1061.2 300L1061.4 301.1L1062.9 312.6L1064.4 325.7L1064.7 328.2L1065.9 335.9L1067.4 346.2L1068.2 351.8L1068.9 355.3L1070.4 364.7L1071.8 370.6L1071.9 370.8L1073.4 377.9L1074.9 383.7L1075.3 384.7L1076.4 388.3L1077.9 391L1079.4 394.2L1080 395.3L1080.9 396.6L1082.4 401.5L1083.9 402.3L1085.4 404.7L1085.9 404.7L1086.9 402.6L1088.2 396.5L1088.4 395.7L1089.9 381.2L1090.6 375.3L1091.4 370.2L1092.9 363.5L1094.1 356.5L1094.4 355.3L1095.9 344.9L1097.4 334.6L1097.6 332.9L1098.9 323.5L1100.4 314.5L1100.7 314.1L1101.9 318.5L1103.4 327.3L1104 328.2L1104.9 325.7L1106.4 314.4L1107.1 311.8L1107.9 309.1L1109.4 304.8L1110.1 304.7L1110.9 311.9L1112.4 332.7L1112.5 332.9L1113.9 319.6L1114.8 304.7L1115.4 294.2L1116.9 269.5L1116.9 268.9L1118.4 281.6L1119.3 290.6L1119.9 295.1L1121.4 304.8L1122.4 308.2L1122.9 307.4L1124.4 300.5L1125.9 292.6L1125.9 292.9L1127.4 291.7L1128.9 292.2L1129.4 290.6L1130.4 290.4L1131.9 287.8L1133.4 286.5L1133.4 286.4L1134.9 295.3L1135.3 300L1136.4 314.9L1137.6 332.9L1137.9 336.4L1139.4 353.4L1140.9 371.7L1141.2 375.3L1142.4 390.5L1143.9 409.1L1144.7 417.6L1145.4 423.5L1146.9 437.6L1148.2 443.5L1148.4 443.5L1149.9 448.1L1151.4 450.2L1151.8 450.6L1152.9 452.9L1154.4 456.2L1155.9 459.3L1156.5 460L1157.4 461.3L1158.9 464.5L1160.4 467.3L1161.2 467.1L1161.9 466.9L1163.4 463.2L1164.7 461.2L1164.9 460.6L1166.4 460.5L1167.9 462.4L1168.9 461.9L1169.4 462.9L1170.9 464.2L1172.4 466.2L1173.4 466.6L1173.9 466.1L1175.4 462.3L1176.9 456.4L1177.6 452.9L1178.4 450.9L1179.9 445.4L1181.2 441.2L1181.4 440.6L1182.9 434.4L1184.4 428.4L1184.7 427.1L1185.9 421.3L1187.4 413.6L1188.2 410.6L1188.9 406.9L1190.4 399.8L1191.8 391.8L1191.9 390.6L1193.4 381.1L1194.9 369L1195.3 365.9L1196.4 356.7L1197.9 342.3L1198.8 332.9L1199.4 327.5L1200.9 307.8L1202.4 290.6L1202.4 290.3L1203.9 275.1L1205.4 261.7L1205.9 257.6L1206.9 251.2L1208.2 247.1L1208.4 247.7L1209.9 245.5L1210.6 245.9L1211.4 248.5L1212.9 261.5L1212.9 262.4L1214.4 274.1L1215.9 285.3L1216.5 290.6L1217.4 298.6L1218.9 311.2L1220 318.8L1220.4 320.9L1221.9 328.7L1223.4 335.8L1223.5 335.3L1224.9 340.8L1226.4 344.3L1227.1 347.1L1227.9 350.9L1229.4 358.6L1230.9 363.4L1231.1 363.5L1232.4 353.1L1233.4 342.4L1233.9 339.4L1235.4 330.2L1236.5 323.5L1236.9 319.3L1238.4 304.1L1238.8 300L1239.9 291.6L1241.4 281.5L1242.4 276.5L1242.9 275.2L1244.4 270.6L1245.9 269L1245.9 269.4L1247.4 273.5L1248.2 276.5L1248.9 279L1250.4 285.2L1251.3 286.4L1251.9 286.1L1253.4 278L1254.1 276.5L1254.9 274.6L1256.4 272.6L1257.6 270.6L1257.9 269.8L1259.4 269.2L1260.9 267.1L1261.2 267.1L1262.4 269.2L1263.9 272.7L1264.7 273.6L1265.4 272.2L1266.9 263.5L1267.1 262.4L1268.4 256.8L1269.9 249L1270.6 245.9L1271.4 239.2L1272.9 226.7L1274.1 220L1274.4 219.9L1275.9 216.9L1277.4 215.7L1277.6 215.8L1278.9 217.7L1280 220L1280.4 221.9L1281.9 231.2L1282.4 234.1L1283.4 238.4L1284.9 242.1L1285.2 242.4L1286.4 240L1287.9 235.5L1288.2 235.3L1289.4 235.6L1290.6 235.3L1290.9 235.6L1292.4 241.4L1293.6 244.7L1293.9 244.7L1295.4 242.1L1296.9 239.7L1296.9 240L1298.4 241.7L1299.9 245.2L1300.7 247.1L1301.4 249.6L1302.9 254.4L1304.4 258.3L1304.7 260L1305.9 265.6L1307.4 275.9L1308.2 281.2L1308.9 285.6L1310.4 297.9L1311.8 309.4L1311.9 309.8L1313.4 325.1L1314.9 336.9L1315.3 340L1316.4 344.8L1317.9 348.4L1318.8 351.8L1319.4 354.3L1320.9 362.4L1322.4 365.9L1322.4 365.5L1323.9 365.1L1325.4 364.4L1326.9 360.7L1327.1 361.2L1328.4 359.4L1329.9 355.9L1331.4 355.6L1331.8 355.3L1332.9 358.6L1334.4 366.5L1335.3 369.4L1335.9 368.1L1337.4 362.2L1338.8 351.8L1338.9 351.7L1340.4 337.2L1341.9 321.8L1342.4 316.5L1343.4 305.7L1344.9 290.8L1345.9 281.2L1346.4 276.4L1347.9 260.8L1349.4 246.4L1349.4 245.9L1350.9 233.3L1352.4 219.7L1352.9 215.3L1353.9 207L1355.4 193.5L1356.5 187.1L1356.9 184.9L1358.4 182L1359.9 180.1L1360 179.5L1361.4 178.5L1362.9 178.8L1364.4 179.3L1364.7 178.8L1365.9 179.8L1367.4 180.9L1368.2 182.4L1368.9 183.7L1370.4 189.2L1371.8 194.1L1371.9 193.8L1373.4 198.7L1374.9 202.5L1375.3 201.6L1376.4 199.5L1377.9 195.2L1378.8 191.8L1379.4 189.3L1380.9 184.2L1382.4 177.6L1382.4 176.8L1383.9 173.3L1385.4 169.3L1385.9 168.2L1386.9 166.5L1388.4 165.4L1389.9 164.3L1390.6 163.5L1391.4 163.4L1392.9 160.6L1394.4 159.3L1395.3 158.4L1395.9 159.1L1397.4 160.6L1398.8 163.5L1398.9 163.7L1400.4 169L1401.9 176.6L1402.4 177.6L1403.4 182.6L1404.9 188.4L1405.9 189.4L1406.4 188.8L1407.9 185.1L1409.4 180.5L1409.4 180L1410.9 174.8L1412.4 169L1412.9 168.2L1413.9 165.6L1415.4 164L1416.5 163.1L1416.9 163.7L1418.4 167.2L1419.9 173.3L1420 172.9L1421.4 178.5L1422.9 187L1423.5 191.8L1424.4 197.2L1425.9 207.1L1425.9 207.5" stroke="#f40808" stroke-width="3.1" fill="none" stroke-linejoin="round" stroke-linecap="round"/>
<path d="M196.6 847.6L197.8 876L198.9 879.4L200.1 871.7L201.3 821.8L202.5 748.5L203.6 699.4L204.8 697.5L206 722.9L206.9 758L207.9 808.7L208.8 810L209.8 803.5L210.7 765.4L211.6 770L212.6 776.8L213.5 806.7L214.5 841L215.4 844.1L216.4 821.3L217.3 792.6L218.2 774.7L219.1 786.9L220 808.5L220.9 809.4L221.8 835.9L222.6 811.1L223.5 790L224.4 786.2L225.3 734.7L226.2 750.2L227.1 782.1L227.9 766.7L228.8 798.2L229.7 820.4L230.6 817.7L231.5 815L232.4 831.2L233.2 801.3L234.1 785.8L235 736.6L235.9 711.2L236.8 749.6L237.6 779.1L238.5 802.4L239.4 798.2L240.3 839.5L241.1 809.4L242 850L242.9 849.3L243.7 890.1L244.6 890L245.6 869L246.6 848.6L247.6 821.8L248.5 822.5L249.4 798.9L250.3 802.7L251.2 793.5L252.1 774.3L253.1 802.5L254 761.5L254.9 760.5L255.9 751.2L256.8 710.5L257.6 701.5L258.5 698L259.4 697.1L260.6 749L261.8 774.7L262.8 806.2L263.8 817.3L264.8 831.2L265.8 795L266.7 807.5L267.6 751.2L268.5 718L269.4 703L270.3 706.4L271.2 680.6L272.1 661.4L272.9 677.1L273.8 684L274.7 664.1L275.6 656.8L276.5 657.6L277.4 645L278.2 637.1L279.4 642.9L280.6 668.8L281.5 659.8L282.4 659.8L283.2 672.8L284.1 673.5L285.3 669.5L286.5 715.9L287.6 725.2L288.8 751.2L289.8 769.1L290.7 801L291.6 772.6L292.6 799.9L293.5 821.8L294.5 830.6L295.4 840L296.4 814.7L297.3 854.3L298.2 845.3L299.2 823.6L300.1 844.2L301.1 814.5L302 814.6L302.9 798.2L303.8 839.8L304.7 839.4L305.6 845L306.5 857.1L307.4 849.4L308.2 862.6L309.1 858.1L310 887.6L310.9 926.1L311.8 878.6L312.6 878.6L313.5 917.1L314.4 926.1L315.3 913.7L316.2 875.8L317.1 868.8L317.9 859.1L318.8 809.3L319.7 789.7L320.6 774.7L321.6 781.6L322.6 778.3L323.6 770L324.6 793.1L325.5 855.8L326.5 859.4L327.4 850.4L328.2 819.8L329.1 777.7L330 774.7L330.9 770.4L331.8 756.1L332.6 752.9L333.5 746.5L334.4 762L335.3 742.6L336.2 758.3L337.1 755.9L337.9 756.1L338.8 736.1L339.7 754L340.6 704.1L341.5 690.4L342.4 701.3L343.2 690.4L344.1 699.4L345 701.2L345.9 717.8L346.8 690.4L347.6 708.8L348.8 688.2L350 675.9L350.9 680.1L351.9 664.5L352.8 655.9L354 692.7L355.2 699.4L356.2 690.4L357.2 740.5L358.2 737.1L359.4 741.2L360.6 774.7L361.8 785.2L362.9 833.5L364 861.4L365 878.4L366 888.8L366.9 871L367.9 862.9L368.8 868.8L369.8 844.9L370.7 826.7L371.6 805.3L372.7 816.3L373.7 816.3L374.7 845.3L375.7 790L376.7 828.9L377.8 788.8L378.9 813.9L380 813.4L381.1 854.7L382.1 807.4L383.1 798.6L384.1 786.5L385 796.7L385.9 785.9L386.8 858.5L387.6 852.4L388.6 836.3L389.5 801.3L390.5 782.9L391.5 809.6L392.5 828.5L393.5 845.3L394.5 875L395.6 873.2L396.6 882.9L397.5 875.1L398.5 851.4L399.4 798.2L400.6 814.7L401.8 840.6L402.7 803.9L403.6 767.2L404.6 751.2L405.6 727.4L406.6 699.1L407.6 690L408.7 703L409.7 720.2L410.7 727.6L411.6 761.6L412.6 759.7L413.5 802.9L414.4 788.7L415.3 734.7L416.2 706.1L417.1 675.9L417.9 684.4L418.8 677.2L419.7 729.6L420.6 741.8L421.5 732.8L422.5 778.4L423.4 770.9L424.4 797.8L425.3 788.8L426.2 784.1L427.1 769.6L427.9 765.4L428.8 727.6L429.7 721.3L430.6 736.6L431.5 708.2L432.4 704.1L433.2 702.5L434.1 681.8L435 695.3L435.9 680.6L436.8 682L437.8 654L438.7 652.4L439.7 643.4L440.7 664.5L441.8 671.2L442.6 685.7L443.5 684.1L444.4 678.8L445.3 701.8L446.2 685.2L447.1 687.1L447.9 671.6L448.8 680.6L449.7 673.2L450.6 696.6L451.5 671.6L452.4 687.6L453.4 676.7L454.4 696.6L455.4 676.2L456.4 657.1L457.4 682.1L458.4 675.3L459.4 687.6L460.3 678.6L461.2 701.4L462.1 696.1L462.9 692.4L463.8 701.6L464.7 722.5L465.6 721.3L466.5 713.5L467.4 715.8L468.2 704.5L469.1 714.7L470 718.2L470.9 723.1L471.8 721.7L472.6 725.8L473.5 746.5L474.4 737.5L475.3 751.8L476.2 747.7L477.1 760.6L477.9 764.9L478.8 769.6L479.7 758.7L480.6 751.2L481.5 757.5L482.4 783.7L483.2 779.4L484.1 774.7L485.1 765.7L486 789.8L486.9 817.4L487.9 813.5L488.8 840.6L489.7 833.4L490.6 774L491.5 753.9L492.4 762.9L493.2 766.9L494.1 748.8L495 706.9L495.9 715.9L496.8 713.6L497.8 724.9L498.7 705.3L499.6 748.2L500.6 826.5L501.5 782.9L502.4 757.8L503.2 736.8L504.1 727.6L505 718.6L505.9 750.6L506.8 750.5L507.6 788.8L508.5 774.6L509.4 793.9L510.3 726.3L511.2 727.6L512.1 753.9L512.9 769.8L513.8 726.2L514.7 774.7L515.6 760.8L516.6 743.2L517.5 727.6L518.6 718.8L519.6 733.4L520.7 710.1L521.8 713.5L522.9 749.8L524.1 774.7L525.1 784.2L526 803.9L526.9 821.8L528 783.4L529 806.3L530 744.1L530.9 750.9L531.8 741.6L532.6 783.7L533.5 774.7L534.5 783.7L535.4 764.1L536.4 753L537.3 747.9L538.2 755.9L539.1 779L540 757.8L540.9 755.2L541.8 770L542.8 807.4L543.8 813.6L544.8 841.8L545.8 818.9L546.8 828.6L547.8 789.4L548.8 753.5L549.8 790.8L550.7 795L551.6 826.3L552.6 820.5L553.5 840.6L554.4 837.2L555.3 819.7L556.2 777.6L557.1 765.3L558 756.3L558.9 787L559.9 783.2L560.8 801.4L561.8 798.2L562.7 782.1L563.6 793.5L564.6 793.8L565.5 807.2L566.5 765.3L567.4 819.1L568.2 822.1L569.1 864.1L570 866.5L570.9 845.2L571.9 862.6L572.8 834.8L573.8 842.5L574.7 810L575.6 831.2L576.5 838.1L577.4 846.4L578.2 873.5L579.1 878.9L580 845.1L580.9 840.8L581.8 814.7L582.8 840.4L583.8 818.3L584.8 868.8L585.8 829.8L586.7 765.7L587.6 722.9L588.8 808L590 880.6L590.9 877.1L591.8 829.5L592.6 842.1L593.5 835.9L594.4 847.3L595.3 866.8L596.2 888L597.1 885.3L598 873.1L598.9 878.8L599.9 891L600.8 869.2L601.8 878.2L602.6 913.1L603.5 876.1L604.4 913.1L605.3 904.1L606.2 904.1L607.1 913.1L607.9 913.1L608.8 894.7L609.7 903.3L610.6 885.9L611.5 924.2L612.4 931.2L613.2 933.7L614.1 934.6L615 911.6L615.9 920.6L616.9 903.3L618 900L619.1 912.7L620.1 904.1L621.1 884.4L622.1 890.5L623.1 901.3L624.1 880.6L625 868L625.9 889.6L626.8 867.7L627.6 857.1L628.5 857.3L629.4 882.5L630.3 877.3L631.2 873.5L632.4 878.4L633.5 892.4L634.7 800.7L635.9 727.6L636.8 719.9L637.6 719.1L638.5 724.7L639.4 699.4L640.3 699L641.2 680.2L642.1 671.6L642.9 680.6L643.8 687.6L644.7 692.8L645.6 701.4L646.5 692.4L647.4 676.3L648.2 656.5L649.1 682.8L650 661.8L650.9 657.2L651.9 643.4L652.8 670.8L653.8 668.4L654.7 652.4L655.6 652.5L656.6 655L657.5 638.6L658.5 661.4L659.4 647.6L660.3 650.8L661.2 660.5L662.1 673L662.9 687.6L663.8 661.3L664.7 687.6L665.6 689.5L666.5 654.7L667.4 673.3L668.2 645.7L669.1 669.3L670 680.6L670.9 668.1L671.8 681.9L672.6 662.2L673.5 671.2L674.4 662.2L675.3 682.7L676.2 715L677.1 708.8L678 704.9L678.9 717.8L679.9 695.1L680.8 705.7L681.8 704.1L682.7 701.3L683.6 692.8L684.6 713.1L685.5 692.8L686.5 701.8L687.5 692.8L688.5 699.6L689.6 699.5L690.6 708.8L691.8 738.6L692.9 732.4L694.1 695.2L695.3 674.7L696.5 702.1L697.6 713.5L698.8 720.3L700 741.8L700.9 771.5L701.8 760.3L702.6 774.2L703.5 779.4L704.5 745.3L705.4 774.2L706.4 744.5L707.3 760.6L708.2 738.2L709.4 781.1L710.6 807.6L711.5 806.9L712.5 806.8L713.4 785.4L714.4 756.1L715.3 760.6L716.2 758.2L717.2 753.5L718.1 727.1L719.1 750.6L720 735.9L721.2 788.1L722.4 793.5L723.3 789.9L724.2 780.3L725.2 778.3L726.1 780.9L727.1 755.9L727.9 731.2L728.8 738.7L729.7 695.6L730.6 691.2L731.8 748.5L732.9 788.8L733.9 794.3L734.8 765.7L735.8 790.8L736.7 781L737.6 774.7L738.5 741.8L739.4 754.6L740.3 745.4L741.2 748.8L742.8 818.2L743.8 794.3L744.9 805.3L745.9 788.8L746.8 779.8L747.8 793.4L748.7 779.8L749.6 792.2L750.6 798.2L751.5 816.6L752.5 808.6L753.4 789.2L754.4 790.9L755.3 807.6L756.2 820.4L757.2 811.6L758.1 852.4L759.1 846.7L760.2 809.4L761.2 788.8L762.1 786.6L762.9 787.3L763.8 775.1L764.7 784.1L765.6 785.4L766.5 775.1L767.4 816.6L768.2 861.8L769.2 838.2L770.2 817.9L771.2 776.8L772.2 752.4L773.3 746.4L774.3 793.3L775.3 821.8L776.2 833.8L777.1 824.2L777.9 876.6L778.8 867.6L779.8 836L780.7 839.9L781.6 808.7L782.6 826.5L783.5 798.2L784.5 774.1L785.5 775.7L786.5 803.6L787.5 781.8L788.5 782.9L789.6 815.5L790.6 845.3L791.5 835.1L792.5 813.3L793.4 788.8L794.4 779.8L795.3 814.9L796.2 808.9L797.2 821.8L798.2 851.7L799.2 815.4L800.2 865.7L801.2 864.1L802.1 862.9L802.9 842.8L803.8 834.5L804.7 833.5L805.6 848.3L806.6 839.8L807.5 859.4L808.5 844.5L809.4 828.4L810.4 833.3L811.3 821.8L812.4 816L813.5 763.5L814.6 772.4L815.8 797.4L816.9 821.8L818 838.4L819 866.1L820 857.1L820.9 851.1L821.8 888.8L822.6 867.6L823.5 880.6L824.4 892.4L825.3 892.3L826.2 897.2L827.1 897.1L828.1 895.4L829.1 889.1L830.1 921.4L831.1 912.4L832.1 921.4L833.1 892.5L834.1 885.3L835 887.3L835.9 891.3L836.8 878.2L837.6 904.1L838.5 865.8L839.4 869.5L840.3 857.4L841.2 821.8L842.1 802.8L842.9 776.3L843.8 758.7L844.7 760.6L845.9 743.7L847.1 746.5L847.9 742.8L848.8 717.8L849.7 679.6L850.6 687.6L851.5 665.6L852.4 685.7L853.2 681.7L854.1 673.5L855 689.6L855.9 689.6L856.8 681.7L857.6 680.6L858.7 666.2L859.7 676.7L860.7 670L861.6 661L862.6 670.8L863.5 687.6L864.4 710.6L865.3 711.4L866.2 723.4L867.1 715.9L867.9 749.4L868.8 726.9L869.7 755L870.6 751.2L871.5 760.7L872.5 773L873.4 780.1L874.4 793.5L875.3 793.5L876.2 770.4L877.1 770.4L877.9 784.4L878.8 779.4L880.5 830L881.5 827.1L882.5 801.1L883.5 798.2L884.4 791.5L885.3 769.2L886.2 798.4L887.1 778.2L887.9 796.3L888.8 823.7L889.7 804.3L890.6 821.8L891.5 810.7L892.4 804L893.2 815.1L894.1 784.1L895 808.3L895.9 820.8L896.8 803.8L897.6 845.3L898.5 824.5L899.4 808.1L900.3 821.1L901.2 817.1L902.1 835.3L902.9 827.2L903.8 816.5L904.7 835.9L905.6 861.4L906.5 826.9L907.4 861.4L908.2 852.4L909.2 876.4L910.1 867.7L911.1 889.6L912 857.6L912.9 880.6L913.8 862.9L914.7 858.1L915.6 860L916.5 845.3L917.6 818.8L918.8 798.2L920 789.9L921.2 727.6L922.1 703.5L923.1 687.8L924 673.5L924.9 664.5L925.7 693.6L926.6 692.4L927.5 720.6L928.5 711.7L929.4 739.4L930.3 734.1L931.2 746.7L932.1 802L932.9 798.2L933.8 822.4L934.7 826.1L935.6 845.5L936.5 845.3L937.6 867L938.8 873.5L939.7 887.7L940.6 864.5L941.5 902.8L942.4 901.8L943.2 898.7L944.1 891.5L945 874.7L945.9 845.3L946.8 818.7L947.8 818L948.7 798.2L949.7 789.2L950.7 847.2L951.8 838.2L952.6 803.7L953.5 824.1L954.4 787.7L955.3 787.6L956.2 789L957.2 802.1L958.1 825.4L959.1 851L960 859.4L960.9 866.5L961.8 833.4L962.6 841.1L963.5 817.1L964.4 810.8L965.3 809.7L966.2 747.5L967.1 737.1L967.9 738.1L968.8 740.3L969.7 727.8L970.6 721.8L971.5 749.5L972.4 747L973.2 769.8L974.1 793.5L975 796.4L975.9 809.2L976.8 818.2L977.6 845.3L978.6 851.4L979.5 841.3L980.5 859.4L981.4 885.5L982.4 884.1L983.2 843.5L984.1 836.1L985 830.8L985.9 821.8L986.8 792.9L987.6 782.3L988.5 816.2L989.4 774.7L990.3 797.2L991.2 802L992.1 814.9L992.9 844.1L993.9 775L994.8 736.9L995.8 711.2L996.8 702.2L997.8 746.6L998.8 751.2L999.7 736.4L1000.6 752.5L1001.5 731.5L1002.4 725.3L1003.2 725.8L1004.1 820L1005 830.3L1005.9 854.7L1006.8 862L1007.8 832.5L1008.7 825.9L1009.6 825.3L1010.6 821.8L1011.6 865.6L1012.6 832.9L1013.6 851.4L1014.6 884.1L1015.6 879.2L1016.6 836.3L1017.6 845.3L1018.8 809.8L1020 727.6L1021.6 647.6L1022.7 638.6L1023.7 673.1L1024.7 664.1L1025.6 662.8L1026.5 660.7L1027.4 655.1L1028.2 668.8L1029.1 677.8L1030 657.3L1030.9 645.7L1031.8 654.7L1032.6 671.2L1033.5 665.3L1034.4 682.2L1035.3 680.6L1036.2 665.2L1037.2 662.9L1038.1 678.4L1039.1 689.6L1040 692.4L1040.9 691.6L1041.8 679.8L1042.6 697.4L1043.5 688.8L1044.4 719.1L1045.3 712.7L1046.2 729L1047.1 722.9L1047.9 740L1048.8 727.4L1049.7 750.8L1050.6 741.8L1051.5 746.1L1052.4 742.2L1053.2 746.4L1054.1 774.7L1055 783.7L1055.9 774L1056.8 766.9L1057.6 751.2L1058.5 737.4L1059.4 723.4L1060.3 749.3L1061.2 732.4L1062.4 757.8L1063.5 786.5L1064.7 759L1065.9 751.2L1066.8 749.4L1067.8 758L1068.7 745.6L1069.6 792.9L1070.6 791.2L1071.5 809.3L1072.5 819L1073.4 806.5L1074.4 799.5L1075.3 826.5L1076.2 817.5L1077.2 826.6L1078.1 848.4L1079.1 848.4L1080 839.4L1080.9 844.5L1081.8 856.2L1082.6 866.3L1083.5 858.2L1084.4 852.9L1085.3 849.4L1086.2 842.9L1087.1 833.5L1087.9 827.1L1088.8 824.5L1089.7 833.3L1090.6 845.3L1091.6 847.6L1092.6 788.4L1093.6 790.6L1094.6 781.8L1095.6 779L1096.6 790.1L1097.6 793.5L1098.5 796.9L1099.4 827.1L1100.3 819.3L1101.2 835.9L1102.1 841L1102.9 857.6L1103.8 829.3L1104.7 857.1L1105.6 879L1106.5 882.7L1107.4 850.2L1108.2 875.9L1109.1 866.7L1110 848.7L1110.9 847L1111.8 845.3L1112.8 866.6L1113.8 836.3L1114.8 872.4L1115.8 860.9L1116.7 829.6L1117.6 798.2L1118.5 793.4L1119.4 807.2L1120.3 776.2L1121.2 779.4L1122.1 770.4L1122.9 794.8L1123.8 795.7L1124.7 798.2L1125.6 809.4L1126.6 840.6L1127.6 790.3L1128.6 777.5L1129.6 816.9L1130.6 774.7L1131.5 740.6L1132.4 776.5L1133.2 757.6L1134.1 734.7L1135.1 730.4L1136 798.8L1136.9 826.5L1138 811.4L1139 793.8L1140 751.2L1141.2 781.8L1142.1 788.6L1142.9 773.4L1143.8 738.7L1144.7 725.3L1145.6 730.2L1146.5 739.7L1147.4 760L1148.2 760.6L1149.1 764.5L1150 781.3L1150.9 844.9L1151.8 835.9L1152.9 863.9L1154.1 861.8L1155.3 870.4L1156.5 845.3L1157.4 849.5L1158.2 847.6L1159.1 862.3L1160 877.1L1160.9 856.4L1161.8 851.2L1162.6 836.3L1163.5 845.3L1164.7 837.3L1165.9 810L1167.1 796.4L1168.2 772.4L1169.4 797.7L1170.6 798.2L1171.5 796.9L1172.4 782.1L1173.2 807.2L1174.1 788.8L1175.1 796.9L1176 784.4L1176.9 768.8L1178 791.7L1179 782L1180 795.9L1180.9 803.2L1181.8 775.7L1182.6 799.4L1183.5 779.4L1184.7 822.4L1185.9 835.9L1187.1 839.6L1188.2 817.1L1189.2 809.1L1190.1 790.9L1191.1 774.7L1192.1 766.1L1193.1 761.7L1194.1 738.2L1195.1 746.3L1196.2 780L1197.2 784.1L1198.1 802.6L1199.1 776.6L1200 802.9L1200.9 755.5L1201.9 766.8L1202.8 741.8L1203.8 732.2L1204.7 733.5L1205.9 729.5L1207.1 751.2L1207.9 724.4L1208.8 719.4L1209.7 713.9L1210.6 722.9L1211.5 712.5L1212.4 695.1L1213.2 695.1L1214.1 704.1L1215 703.8L1215.9 720.2L1216.8 720.2L1217.6 711.2L1218.5 711.9L1219.4 724.1L1220.3 717.8L1221.2 725.3L1222.2 713.8L1223.3 694.1L1224.4 697.1L1225.4 687.6L1226.4 681.8L1227.3 697.8L1228.2 720.6L1229.1 722.7L1230 728.6L1230.9 748.4L1231.8 739.4L1232.9 718.4L1234.1 725.3L1235.3 730L1236.5 770L1237.4 783.5L1238.2 785.9L1239.1 791.2L1240 784.1L1240.9 787.9L1241.8 775.1L1242.6 795.9L1243.5 807.6L1244.4 798.6L1245.3 820.4L1246.2 844.9L1247.1 835.9L1248 841.7L1248.9 859.2L1249.9 868.8L1250.7 893.6L1251.6 863.3L1252.5 892.4L1253.4 888.4L1254.4 855.3L1255.3 845.3L1256.5 775.4L1257.6 727.6L1258.8 701.6L1260 687.6L1261 678.8L1262 715L1263.1 708.8L1264.7 772.4L1265.9 756L1267.1 737.1L1267.9 734.2L1268.8 753.9L1269.7 728.1L1270.6 755.9L1271.5 746.9L1272.4 790.5L1273.2 767.7L1274.1 784.1L1275 811.6L1275.9 801.3L1276.8 802.8L1277.6 847.6L1278.5 838.6L1279.4 870L1280.3 865.6L1281.2 864.1L1282.4 866.8L1283.5 890L1284.4 886.3L1285.3 856.8L1286.2 850.1L1287.1 833.5L1287.9 824.5L1288.8 824.5L1289.7 855.7L1290.6 861.8L1291.6 855.5L1292.6 814.3L1293.6 812.4L1294.7 852.6L1295.8 847.8L1296.9 859.4L1298.1 868.4L1299.3 842.9L1300.2 872.2L1301 900.4L1301.9 900.6L1302.8 882.4L1303.6 849.4L1304.5 893.7L1305.4 845.3L1306.4 877.3L1307.3 879.4L1308.2 880.6L1309.1 871.6L1310 906.1L1310.9 881.5L1311.8 904.1L1312.8 884.5L1313.8 863.2L1314.8 821.8L1316.5 727.6L1317.6 708.3L1318.8 673.5L1319.8 657.5L1320.9 678.1L1321.9 666.5L1322.8 668.6L1323.8 674L1324.7 665.3L1325.9 704.3L1327.1 704.1L1328.2 702.7L1329.4 722.9L1330.4 724.1L1331.3 719L1332.2 767.6L1333.2 762.8L1334.1 711.2L1335 710.4L1335.9 755.8L1336.8 753.6L1337.6 760.6L1338.8 771.9L1340 762.9L1341.2 795.7L1342.4 821.8L1343.3 823.4L1344.2 806.7L1345.2 805.3L1346 829.3L1346.9 822.7L1347.8 857.1L1348.7 890.9L1349.6 866L1350.6 911.2L1351.8 887.2L1352.9 880.6L1353.9 888.9L1354.8 911.3L1355.8 925.3L1356.8 896.3L1357.8 855.9L1358.8 845.3L1359.8 838.6L1360.9 815.1L1361.9 824.1L1362.8 829.8L1363.8 857.6L1364.7 877.1L1365.9 814.1L1367.1 774.7L1367.9 774.1L1368.8 741L1369.7 735.5L1370.6 713.5L1371.5 693.9L1372.4 722.2L1373.2 716.5L1374.1 702.9L1375.3 702.3L1376.5 751.2L1377.6 796.2L1378.8 798.2L1379.8 768.5L1380.7 777.1L1381.6 772.4L1382.6 819L1383.5 821.8L1384.4 856.8L1385.3 847.7L1386.2 843.2L1387.1 854.7L1388.1 850.8L1389.1 858.6L1390.1 879.4L1391.1 854.6L1392 830L1392.9 798.2L1394.1 749.1L1395.3 732.4L1396.2 767.6L1397.2 753.2L1398.1 817.1L1399.1 797.8L1400.2 757.7L1401.2 751.2L1402.4 751.2L1403.5 793.5L1404.7 783.5L1405.9 708.8L1406.8 722.1L1407.6 712.4L1408.5 704.7L1409.4 727.6L1410.3 736.6L1411.2 716.4L1412.1 697L1412.9 704.1L1413.9 658.6L1414.9 699.4L1415.9 687.6L1416.9 667.6L1418 686.7L1419 674.1L1420 704.1L1420.9 671.6L1421.9 705.5L1422.8 680.6L1423.8 708.8L1424.7 748.8L1425.9 744.1" stroke="#ffc0cb" stroke-width="3.2" fill="none" stroke-linejoin="round" stroke-linecap="round"/>
<path d="M196.6 815.2L197.6 814L198.6 813L199.6 811.8L200.6 810L201.6 806.5L202.6 800.9L203.6 794L204.6 783.4L205.6 771.1L206.6 764.1L207.6 759L208.6 755.3L209.6 753L210.6 751.3L211.6 750L212.6 749.3L213.6 749.7L214.6 751.2L215.6 753L216.6 754.8L217.6 756.7L218.6 758.8L219.6 761L220.6 763.7L221.6 766.2L222.6 767.1L223.6 764.7L224.6 760.6L225.6 757.5L226.6 755.1L227.6 753.3L228.6 753.6L229.6 756.9L230.6 761L231.6 765.1L232.6 769.7L233.6 775L234.6 782.2L235.6 789.5L236.6 795L237.6 799.5L238.6 799.7L239.6 791.6L240.6 780.6L241.6 766.9L242.6 758.4L243.6 753.4L244.6 749.7L245.6 746.9L246.6 744.3L247.6 742.5L248.6 743L249.6 748.2L250.6 758.6L251.6 778.3L252.6 801.8L253.6 815.4L254.6 823L255.6 826.9L256.6 829.3L257.6 830.9L258.6 831.6L259.6 830.3L260.6 826.8L261.6 823L262.6 817.8L263.6 814.7L264.6 817.1L265.6 821.3L266.6 824L267.6 826.1L268.6 825.7L269.6 820.3L270.6 807.9L271.6 784.7L272.6 759.4L273.6 748.9L274.6 742.8L275.6 739.4L276.6 737.1L277.6 735.4L278.6 734L279.6 732.7L280.6 731.3L281.6 730.2L282.6 729.6L283.6 730.1L284.6 732.5L285.6 735.7L286.6 740.3L287.6 746.2L288.6 752.8L289.6 760.6L290.6 769.4L291.6 778.5L292.6 788.2L293.6 798.4L294.6 808.8L295.6 819.5L296.6 830.6L297.6 841.2L298.6 851.4L299.6 860.7L300.6 866.5L301.6 870.8L302.6 872.3L303.6 871.9L304.6 870.9L305.6 869.5L306.6 866.7L307.6 862.7L308.6 858.1L309.6 853.3L310.6 847.7L311.6 841.3L312.6 834.1L313.6 826L314.6 816.7L315.6 806.2L316.6 793.2L317.6 777.7L318.6 766.9L319.6 759.4L320.6 754.7L321.6 752.1L322.6 750.1L323.6 749.3L324.6 750.1L325.6 752.3L326.6 756.6L327.6 766L328.6 777.6L329.6 792.9L330.6 808.5L331.6 821.6L332.6 832.7L333.6 838.4L334.6 840.5L335.6 831L336.6 803.6L337.6 764.5L338.6 734.1L339.6 722.9L340.6 718.2L341.6 718.6L342.6 719.5L343.6 720.9L344.6 724.2L345.6 729.4L346.6 735.4L347.6 742.8L348.6 751.7L349.6 761.1L350.6 772.6L351.6 784.2L352.6 791.1L353.6 794.7L354.6 797.4L355.6 799.8L356.6 802.5L357.6 805L358.6 807.5L359.6 809.9L360.6 812.4L361.6 814.7L362.6 816.9L363.6 819.2L364.6 821.8L365.6 825.2L366.6 830.2L367.6 836.1L368.6 841.9L369.6 847.8L370.6 853.8L371.6 859.2L372.6 864.2L373.6 869.1L374.6 874.7L375.6 879.6L376.6 882.4L377.6 884.4L378.6 885.7L379.6 886.3L380.6 886.7L381.6 887.1L382.6 887.7L383.6 888.4L384.6 888.8L385.6 888.5L386.6 887.2L387.6 885.4L388.6 882.5L389.6 878L390.6 872.9L391.6 867.8L392.6 861.9L393.6 854.2L394.6 842.6L395.6 827L396.6 804.9L397.6 780.7L398.6 765.6L399.6 768.6L400.6 778.5L401.6 791.3L402.6 797.6L403.6 797.4L404.6 794L405.6 790L406.6 785.3L407.6 779.8L408.6 772.8L409.6 765.4L410.6 760L411.6 755.7L412.6 753.1L413.6 751.4L414.6 750.2L415.6 749.1L416.6 748.1L417.6 747L418.6 746.2L419.6 746L420.6 746.3L421.6 746.8L422.6 746.9L423.6 741.9L424.6 733.2L425.6 725.8L426.6 719.6L427.6 713.9L428.6 708.9L429.6 704.1L430.6 700.1L431.6 697.1L432.6 694.6L433.6 692.7L434.6 692.4L435.6 692.5L436.6 692.7L437.6 692.8L438.6 691.9L439.6 689.9L440.6 687.6L441.6 685.4L442.6 682.8L443.6 679.9L444.6 676.5L445.6 672.1L446.6 668.3L447.6 666.8L448.6 666L449.6 666.6L450.6 668.6L451.6 671.2L452.6 675.2L453.6 680.5L454.6 687.1L455.6 696.3L456.6 706.6L457.6 718.8L458.6 731L459.6 741.7L460.6 751.6L461.6 760.2L462.6 767.6L463.6 776.8L464.6 791.4L465.6 784.5L466.6 771.7L467.6 766.8L468.6 764.2L469.6 764.3L470.6 765L471.6 766.1L472.6 767.9L473.6 771.5L474.6 777.6L475.6 790.4L476.6 799.7L477.6 807L478.6 811.1L479.6 813.6L480.6 814.7L481.6 814.2L482.6 812.9L483.6 809.6L484.6 800.9L485.6 790.1L486.6 775L487.6 761.2L488.6 752.2L489.6 744.9L490.6 738.9L491.6 733.7L492.6 729.3L493.6 726.3L494.6 724.4L495.6 722.8L496.6 721.9L497.6 721.8L498.6 722.1L499.6 722.7L500.6 723.4L501.6 725.1L502.6 727.8L503.6 730.4L504.6 733.2L505.6 735.6L506.6 736.9L507.6 737.8L508.6 738.7L509.6 739.7L510.6 740.8L511.6 742L512.6 743.3L513.6 744.7L514.6 746.3L515.6 748.2L516.6 750.7L517.6 754L518.6 757.7L519.6 761.2L520.6 764.7L521.6 768.1L522.6 771.3L523.6 774.1L524.6 776.8L525.6 779.1L526.6 780.7L527.6 782L528.6 783L529.6 783.6L530.6 782.9L531.6 779.6L532.6 776.4L533.6 773.4L534.6 771L535.6 770.8L536.6 773.2L537.6 776.9L538.6 782.6L539.6 787.1L540.6 790.4L541.6 792.3L542.6 791.7L543.6 789.8L544.6 787.6L545.6 786.1L546.6 785L547.6 784.1L548.6 783.7L549.6 783.9L550.6 784.9L551.6 786.4L552.6 788.1L553.6 790.7L554.6 794L555.6 797.4L556.6 800.3L557.6 803.4L558.6 806.1L559.6 807.9L560.6 809.3L561.6 810.5L562.6 811.1L563.6 810.9L564.6 809.6L565.6 807.5L566.6 805L567.6 800.6L568.6 794.8L569.6 788.7L570.6 782.1L571.6 778.1L572.6 775.4L573.6 773.7L574.6 774.1L575.6 776.8L576.6 780.3L577.6 785.1L578.6 789.6L579.6 792.2L580.6 794.2L581.6 795.8L582.6 797.6L583.6 799.5L584.6 801.5L585.6 803.4L586.6 805.4L587.6 807.5L588.6 809.7L589.6 811.9L590.6 814.2L591.6 816.5L592.6 818.8L593.6 820.8L594.6 822.8L595.6 824.8L596.6 827L597.6 829.4L598.6 832.3L599.6 836L600.6 840.3L601.6 844.6L602.6 848.6L603.6 852.6L604.6 856.6L605.6 860.6L606.6 864.6L607.6 868.5L608.6 872.4L609.6 876.4L610.6 880.4L611.6 884.8L612.6 889.6L613.6 894.5L614.6 898.9L615.6 902.9L616.6 906.6L617.6 909.6L618.6 912L619.6 914.3L620.6 915.7L621.6 915.8L622.6 915.2L623.6 914.2L624.6 912.7L625.6 909.7L626.6 905.1L627.6 898.8L628.6 887.7L629.6 872.5L630.6 849.5L631.6 821.7L632.6 791.2L633.6 761.1L634.6 730.3L635.6 712.1L636.6 699.4L637.6 689.6L638.6 681.7L639.6 676.3L640.6 672.1L641.6 668.8L642.6 666.5L643.6 665.2L644.6 664.2L645.6 663.4L646.6 663L647.6 663.1L648.6 663.8L649.6 664.9L650.6 666.3L651.6 668.5L652.6 672.1L653.6 676.4L654.6 680.9L655.6 686.1L656.6 691.9L657.6 698L658.6 704.7L659.6 711.9L660.6 719.6L661.6 727.9L662.6 736.5L663.6 745L664.6 753.5L665.6 759.9L666.6 765.4L667.6 768.1L668.6 761.8L669.6 750.6L670.6 740.5L671.6 731.6L672.6 727.1L673.6 723.9L674.6 721.9L675.6 720.7L676.6 719.8L677.6 719.4L678.6 721.7L679.6 726.2L680.6 731.8L681.6 739.3L682.6 746.5L683.6 753.2L684.6 760.6L685.6 770.1L686.6 780.7L687.6 794.1L688.6 799L689.6 790.4L690.6 779.4L691.6 770.6L692.6 762.7L693.6 757.3L694.6 752.8L695.6 749.6L696.6 747.9L697.6 746.7L698.6 746L699.6 746.4L700.6 747.7L701.6 749.6L702.6 751.7L703.6 754.3L704.6 757.7L705.6 761.7L706.6 766.6L707.6 773L708.6 778.8L709.6 783.6L710.6 787.9L711.6 790.9L712.6 792.4L713.6 793.4L714.6 792.8L715.6 788.1L716.6 783.8L717.6 780.8L718.6 779L719.6 779.1L720.6 779.4L721.6 779.8L722.6 779.9L723.6 779.7L724.6 779.4L725.6 779.2L726.6 779L727.6 778.9L728.6 779L729.6 779L730.6 779.1L731.6 779.2L732.6 779.4L733.6 779.5L734.6 779.7L735.6 780L736.6 780.4L737.6 781L738.6 782.1L739.6 783.5L740.6 785.2L741.6 787.6L742.6 789.8L743.6 790.7L744.6 790.6L745.6 790.3L746.6 790L747.6 790L748.6 790L749.6 790L750.6 791.5L751.6 793.8L752.6 795.6L753.6 796L754.6 796.2L755.6 796.3L756.6 796.4L757.6 796.2L758.6 796L759.6 795.9L760.6 796L761.6 796.5L762.6 797.3L763.6 798.8L764.6 801.1L765.6 803.5L766.6 805.7L767.6 808L768.6 810.3L769.6 812.8L770.6 815.4L771.6 818.2L772.6 820.9L773.6 823.5L774.6 826.2L775.6 828.6L776.6 830.1L777.6 831.1L778.6 831.7L779.6 831.8L780.6 830.5L781.6 828.2L782.6 826L783.6 823.5L784.6 820.7L785.6 817.9L786.6 815.1L787.6 812.1L788.6 809.3L789.6 807.4L790.6 805.8L791.6 804.5L792.6 804.1L793.6 804.9L794.6 806.4L795.6 808.3L796.6 811.4L797.6 814.7L798.6 816.7L799.6 818.2L800.6 819.2L801.6 819.4L802.6 818.9L803.6 818.1L804.6 817.2L805.6 815.9L806.6 814.2L807.6 812.3L808.6 810.6L809.6 808.9L810.6 807.3L811.6 806.2L812.6 805.2L813.6 804.4L814.6 804.1L815.6 807.8L816.6 814.9L817.6 820.6L818.6 826L819.6 831.3L820.6 836.7L821.6 841.9L822.6 847.2L823.6 852.7L824.6 858.5L825.6 864.5L826.6 870.7L827.6 876.9L828.6 883.5L829.6 889.6L830.6 894.6L831.6 899L832.6 902.2L833.6 903.9L834.6 905L835.6 905.2L836.6 903.3L837.6 899.7L838.6 891.6L839.6 876.5L840.6 853L841.6 813.8L842.6 765.4L843.6 732.1L844.6 709.9L845.6 693.6L846.6 682.6L847.6 674.5L848.6 669.9L849.6 666.7L850.6 664.8L851.6 664.8L852.6 665.9L853.6 668.5L854.6 674.2L855.6 679.8L856.6 685.1L857.6 690.6L858.6 695.9L859.6 700.9L860.6 705.8L861.6 710.4L862.6 714.4L863.6 717.9L864.6 721L865.6 724.3L866.6 727.9L867.6 731.6L868.6 735.6L869.6 740.3L870.6 745.7L871.6 751.9L872.6 759.2L873.6 768.2L874.6 779L875.6 794L876.6 805.8L877.6 809.3L878.6 810.1L879.6 810.2L880.6 810.3L881.6 810.7L882.6 812.3L883.6 814.6L884.6 816.8L885.6 818.8L886.6 820.9L887.6 822.9L888.6 824.8L889.6 826.9L890.6 828.6L891.6 829.4L892.6 829.8L893.6 830L894.6 829.9L895.6 828.7L896.6 826.7L897.6 824.3L898.6 820.4L899.6 814.8L900.6 807.7L901.6 800.7L902.6 799.6L903.6 800.4L904.6 804.8L905.6 809.1L906.6 813.8L907.6 818.7L908.6 823.4L909.6 828.2L910.6 832.9L911.6 837.5L912.6 841.6L913.6 845.2L914.6 848.2L915.6 851L916.6 853.8L917.6 856.9L918.6 860.1L919.6 863.3L920.6 866.7L921.6 870.4L922.6 874.6L923.6 879.6L924.6 885.1L925.6 890.8L926.6 896.3L927.6 902.1L928.6 907.5L929.6 911.9L930.6 915.9L931.6 919.5L932.6 921.6L933.6 921.6L934.6 920.6L935.6 919L936.6 916.7L937.6 912.5L938.6 906.7L939.6 899.4L940.6 888.8L941.6 874L942.6 851.6L943.6 819.9L944.6 782.3L945.6 752.2L946.6 730.2L947.6 716.7L948.6 707.4L949.6 700.7L950.6 695.2L951.6 690.8L952.6 688.7L953.6 688L954.6 687.6L955.6 690.2L956.6 695.4L957.6 703L958.6 713.3L959.6 725.2L960.6 740.3L961.6 761.4L962.6 792.3L963.6 814.3L964.6 831.7L965.6 846.9L966.6 859.6L967.6 868.3L968.6 875.1L969.6 879.8L970.6 882.1L971.6 883.8L972.6 884.7L973.6 884.7L974.6 884.2L975.6 883.4L976.6 881.8L977.6 877.8L978.6 872.6L979.6 867.3L980.6 861.7L981.6 855.4L982.6 848.2L983.6 839.8L984.6 830.2L985.6 819.9L986.6 808L987.6 795.6L988.6 782.8L989.6 773.8L990.6 770.5L991.6 773.4L992.6 780.1L993.6 793.4L994.6 800.4L995.6 803.8L996.6 806.3L997.6 808.6L998.6 811L999.6 812.6L1000.6 812L1001.6 807.6L1002.6 801.2L1003.6 789L1004.6 775.9L1005.6 766.4L1006.6 758.5L1007.6 753.5L1008.6 749.4L1009.6 747.1L1010.6 747.3L1011.6 748.8L1012.6 750.8L1013.6 754.3L1014.6 758.2L1015.6 761.5L1016.6 765.6L1017.6 776L1018.6 794.8L1019.6 808.9L1020.6 812.1L1021.6 799.1L1022.6 779.7L1023.6 759.7L1024.6 746.3L1025.6 735.1L1026.6 725.4L1027.6 716.1L1028.6 708.2L1029.6 703.6L1030.6 700.8L1031.6 698.9L1032.6 698.2L1033.6 698.4L1034.6 698.6L1035.6 699.2L1036.6 701.1L1037.6 703.9L1038.6 708.4L1039.6 714L1040.6 718.1L1041.6 721.4L1042.6 724.3L1043.6 726.6L1044.6 728.5L1045.6 730.1L1046.6 731.2L1047.6 731.8L1048.6 732.2L1049.6 732.3L1050.6 731.8L1051.6 730.7L1052.6 729.3L1053.6 727.8L1054.6 725.8L1055.6 723.3L1056.6 720.2L1057.6 714.9L1058.6 708.1L1059.6 701.6L1060.6 696.6L1061.6 692.1L1062.6 688.7L1063.6 686.8L1064.6 685.4L1065.6 684.6L1066.6 685.1L1067.6 687.1L1068.6 690.1L1069.6 695.6L1070.6 701.8L1071.6 707.1L1072.6 712.3L1073.6 717.7L1074.6 723.3L1075.6 729.6L1076.6 735.9L1077.6 741.5L1078.6 745.5L1079.6 749.1L1080.6 754.3L1081.6 764.4L1082.6 778.3L1083.6 797.7L1084.6 815.9L1085.6 831.7L1086.6 845.3L1087.6 857L1088.6 866.5L1089.6 872.6L1090.6 877.5L1091.6 880.1L1092.6 879.6L1093.6 877.9L1094.6 875.9L1095.6 873.5L1096.6 870.5L1097.6 866.7L1098.6 861.6L1099.6 855.1L1100.6 848.2L1101.6 840.8L1102.6 834.6L1103.6 829.2L1104.6 825.5L1105.6 824L1106.6 823.1L1107.6 823.6L1108.6 827.4L1109.6 832L1110.6 838.9L1111.6 844L1112.6 843.1L1113.6 840.1L1114.6 836.2L1115.6 830.5L1116.6 826.1L1117.6 823.7L1118.6 821.9L1119.6 820.5L1120.6 819.7L1121.6 819L1122.6 817.8L1123.6 814.1L1124.6 812.9L1125.6 814L1126.6 814.7L1127.6 791.1L1128.6 768.4L1129.6 747.5L1130.6 726L1131.6 706.9L1132.6 692.5L1133.6 680.8L1134.6 671.9L1135.6 664.4L1136.6 660.3L1137.6 658.5L1138.6 657.3L1139.6 657.1L1140.6 657.7L1141.6 658.9L1142.6 662.2L1143.6 666.8L1144.6 672.9L1145.6 680.6L1146.6 689.2L1147.6 698.7L1148.6 706.6L1149.6 712.9L1150.6 718.6L1151.6 724.2L1152.6 730.4L1153.6 736.8L1154.6 742.8L1155.6 747.9L1156.6 752.4L1157.6 756.4L1158.6 759.9L1159.6 762.8L1160.6 765.3L1161.6 767.2L1162.6 768.4L1163.6 770.1L1164.6 773.4L1165.6 778L1166.6 783.3L1167.6 789.7L1168.6 795.4L1169.6 800.5L1170.6 805.3L1171.6 810L1172.6 814.6L1173.6 819.2L1174.6 824.1L1175.6 829.2L1176.6 834.4L1177.6 839.2L1178.6 843.5L1179.6 847.5L1180.6 850.4L1181.6 852.7L1182.6 854.8L1183.6 857.2L1184.6 860.2L1185.6 863.6L1186.6 867.1L1187.6 870.8L1188.6 874.8L1189.6 878.9L1190.6 882.9L1191.6 887L1192.6 891.1L1193.6 895.1L1194.6 898.9L1195.6 902.8L1196.6 906.3L1197.6 908.4L1198.6 910L1199.6 910.7L1200.6 909.5L1201.6 906.7L1202.6 903.3L1203.6 898.2L1204.6 891L1205.6 880.4L1206.6 864.1L1207.6 836.7L1208.6 792.2L1209.6 748.6L1210.6 722L1211.6 706.1L1212.6 696.5L1213.6 689.8L1214.6 686.2L1215.6 683.8L1216.6 682.9L1217.6 683.4L1218.6 684.4L1219.6 685.7L1220.6 687.9L1221.6 690.8L1222.6 694.4L1223.6 699.2L1224.6 705.4L1225.6 712.5L1226.6 721L1227.6 732.3L1228.6 750.5L1229.6 774.1L1230.6 799.2L1231.6 820.8L1232.6 839.3L1233.6 856.5L1234.6 871.3L1235.6 879.5L1236.6 883L1237.6 883.3L1238.6 883.4L1239.6 882.8L1240.6 880.6L1241.6 877.1L1242.6 869.6L1243.6 854.7L1244.6 841L1245.6 829.1L1246.6 817.1L1247.6 804.3L1248.6 791.1L1249.6 776.6L1250.6 766.4L1251.6 763L1252.6 766.9L1253.6 778.8L1254.6 798.2L1255.6 807L1256.6 813L1257.6 817.4L1258.6 821L1259.6 824.7L1260.6 829.4L1261.6 834.9L1262.6 840.5L1263.6 845.6L1264.6 850L1265.6 854.1L1266.6 857.8L1267.6 861.2L1268.6 864.8L1269.6 867.2L1270.6 867.5L1271.6 866.1L1272.6 863.7L1273.6 856.2L1274.6 843.8L1275.6 827.4L1276.6 805.5L1277.6 780.3L1278.6 759L1279.6 745.1L1280.6 738.6L1281.6 734.6L1282.6 733.6L1283.6 735.3L1284.6 737.9L1285.6 740.7L1286.6 744.4L1287.6 749.1L1288.6 756.5L1289.6 767.8L1290.6 787.4L1291.6 801.2L1292.6 794.2L1293.6 772.4L1294.6 755.9L1295.6 749.1L1296.6 743.9L1297.6 737.6L1298.6 731.4L1299.6 725.3L1300.6 719.6L1301.6 713.9L1302.6 708.6L1303.6 703.9L1304.6 699.5L1305.6 695.6L1306.6 692.3L1307.6 690L1308.6 687.9L1309.6 686.4L1310.6 685.8L1311.6 686.1L1312.6 686.9L1313.6 688.1L1314.6 689.7L1315.6 692.7L1316.6 696.8L1317.6 701.4L1318.6 707.5L1319.6 714.9L1320.6 723.9L1321.6 735.5L1322.6 746.8L1323.6 758.7L1324.6 763.6L1325.6 764.7L1326.6 765.6L1327.6 769.4L1328.6 780.4L1329.6 790.1L1330.6 796.4L1331.6 801.8L1332.6 807.6L1333.6 814.8L1334.6 823.1L1335.6 832.1L1336.6 841.5L1337.6 851.9L1338.6 861.9L1339.6 871.1L1340.6 879.7L1341.6 887.3L1342.6 893.9L1343.6 899.5L1344.6 902.5L1345.6 904.5L1346.6 905.7L1347.6 905.9L1348.6 905.1L1349.6 903.6L1350.6 901.8L1351.6 899.4L1352.6 896.1L1353.6 892.2L1354.6 888L1355.6 883L1356.6 877.3L1357.6 870.7L1358.6 862.9L1359.6 854L1360.6 843.9L1361.6 832.3L1362.6 818.1L1363.6 799.2L1364.6 779.6L1365.6 760.4L1366.6 746.6L1367.6 738L1368.6 734.1L1369.6 732.9L1370.6 736L1371.6 741.1L1372.6 749L1373.6 759.9L1374.6 776.3L1375.6 794.4L1376.6 809.1L1377.6 821.2L1378.6 830.2L1379.6 837.3L1380.6 842L1381.6 846L1382.6 848.5L1383.6 848.7L1384.6 847.6L1385.6 845.9L1386.6 843.2L1387.6 838.2L1388.6 831.9L1389.6 824.7L1390.6 815.2L1391.6 802.6L1392.6 785.2L1393.6 768.8L1394.6 753.7L1395.6 744.3L1396.6 737.3L1397.6 733.3L1398.6 730.6L1399.6 729.5L1400.6 731.2L1401.6 734.8L1402.6 739.2L1403.6 745.7L1404.6 754.8L1405.6 769.2L1406.6 796.1L1407.6 821.3L1408.6 834.1L1409.6 837.7L1410.6 837.7L1411.6 834.2L1412.6 829.4L1413.6 822.8L1414.6 812.4L1415.6 786.4L1416.6 759.8L1417.6 738L1418.6 724.5L1419.6 716.3L1420.6 711L1421.6 707.8L1422.6 706L1423.6 705.3L1424.6 706.3L1425.6 707.9L1425.9 708.4" stroke="#f00808" stroke-width="3.5" fill="none" stroke-linejoin="round" stroke-linecap="round"/>
<path d="M197.1 1151.5L198.2 1172.4L199.4 1173.8L200.6 1166.3L201.8 1157.4L202.9 1151.3L204.1 1192.6L205.3 1202.2L206.5 1173.8L207.6 1203.6L208.8 1220.9L210 1209.5L211.2 1183.2L212.4 1209.4L213.5 1227.9L214.7 1298.5L215.9 1302.1L216.8 1296.8L217.6 1278.3L218.5 1221.4L219.4 1202.1L220.6 1245.8L221.8 1307.9L222.9 1232.6L224.1 1199.7L225.3 1258.4L226.5 1326.8L227.6 1316.8L228.8 1384.4L229.8 1378.2L230.9 1305.4L231.9 1260.9L233 1260.8L234.1 1270.9L235.2 1253.8L236.2 1293.8L237.2 1354.4L238.2 1396.2L239.4 1346.7L240.6 1263.2L241.5 1255.9L242.4 1351.8L243.2 1343.5L244.1 1365.6L245.3 1315.6L246.5 1238.5L247.4 1238.9L248.2 1269.8L249.1 1336.8L250 1326.8L251 1321.3L252 1329.4L253.1 1343.2L254.1 1329.2L255.1 1324.9L256.1 1234.4L257.1 1244.4L258.2 1334.1L259.4 1359.7L260.6 1288.2L261.8 1204.4L262.6 1261.7L263.5 1258.3L264.4 1324.4L265.3 1355L266.2 1365L267.1 1327.5L267.9 1303.2L268.8 1303.2L269.7 1301.4L270.6 1306.5L271.5 1341.5L272.4 1331.5L273.3 1311L274.2 1271.1L275.2 1256.2L276.2 1257L277.2 1200.3L278.2 1206.8L279.4 1205.9L280.6 1265.6L281.8 1275.6L282.9 1251.5L284.1 1264.2L285.3 1303.2L286.3 1298.9L287.3 1222.6L288.4 1184.4L289.5 1227.7L290.7 1279.7L291.9 1327.3L293.1 1351.5L294.2 1274.2L295.4 1232.6L296.6 1192.7L297.8 1187.9L298.9 1248.6L300.1 1317.4L301.1 1285.9L302 1286.1L302.9 1246.8L303.8 1303.1L304.7 1250.2L305.6 1270.8L306.5 1303.2L307.4 1301.1L308.2 1277L309.1 1271.2L310 1227.9L310.9 1207.7L311.9 1231.8L312.8 1213.8L314 1267.2L315.2 1322.1L316.2 1253.9L317.2 1264.7L318.2 1220.9L319.1 1180.3L320 1212.5L320.8 1190.3L321.8 1203L322.7 1230.4L323.6 1256.2L324.6 1266.2L325.5 1262.7L326.5 1216.2L327.4 1254.8L328.4 1283.2L329.3 1303.2L330.3 1314.6L331.3 1385.3L332.4 1385.6L333.4 1354.7L334.4 1278.1L335.4 1251.5L336.5 1227.4L337.6 1242.5L338.7 1237.4L339.7 1266.1L340.7 1320.7L341.8 1333.8L342.8 1294.2L343.8 1279.2L344.8 1279.7L345.8 1317L346.7 1337.7L347.6 1363.2L348.8 1330.5L350 1256.2L350.9 1262.2L351.9 1200.4L352.8 1200.9L353.8 1190.9L354.9 1211.2L355.9 1213.8L356.9 1236.2L357.9 1294.8L358.9 1326.8L360.1 1316.8L361.3 1347.9L362.4 1318.7L363.5 1295.5L364.6 1265.6L365.6 1274.4L366.6 1317.9L367.6 1326.8L368.8 1275.4L370 1218.5L371.2 1407.9L372.1 1368.4L372.9 1346.3L373.8 1301.2L374.7 1227.9L375.6 1253.2L376.5 1244.1L377.4 1242.9L378.2 1243.2L379.4 1315.9L380.6 1363.2L381.5 1351.4L382.4 1309.8L383.2 1314.8L384.1 1286.8L385 1320.4L385.9 1305.6L386.8 1304.4L387.6 1340.9L388.5 1368.2L389.4 1354.1L390.3 1352.7L391.2 1398.5L392.4 1348.5L393.5 1307.9L394.7 1310L395.9 1373.8L396.9 1386.9L397.9 1374.3L398.9 1390.3L399.9 1355.6L400.8 1341.5L401.8 1279.7L402.9 1207.9L404 1288.1L405 1317.8L406 1375L407.1 1365L408.2 1369.2L409.3 1380.9L410.3 1370.9L411.3 1393.2L412.4 1383.2L413.4 1392.8L414.4 1350L415.4 1310.3L416.4 1320.3L417.3 1320.3L418.2 1307.9L419.2 1345L420.1 1344.5L421.1 1373.8L422.2 1417.1L423.4 1420.9L424.4 1421.3L425.3 1433.8L426.2 1393.5L427.2 1403.2L428.1 1385.6L429.1 1390.9L430 1326.8L431.2 1288L432.4 1256.2L433.3 1206.2L434.2 1256.5L435.2 1216.2L436.4 1216L437.5 1204.4L438.9 1185.6L440.1 1207.3L441.3 1204.4L442.2 1207.5L443.2 1240.4L444.1 1242.1L445.3 1252.1L446.5 1230.3L447.6 1207.6L448.8 1211.5L449.8 1251.5L450.7 1260.9L451.6 1278.4L452.6 1261.8L453.5 1289.1L454.4 1303L455.3 1321.1L456.2 1299.9L457.1 1326.8L458.1 1361.7L459.1 1322.4L460.1 1355L461.1 1383.8L462 1381.4L462.9 1373.8L464.1 1402.9L465.3 1419.7L466.2 1374.9L467.2 1346.3L468.1 1333.8L469.3 1329.4L470.5 1418.5L471.6 1431.5L472.8 1444.4L473.8 1434.4L474.9 1441.2L475.9 1420.9L476.9 1451.6L477.9 1442.2L478.9 1445.6L479.9 1429.2L480.8 1447.7L481.8 1416.2L482.9 1415.4L484.1 1413.8L485.1 1419.3L486 1403.8L486.9 1430.3L488 1460.8L489 1431.4L490 1452.6L490.9 1462.6L491.8 1441.5L492.6 1442L493.5 1451.5L494.7 1444.5L495.9 1432.6L497.1 1377.1L498.2 1350.3L499.4 1272.7L500.6 1256.2L501.5 1211.8L502.4 1198L503.2 1189.9L504.1 1173.8L505 1183.8L505.9 1180.4L506.8 1168.9L507.6 1157.4L508.8 1181.5L510 1171.5L510.9 1161.5L511.9 1176.2L512.8 1197.4L513.8 1174.4L514.9 1152.4L515.9 1162.1L517.1 1190.5L518.2 1197.4L519.1 1170.4L520 1147.2L520.9 1175.9L521.8 1142.8L522.9 1145L524.1 1173.8L525 1170L525.9 1163.8L526.8 1187.4L527.6 1177.4L528.8 1242.4L530 1304.4L531.2 1314.4L532.4 1279.7L533.4 1359.3L534.4 1358.8L535.4 1376.2L536.4 1357.3L537.3 1336.5L538.2 1340.9L539.4 1383.8L540.6 1373.8L541.5 1368.1L542.5 1383.8L543.4 1367.9L544.6 1400.1L545.8 1420.9L546.8 1377.9L547.8 1402.6L548.8 1387.9L550 1417.8L551.2 1439.7L552.2 1432.4L553.2 1413.1L554.2 1403.2L555.2 1421.8L556.1 1408.2L557.1 1442.1L558 1444.5L558.9 1409.8L559.9 1409.1L560.9 1424.9L561.9 1454.4L562.9 1444.4L564 1444.9L565 1420.3L566 1430.3L567.1 1430.9L568.2 1396.8L569.3 1406.8L570.2 1423L571.2 1461.3L572.1 1421.1L573.1 1455L574 1443.4L574.9 1419L575.9 1427.9L576.8 1438.6L577.6 1448.5L578.5 1451.7L579.4 1453.8L580.6 1436.8L581.8 1430.3L582.8 1420.3L583.8 1427.5L584.8 1453.8L586 1416.9L587.2 1397.4L588.8 1169.1L589.8 1179.1L590.8 1148.5L591.8 1179.1L592.8 1158.5L593.8 1159.2L594.9 1155.7L595.9 1206.8L597.1 1256.8L598.2 1246.8L599.4 1291.1L600.6 1319.7L601.8 1252.7L602.9 1224.4L604.1 1258.2L605.3 1279.7L606.5 1318.3L607.6 1330.3L608.8 1251.7L610 1232.6L611 1240.7L612 1176L613.1 1173.8L614.2 1176.4L615.4 1143.2L616.6 1153.1L617.8 1185.6L618.7 1175.6L619.6 1187.6L620.6 1206.8L621.5 1191.1L622.4 1199.3L623.2 1175.6L624.1 1185.6L625.3 1188.4L626.5 1232.6L627.6 1227.4L628.8 1207.9L629.7 1214.8L630.6 1226.2L631.5 1261L632.4 1265.6L633.3 1255.6L634.2 1315.6L635.2 1305.6L636.2 1269.2L637.2 1271.5L638.2 1242.1L639.3 1275.9L640.3 1337.1L641.3 1352.6L642.2 1301.4L643.2 1251.9L644.1 1225.6L645.3 1266.5L646.5 1296.2L647.4 1293.5L648.2 1261.7L649.1 1292L650 1232.6L651.2 1216.5L652.4 1167.9L653.2 1220.5L654.1 1241.7L655 1259.7L655.9 1260.9L656.8 1241.5L657.6 1263.7L658.5 1205.9L659.4 1197.4L660.3 1193L661.2 1207.4L662.1 1194.5L662.9 1166.8L663.9 1174.3L664.8 1220.4L665.8 1256.2L666.7 1223.1L667.6 1251.3L668.6 1204.9L669.5 1197.4L670.5 1217.8L671.4 1222.6L672.4 1256.2L673.3 1201.2L674.2 1166.8L675.2 1221.2L676.1 1226L677.1 1286.8L677.9 1258.6L678.8 1217.3L679.7 1190.3L680.6 1167.9L681.8 1187.9L682.9 1260.9L684 1320.4L685 1297.2L686 1365.6L686.9 1283.3L687.9 1243.4L688.8 1195L689.7 1196.7L690.6 1195L691.8 1235.9L692.9 1307.9L694 1246.7L695 1243.2L696 1225.6L696.9 1230L697.9 1261.8L698.8 1300.9L699.8 1310.9L700.7 1257.9L701.6 1267.9L702.6 1282.2L703.5 1305.2L704.5 1303.5L705.4 1326.8L706.4 1309.9L707.3 1330.2L708.2 1298.5L709.4 1328.3L710.6 1366.8L711.5 1356.8L712.5 1365.5L713.4 1384.2L714.4 1371.9L715.3 1383.2L716.2 1383.5L717.1 1411.6L717.9 1409.9L718.8 1432.6L719.8 1420L720.9 1415.5L721.9 1386.8L723 1387.4L724.1 1381.5L725.2 1427.9L726.2 1460.3L727.2 1450.9L728.2 1450.3L729.4 1408.8L730.6 1399.7L731.6 1387.4L732.6 1398.1L733.6 1397.4L734.6 1417.2L735.5 1438.7L736.5 1444.4L737.4 1454.2L738.2 1439.8L739.1 1442.9L740 1453.8L741.2 1413.2L742.4 1423.2L743.4 1414.8L744.4 1427.3L745.4 1444.4L746.4 1454.4L747.3 1399.1L748.2 1409.1L749.4 1418.2L750.6 1350.3L751.5 1321.7L752.5 1256.2L754.1 1192.6L755.1 1182.6L756.2 1182.6L757.2 1192.6L758.1 1212L759.1 1230.4L760 1237.4L760.9 1274.6L761.8 1246.7L762.6 1298L763.5 1327.9L764.5 1309.6L765.6 1289.2L766.6 1242.1L767.8 1245.4L768.9 1230.3L769.9 1213.5L770.8 1206.7L771.8 1185.6L772.7 1168.4L773.6 1195.6L774.6 1166.8L775.6 1195.6L776.6 1195.3L777.6 1197.4L778.7 1200.8L779.7 1226.9L780.7 1243.2L781.6 1230.1L782.6 1203.4L783.5 1180.9L784.5 1190.9L785.4 1138.5L786.4 1167.4L787.3 1167.4L788.2 1157.4L789.4 1125L790.6 1132.6L791.8 1155.8L792.9 1150.3L794.1 1151.6L795.3 1173.8L796.5 1177.5L797.6 1180.9L798.6 1264.8L799.5 1232.3L800.5 1311.5L801.4 1228.7L802.4 1202.1L803.5 1221.9L804.7 1267.9L805.9 1313.3L807.1 1326.8L808 1302.8L808.9 1269.7L809.9 1279.7L810.9 1308L811.9 1334L812.9 1340.9L814.1 1382.9L815.3 1373.8L816.2 1387.8L817.2 1419.1L818.1 1409.1L819.1 1367.7L820 1350.3L821.2 1321.5L822.4 1256.2L824 1185.6L824.9 1186.1L825.9 1137.4L826.8 1155.9L827.8 1185.6L828.9 1213.3L830.1 1256.2L831.1 1312L832 1302.3L832.9 1347.9L834.1 1302.5L835.3 1293.8L836.2 1269L837.2 1254L838.1 1216.2L839.1 1226.2L840.2 1201.8L841.2 1209.1L842.4 1272.4L843.5 1313.8L844.7 1230.7L845.9 1183.2L846.8 1162.6L847.8 1172.6L848.7 1207.4L849.6 1174.2L850.6 1197.4L852.2 1313.8L853.4 1234L854.6 1216.2L855.6 1223.7L856.6 1206.2L857.6 1218.5L858.8 1252.4L860 1256.2L861.2 1246.2L862.4 1307.9L863.5 1308.4L864.7 1355L866.4 1384.4L867.4 1391.4L868.4 1361.2L869.4 1340.9L870.6 1357.5L871.8 1411.5L872.9 1421.5L874.1 1385.6L875.3 1424.2L876.5 1419.7L877.5 1400.6L878.5 1419L879.5 1383.2L880.5 1407.1L881.4 1379.4L882.4 1416.2L883.3 1408.6L884.2 1436.4L885.2 1440.9L886.4 1373.6L887.5 1350.3L888.5 1250.7L889.4 1216.2L890.4 1188.1L891.3 1180.9L892.5 1178.4L893.6 1146.8L894.8 1162.8L896 1173.8L897.2 1143.8L898.4 1153.8L899.5 1143.8L900.7 1225.6L901.9 1230.2L903.1 1204.4L904.2 1182.3L905.4 1171.5L906.4 1215.6L907.3 1225.1L908.2 1256.2L909.4 1233.2L910.6 1232.6L911.8 1207.3L912.9 1175L913.9 1194L914.8 1232.8L915.8 1279.7L916.9 1283.3L918.1 1326.8L919.3 1316.8L920.5 1356.2L921.5 1350.2L922.5 1324.7L923.5 1277.4L924.5 1290.8L925.4 1320.4L926.4 1356.2L927.2 1366.2L928.1 1296.8L928.9 1251.5L929.9 1261.6L930.8 1264.3L931.8 1310.3L932.7 1319.9L933.6 1286.6L934.6 1236.2L935.6 1226.2L936.6 1262.8L937.6 1256.2L938.7 1260.1L939.7 1297.3L940.7 1329.1L941.8 1339.1L942.9 1302.3L944 1298.5L945 1318.3L946 1337.4L947.1 1403.2L948.1 1404.6L949.1 1378.6L950.1 1373.8L951.1 1367.3L952 1442.6L952.9 1432.6L953.8 1423.1L954.7 1431.9L955.6 1456.8L956.5 1455L957.5 1439.2L958.5 1436.8L959.5 1427.9L960.5 1426.5L961.4 1398.8L962.4 1400.9L963.2 1377.9L964.1 1387.2L965 1410.9L965.9 1387.9L966.9 1395.9L967.9 1423.8L968.9 1413.8L970 1381.7L971.1 1327.6L972.2 1313.8L973.3 1352.4L974.3 1378.4L975.3 1417.4L976.3 1415.4L977.3 1430L978.4 1443.2L979.5 1442.9L980.5 1422L981.6 1385.6L982.7 1384.8L983.7 1374.8L984.7 1363.2L985.7 1379.7L986.7 1383.8L987.8 1373.8L988.7 1370.8L989.6 1337.4L990.6 1340.9L991.5 1373.4L992.4 1380.5L993.2 1382.6L994.1 1372.6L995.3 1253.6L996.5 1256.2L997.6 1222.9L998.8 1166.8L999.8 1164.9L1000.9 1140.3L1001.9 1150.3L1003.1 1202.3L1004.2 1204.4L1005.4 1142.6L1006.6 1152.6L1007.5 1155.7L1008.5 1183L1009.4 1192.6L1010.4 1219.1L1011.3 1198.1L1012.2 1209.1L1013.3 1205.3L1014.3 1199.1L1015.3 1237.4L1016.3 1240L1017.3 1265.4L1018.4 1260.9L1019.3 1209.8L1020.2 1247L1021.2 1192.6L1022.1 1175.6L1023.1 1176L1024 1185.6L1025 1187.3L1026 1208.7L1027.1 1218.5L1028.1 1202.9L1029.1 1196.5L1030.1 1151.5L1031.1 1158L1032 1157.5L1032.9 1209.1L1033.9 1169.8L1034.8 1172.1L1035.8 1164.4L1036.8 1164.6L1037.8 1194.9L1038.8 1220.9L1040 1262.5L1041.2 1312.6L1042.4 1269.9L1043.5 1227.9L1044.7 1225.1L1045.9 1185.6L1046.9 1258.4L1047.9 1286.7L1048.9 1379.7L1049.9 1354L1050.8 1347.9L1051.8 1350.3L1052.6 1357.9L1053.5 1404.9L1054.4 1426.5L1055.3 1427.9L1056.3 1412.6L1057.3 1416.5L1058.4 1364.4L1059.5 1340.3L1060.5 1355.1L1061.6 1350.3L1062.7 1346.3L1063.7 1294.9L1064.7 1267.9L1065.7 1236.5L1066.7 1215.4L1067.8 1213.8L1068.7 1223.8L1069.6 1223.8L1070.6 1223.8L1071.5 1223.8L1072.5 1198.5L1074.1 1336.2L1075.3 1279.9L1076.5 1213.8L1077.5 1241.7L1078.5 1271.5L1079.5 1326.8L1080.6 1339.1L1081.7 1402.6L1082.8 1392.6L1083.8 1346.2L1084.9 1293L1085.9 1263.2L1087.1 1283.1L1088.2 1310.3L1089.4 1281.9L1090.6 1237.4L1091.8 1376.2L1092.7 1329.5L1093.6 1296.7L1094.6 1279.7L1095.6 1254.7L1096.6 1283.8L1097.6 1243.2L1099.3 1345.6L1100.3 1346.9L1101.3 1359.8L1102.4 1350.3L1104 1451.5L1105 1443L1106 1380.3L1107.1 1390.3L1108.1 1401.7L1109.1 1380.3L1110.1 1397.4L1111.1 1404.1L1112 1388.1L1112.9 1442.1L1113.8 1452.1L1114.7 1436.7L1115.6 1413.2L1116.5 1423.2L1117.4 1454.3L1118.4 1416.6L1119.3 1460.3L1120.2 1442.6L1121.2 1450.3L1122.2 1460.3L1123.2 1385.7L1124.2 1390.3L1125.2 1395.4L1126.1 1363.8L1127.1 1373.8L1128 1363.8L1128.9 1392.5L1129.9 1420.9L1130.9 1387.3L1131.9 1340.5L1132.9 1336.2L1134.6 1273.8L1135.6 1308.7L1136.6 1358.6L1137.6 1350.3L1138.8 1411.5L1140 1439.7L1140.7 1409.1L1141.9 1352.1L1143.1 1326.8L1144.2 1333.6L1145.4 1256.2L1147.1 1209.1L1148.7 1200.9L1149.6 1190.9L1150.6 1232.6L1151.8 1293.9L1152.9 1284.4L1154.1 1302.1L1155.3 1326.8L1156.5 1336.5L1157.6 1385.6L1158.8 1401.3L1160 1417.4L1161.2 1395.1L1162.4 1373.8L1163.5 1361.3L1164.7 1303.2L1165.9 1288.4L1167.1 1246.8L1168 1220.7L1168.9 1209.1L1170.1 1262.4L1171.3 1277.4L1172.2 1254.6L1173.2 1222.7L1174.1 1227.9L1175.3 1220.5L1176.5 1263.2L1177.4 1216L1178.4 1216.3L1179.3 1185.6L1180.3 1166.9L1181.3 1180L1182.4 1153.8L1183.4 1143.8L1184.4 1168.4L1185.4 1173.8L1186.6 1234.5L1187.8 1278.5L1188.9 1229.2L1190.1 1173.8L1191.1 1184.3L1192 1163.8L1192.9 1180.9L1193.9 1178L1194.8 1215.1L1195.8 1256.2L1196.8 1255.6L1197.8 1266.2L1198.8 1250.3L1200 1347.4L1201.2 1350.3L1202.8 1385.6L1203.8 1363.2L1204.9 1364.9L1205.9 1360.9L1206.9 1394.6L1207.9 1382L1208.9 1409.1L1209.9 1419.1L1210.8 1399L1211.8 1397.4L1212.7 1410.4L1213.6 1436.9L1214.6 1437.4L1215.6 1447.4L1216.6 1412.9L1217.6 1395L1218.5 1395.7L1219.4 1455.3L1220.3 1453.7L1221.2 1458.5L1222.1 1436.2L1222.9 1427.4L1223.8 1440.5L1224.7 1437.4L1225.7 1431L1226.7 1433.5L1227.8 1453.8L1228.7 1454.3L1229.6 1459.9L1230.6 1439.7L1231.5 1423.2L1232.5 1350.3L1234.1 1232.6L1235.3 1192.8L1236.5 1145.6L1237.5 1135.6L1238.5 1140.9L1239.5 1178.5L1240.5 1145L1241.4 1174.9L1242.4 1155L1243.4 1128.5L1244.5 1132.6L1245.5 1128.5L1246.6 1138.5L1247.5 1142.6L1248.5 1154.3L1249.4 1178.5L1250.3 1164.7L1251.2 1188.5L1252.1 1178.1L1252.9 1155L1253.8 1148.3L1254.7 1145L1255.6 1171.2L1256.5 1162.1L1257.4 1168.5L1258.2 1185.4L1259.1 1177.4L1260 1213.8L1261 1208L1262 1192L1263.1 1171.5L1264.2 1196L1265.4 1195L1266.4 1207.3L1267.3 1219.2L1268.2 1225.6L1269.2 1180L1270.1 1201.6L1271.1 1156.2L1272 1212.4L1272.9 1255L1273.9 1265L1274.8 1215.3L1275.8 1204.4L1276.9 1180.7L1278.1 1171.5L1279.1 1199.6L1280.2 1174.3L1281.2 1190.3L1282.1 1213.4L1282.9 1212.6L1283.8 1223.7L1284.7 1239.7L1285.6 1187.4L1286.6 1219.1L1287.5 1197.4L1288.5 1208.7L1289.6 1188.5L1290.6 1227.9L1291.6 1267.1L1292.6 1217.9L1293.6 1272.6L1294.8 1251.2L1296 1242.1L1296.9 1289.7L1297.9 1285.5L1298.8 1279.7L1299.8 1254.3L1300.7 1274L1301.6 1246.8L1302.7 1256.8L1303.7 1227.4L1304.7 1237.4L1305.9 1275.2L1307.1 1310.3L1308.1 1320.6L1309.1 1348.5L1310.1 1338.5L1311.1 1301.6L1312 1234.6L1312.9 1223.2L1314.1 1265.7L1315.3 1326.8L1316.2 1336.8L1317.2 1298.8L1318.1 1286.8L1319.1 1360.8L1320.2 1374.6L1321.2 1390.3L1322.4 1396.2L1323.5 1433.8L1324.7 1253.8L1325.6 1330.1L1326.6 1381.3L1327.5 1437.4L1328.5 1439.7L1329.6 1423.7L1330.6 1409.1L1331.6 1402.8L1332.6 1448.5L1333.6 1438.5L1334.6 1411.2L1335.5 1373.8L1336.5 1350.3L1337.4 1362.9L1338.2 1366.5L1339.1 1388.4L1340 1402.1L1341.2 1340.9L1342.4 1372.2L1343.5 1409.1L1344.7 1333.7L1345.9 1315L1346.8 1362.6L1347.8 1344.8L1348.7 1352.6L1349.9 1285.6L1351.1 1227.9L1352.2 1220L1353.4 1279.7L1354.6 1273.1L1355.8 1209.1L1356.9 1195.4L1358.1 1162.1L1359.1 1188.2L1360.2 1173.4L1361.2 1180.9L1362.1 1187.3L1362.9 1149.4L1363.8 1150.7L1364.7 1139.7L1365.6 1185.8L1366.6 1195.6L1367.5 1185.6L1368.5 1179.1L1369.6 1149.7L1370.6 1159.7L1371.5 1167.3L1372.4 1168.9L1373.2 1149.7L1374.1 1162.1L1375.3 1159.4L1376.5 1195L1377.6 1205L1378.8 1169.1L1380 1208.9L1381.2 1242.1L1382.1 1219.6L1382.9 1230.9L1383.8 1187.4L1384.7 1197.4L1385.7 1187.6L1386.7 1230.4L1387.8 1267.9L1388.7 1273.2L1389.6 1261.1L1390.6 1225.6L1391.8 1259.4L1392.9 1279.7L1393.9 1310.9L1394.8 1269.7L1395.8 1300.9L1396.8 1239.1L1397.8 1256.2L1398.8 1185.6L1399.8 1258.3L1400.7 1296.4L1401.6 1352.6L1402.7 1329.7L1403.7 1274L1404.7 1253.8L1405.6 1263.8L1406.6 1233.4L1407.5 1237.4L1408.5 1284.2L1409.6 1287L1410.6 1317.4L1411.6 1275.7L1412.6 1229.8L1413.6 1229.1L1414.6 1254.4L1415.5 1287.9L1416.5 1322.1L1417.4 1305L1418.4 1305L1419.3 1315L1420.5 1322.7L1421.6 1384.4L1422.6 1374.4L1423.5 1398.5L1424.5 1384.6L1425.4 1315L1426.4 1343.2" stroke="#a8a8a8" stroke-width="3.5" fill="none" stroke-linejoin="round" stroke-linecap="round"/>
<path d="M197.1 1202.1L198.1 1206.1L199.1 1210.2L200.1 1214.7L201.1 1219.5L202.1 1224.8L203.1 1231.1L204.1 1239.7L205.1 1249.3L206.1 1258.9L207.1 1268.3L208.1 1275.1L209.1 1280.6L210.1 1283.3L211.1 1283.8L212.1 1284.2L213.1 1285.6L214.1 1288L215.1 1288.4L216.1 1286.5L217.1 1284.4L218.1 1283.1L219.1 1282.1L220.1 1282.2L221.1 1282.5L222.1 1283L223.1 1283.2L224.1 1283.3L225.1 1283.4L226.1 1283.5L227.1 1283.4L228.1 1283.2L229.1 1282.9L230.1 1282.5L231.1 1281.8L232.1 1280.7L233.1 1279.3L234.1 1277.1L235.1 1275.5L236.1 1276.6L237.1 1279.7L238.1 1286L239.1 1294.9L240.1 1305.8L241.1 1312.9L242.1 1317.3L243.1 1319.9L244.1 1321.6L245.1 1322.5L246.1 1322.3L247.1 1321.6L248.1 1319.9L249.1 1314.5L250.1 1307.5L251.1 1298.1L252.1 1292.1L253.1 1288.7L254.1 1286.7L255.1 1285.3L256.1 1284.3L257.1 1283.9L258.1 1287.4L259.1 1294.9L260.1 1309.8L261.1 1322.4L262.1 1331.9L263.1 1339.3L264.1 1345L265.1 1349.8L266.1 1353.8L267.1 1357.3L268.1 1360.3L269.1 1362.5L270.1 1364.1L271.1 1365.3L272.1 1366.5L273.1 1367.8L274.1 1368.6L275.1 1368L276.1 1365.8L277.1 1362.7L278.1 1357L279.1 1349.3L280.1 1338.2L281.1 1322.4L282.1 1298.3L283.1 1270.3L284.1 1249.4L285.1 1236.9L286.1 1230L287.1 1225.2L288.1 1222.1L289.1 1219.5L290.1 1218.5L291.1 1218.5L292.1 1218.5L293.1 1219.4L294.1 1222.8L295.1 1227.5L296.1 1235.3L297.1 1241.9L298.1 1247.3L299.1 1250L300.1 1251.8L301.1 1253.3L302.1 1254.3L303.1 1255.6L304.1 1257.9L305.1 1262L306.1 1267.4L307.1 1275.4L308.1 1284L309.1 1291.6L310.1 1298.6L311.1 1303.9L312.1 1308.3L313.1 1310.6L314.1 1311.7L315.1 1312.2L316.1 1310.7L317.1 1306.1L318.1 1295.7L319.1 1278.5L320.1 1269.6L321.1 1268.2L322.1 1269.9L323.1 1275L324.1 1283.9L325.1 1293L326.1 1302.3L327.1 1309.8L328.1 1316.3L329.1 1320.4L330.1 1323.3L331.1 1325.2L332.1 1325.3L333.1 1323L334.1 1319.5L335.1 1314.3L336.1 1307.5L337.1 1300.9L338.1 1293.9L339.1 1286.3L340.1 1277.3L341.1 1270.3L342.1 1265.9L343.1 1263L344.1 1264.1L345.1 1269L346.1 1276L347.1 1283.8L348.1 1288.4L349.1 1291.5L350.1 1291.8L351.1 1291.3L352.1 1290.5L353.1 1289.7L354.1 1288.6L355.1 1287.9L356.1 1288.1L357.1 1288.5L358.1 1289L359.1 1289.9L360.1 1291.5L361.1 1293.4L362.1 1295.6L363.1 1298.4L364.1 1300.8L365.1 1302.5L366.1 1303.9L367.1 1304.4L368.1 1304.3L369.1 1304L370.1 1303.9L371.1 1304.3L372.1 1305L373.1 1305.5L374.1 1305.5L375.1 1305L376.1 1304.1L377.1 1303.2L378.1 1302L379.1 1300.5L380.1 1299.7L381.1 1300.2L382.1 1301.3L383.1 1302.1L384.1 1302.6L385.1 1303L386.1 1303.2L387.1 1303.2L388.1 1303L389.1 1302.8L390.1 1302.8L391.1 1302.8L392.1 1303L393.1 1303.1L394.1 1303.2L395.1 1301.6L396.1 1297.8L397.1 1292.2L398.1 1289L399.1 1287.4L400.1 1287.9L401.1 1290.7L402.1 1294.8L403.1 1300.3L404.1 1305.1L405.1 1309.5L406.1 1312.5L407.1 1314.8L408.1 1317.1L409.1 1319.4L410.1 1321.6L411.1 1324.1L412.1 1327.1L413.1 1330.6L414.1 1334.1L415.1 1337.2L416.1 1340.1L417.1 1342.8L418.1 1345L419.1 1347.3L420.1 1348.8L421.1 1349L422.1 1347.9L423.1 1346.2L424.1 1344.2L425.1 1341.3L426.1 1337.1L427.1 1330.1L428.1 1318.2L429.1 1296L430.1 1272.1L431.1 1255.1L432.1 1248.2L433.1 1245.2L434.1 1243.8L435.1 1243.2L436.1 1243.7L437.1 1245L438.1 1246.5L439.1 1248L440.1 1249.8L441.1 1252L442.1 1255.4L443.1 1260.2L444.1 1265.3L445.1 1270.1L446.1 1275L447.1 1280.4L448.1 1286.9L449.1 1292.7L450.1 1297.8L451.1 1296.3L452.1 1289.4L453.1 1285.2L454.1 1283.2L455.1 1283.6L456.1 1284.8L457.1 1290.8L458.1 1298.1L459.1 1305L460.1 1312.2L461.1 1320L462.1 1328.1L463.1 1336.2L464.1 1344.2L465.1 1352.2L466.1 1360.2L467.1 1368.2L468.1 1376.3L469.1 1384.3L470.1 1392L471.1 1399.5L472.1 1405.3L473.1 1409.6L474.1 1413.1L475.1 1415.9L476.1 1418.2L477.1 1420.1L478.1 1421.8L479.1 1423.3L480.1 1424.6L481.1 1425.8L482.1 1427.2L483.1 1428.5L484.1 1430.2L485.1 1433.3L486.1 1437.3L487.1 1440.1L488.1 1442.5L489.1 1443.9L490.1 1443.8L491.1 1443.2L492.1 1442.4L493.1 1441L494.1 1438.5L495.1 1434.4L496.1 1424.6L497.1 1403.5L498.1 1357.7L499.1 1291.4L500.1 1239.4L501.1 1209.1L502.1 1188L503.1 1172.2L504.1 1159.2L505.1 1149.5L506.1 1143.7L507.1 1139.6L508.1 1138.2L509.1 1137.6L510.1 1137.4L511.1 1138L512.1 1139.5L513.1 1141.3L514.1 1144L515.1 1147.4L516.1 1150.9L517.1 1154.6L518.1 1158.5L519.1 1162.8L520.1 1167.5L521.1 1172.7L522.1 1178.2L523.1 1183.9L524.1 1189.8L525.1 1195.8L526.1 1201.9L527.1 1207.8L528.1 1213.2L529.1 1219L530.1 1226.1L531.1 1235.6L532.1 1247.6L533.1 1262.2L534.1 1280.9L535.1 1307.2L536.1 1325.5L537.1 1338.5L538.1 1350.5L539.1 1361L540.1 1370.2L541.1 1378.2L542.1 1385.2L543.1 1391.5L544.1 1397L545.1 1402.3L546.1 1407.1L547.1 1411.1L548.1 1413.9L549.1 1416.2L550.1 1418.7L551.1 1421.8L552.1 1425.2L553.1 1428.7L554.1 1432.1L555.1 1435.5L556.1 1438.9L557.1 1442.1L558.1 1445.1L559.1 1448.1L560.1 1450.6L561.1 1452.1L562.1 1453.4L563.1 1453.8L564.1 1452.7L565.1 1450.7L566.1 1448.8L567.1 1446.7L568.1 1444.2L569.1 1441.3L570.1 1437.9L571.1 1433.8L572.1 1429.3L573.1 1424.3L574.1 1418.5L575.1 1412.2L576.1 1405.6L577.1 1398.5L578.1 1391L579.1 1383.5L580.1 1376.1L581.1 1368.7L582.1 1361.4L583.1 1354.2L584.1 1347.7L585.1 1340.6L586.1 1331L587.1 1317.1L588.1 1287.7L589.1 1266.2L590.1 1258.1L591.1 1255.2L592.1 1254.1L593.1 1253.9L594.1 1255.4L595.1 1257.2L596.1 1258.2L597.1 1259L598.1 1261.4L599.1 1267.5L600.1 1279L601.1 1290.6L602.1 1294.9L603.1 1292.4L604.1 1286.4L605.1 1277.2L606.1 1267.4L607.1 1258.2L608.1 1248.9L609.1 1240L610.1 1231.4L611.1 1223.1L612.1 1215.4L613.1 1208L614.1 1201.2L615.1 1195.4L616.1 1190.2L617.1 1185.7L618.1 1182.3L619.1 1179.4L620.1 1177.3L621.1 1176.3L622.1 1175.6L623.1 1175.2L624.1 1175L625.1 1175.2L626.1 1175.9L627.1 1176.8L628.1 1177.8L629.1 1179L630.1 1180.5L631.1 1181.9L632.1 1183.2L633.1 1184.4L634.1 1185.8L635.1 1187.3L636.1 1189.1L637.1 1191.5L638.1 1196L639.1 1202.3L640.1 1208.9L641.1 1215.4L642.1 1217.7L643.1 1218.5L644.1 1217.1L645.1 1214.4L646.1 1211.5L647.1 1207.9L648.1 1203.9L649.1 1199.4L650.1 1194.7L651.1 1190.7L652.1 1187.4L653.1 1184.5L654.1 1182.1L655.1 1180.3L656.1 1178.8L657.1 1177.6L658.1 1177.4L659.1 1178.1L660.1 1181.3L661.1 1188.9L662.1 1194.3L663.1 1198.7L664.1 1201.1L665.1 1202.8L666.1 1203.2L667.1 1203.2L668.1 1203.2L669.1 1203.3L670.1 1204.1L671.1 1205.6L672.1 1207.4L673.1 1209.3L674.1 1211.6L675.1 1214.1L676.1 1216.6L677.1 1219.2L678.1 1221.9L679.1 1224.6L680.1 1227.3L681.1 1229.8L682.1 1232.4L683.1 1235.4L684.1 1238.8L685.1 1242.6L686.1 1247L687.1 1252.4L688.1 1258.8L689.1 1266.5L690.1 1275.3L691.1 1283.4L692.1 1290.5L693.1 1295.9L694.1 1297L695.1 1294.4L696.1 1292L697.1 1290.3L698.1 1292.6L699.1 1297.3L700.1 1303L701.1 1309.5L702.1 1316.9L703.1 1324.3L704.1 1328.6L705.1 1331.3L706.1 1333.5L707.1 1336.2L708.1 1339.7L709.1 1343.7L710.1 1348L711.1 1352.3L712.1 1356.9L713.1 1361.6L714.1 1366.5L715.1 1371.7L716.1 1377.1L717.1 1382.6L718.1 1387.6L719.1 1392.5L720.1 1397.1L721.1 1401.6L722.1 1405.9L723.1 1410.1L724.1 1414L725.1 1417.3L726.1 1420.2L727.1 1422.8L728.1 1425.2L729.1 1427.4L730.1 1429.3L731.1 1431.2L732.1 1433.3L733.1 1436L734.1 1438.6L735.1 1440.6L736.1 1441.7L737.1 1442.5L738.1 1443.1L739.1 1443.2L740.1 1443.2L741.1 1443.2L742.1 1443L743.1 1441.3L744.1 1438.3L745.1 1432.5L746.1 1423.7L747.1 1413.3L748.1 1400L749.1 1383.5L750.1 1363.3L751.1 1340.8L752.1 1299.8L753.1 1261.9L754.1 1241.7L755.1 1229.2L756.1 1221.4L757.1 1216.2L758.1 1212.2L759.1 1208.1L760.1 1204L761.1 1200.1L762.1 1196.2L763.1 1192.2L764.1 1188.3L765.1 1184.3L766.1 1180.1L767.1 1175.1L768.1 1170.1L769.1 1166.4L770.1 1163.9L771.1 1161.9L772.1 1160.5L773.1 1159.4L774.1 1158.5L775.1 1158.1L776.1 1158.1L777.1 1158.4L778.1 1158.9L779.1 1159.4L780.1 1160L781.1 1160.9L782.1 1161.8L783.1 1162.6L784.1 1163.4L785.1 1164.4L786.1 1165.9L787.1 1168.2L788.1 1170.9L789.1 1174.3L790.1 1178.4L791.1 1183.2L792.1 1188.9L793.1 1195.1L794.1 1201.5L795.1 1208.3L796.1 1215.4L797.1 1223L798.1 1230.9L799.1 1239.7L800.1 1250.2L801.1 1262.8L802.1 1278.1L803.1 1299.5L804.1 1315.1L805.1 1325.8L806.1 1333.3L807.1 1339L808.1 1342.6L809.1 1345.5L810.1 1347.4L811.1 1348.2L812.1 1348.7L813.1 1349L814.1 1349.1L815.1 1348.3L816.1 1346.1L817.1 1342.8L818.1 1335.9L819.1 1322.1L820.1 1289.6L821.1 1257.4L822.1 1252.3L823.1 1250.1L824.1 1250.2L825.1 1252.2L826.1 1254.1L827.1 1255.1L828.1 1256.2L829.1 1258.6L830.1 1265.9L831.1 1274.9L832.1 1285.3L833.1 1286.4L834.1 1284.6L835.1 1273.1L836.1 1260.8L837.1 1253.7L838.1 1249.3L839.1 1246.9L840.1 1245.2L841.1 1244.4L842.1 1244.4L843.1 1244.4L844.1 1244.4L845.1 1245.3L846.1 1248.1L847.1 1251.5L848.1 1256L849.1 1260.9L850.1 1263.7L851.1 1265.5L852.1 1264.2L853.1 1260.8L854.1 1259.5L855.1 1259.1L856.1 1259L857.1 1260.8L858.1 1264.4L859.1 1269.1L860.1 1275.9L861.1 1283.5L862.1 1291.5L863.1 1300.2L864.1 1308.4L865.1 1316.7L866.1 1323.4L867.1 1326L868.1 1327.4L869.1 1328.1L870.1 1328.3L871.1 1328.6L872.1 1331.6L873.1 1336.8L874.1 1343.9L875.1 1351.3L876.1 1356.6L877.1 1360.9L878.1 1362.4L879.1 1363L880.1 1363.2L881.1 1362.6L882.1 1361.2L883.1 1359.1L884.1 1354.6L885.1 1346.7L886.1 1328.7L887.1 1300.8L888.1 1273.4L889.1 1255.7L890.1 1245.5L891.1 1238.5L892.1 1233.8L893.1 1230L894.1 1228L895.1 1227.4L896.1 1227.2L897.1 1230L898.1 1234.9L899.1 1242.6L900.1 1249.4L901.1 1254L902.1 1257.7L903.1 1260.2L904.1 1262L905.1 1263.7L906.1 1266.1L907.1 1269.4L908.1 1273.4L909.1 1278L910.1 1283.1L911.1 1289.2L912.1 1295.8L913.1 1302.7L914.1 1310.3L915.1 1316.1L916.1 1320.6L917.1 1324.1L918.1 1326.4L919.1 1328L920.1 1329.3L921.1 1330.2L922.1 1330.9L923.1 1331.5L924.1 1331.9L925.1 1331.9L926.1 1331.6L927.1 1331.1L928.1 1330.4L929.1 1329.5L930.1 1328L931.1 1326L932.1 1323.7L933.1 1320.4L934.1 1315.7L935.1 1308.9L936.1 1297L937.1 1281.6L938.1 1265.8L939.1 1255.8L940.1 1254.2L941.1 1253.8L942.1 1254.9L943.1 1257.9L944.1 1262.5L945.1 1271.2L946.1 1284.8L947.1 1303.2L948.1 1319.2L949.1 1333.9L950.1 1346.5L951.1 1357.7L952.1 1367.7L953.1 1376.5L954.1 1384.2L955.1 1391.1L956.1 1397.7L957.1 1404.1L958.1 1408.9L959.1 1412.1L960.1 1414.6L961.1 1416.7L962.1 1418.9L963.1 1421.2L964.1 1423.3L965.1 1425.3L966.1 1427L967.1 1428.6L968.1 1429.9L969.1 1431.1L970.1 1432.1L971.1 1433.2L972.1 1434L973.1 1434.3L974.1 1434.4L975.1 1434.5L976.1 1434.5L977.1 1434.4L978.1 1433.8L979.1 1432.7L980.1 1431.4L981.1 1429.3L982.1 1426.4L983.1 1423.2L984.1 1420.3L985.1 1417L986.1 1413.1L987.1 1407.9L988.1 1401.7L989.1 1395L990.1 1387.7L991.1 1378.5L992.1 1366.4L993.1 1347.2L994.1 1305.6L995.1 1263.5L996.1 1238.4L997.1 1222.2L998.1 1212.4L999.1 1205.1L1000.1 1199.4L1001.1 1194.6L1002.1 1190.5L1003.1 1187L1004.1 1184.1L1005.1 1181.7L1006.1 1179.5L1007.1 1177.4L1008.1 1175.3L1009.1 1173.5L1010.1 1171.6L1011.1 1169.6L1012.1 1167.2L1013.1 1164.1L1014.1 1160.8L1015.1 1157.9L1016.1 1155.6L1017.1 1153.5L1018.1 1151.9L1019.1 1151.5L1020.1 1151.6L1021.1 1151.9L1022.1 1152.5L1023.1 1153.8L1024.1 1155.9L1025.1 1158.2L1026.1 1161.4L1027.1 1165.1L1028.1 1169.1L1029.1 1173.5L1030.1 1178.2L1031.1 1183.4L1032.1 1189.2L1033.1 1195.2L1034.1 1201.3L1035.1 1207.5L1036.1 1213L1037.1 1218L1038.1 1221.9L1039.1 1224.1L1040.1 1225.6L1041.1 1227.6L1042.1 1231.1L1043.1 1236.5L1044.1 1245L1045.1 1259.1L1046.1 1275.6L1047.1 1293.8L1048.1 1312.5L1049.1 1328.2L1050.1 1339.5L1051.1 1347L1052.1 1352.3L1053.1 1355.2L1054.1 1356.6L1055.1 1357.3L1056.1 1356.7L1057.1 1354.5L1058.1 1350.9L1059.1 1343.4L1060.1 1330.1L1061.1 1306.2L1062.1 1274.1L1063.1 1254.9L1064.1 1246.2L1065.1 1240L1066.1 1234.9L1067.1 1231.5L1068.1 1229.4L1069.1 1228.1L1070.1 1228.4L1071.1 1230.3L1072.1 1236.5L1073.1 1245.4L1074.1 1254.4L1075.1 1263.6L1076.1 1271.8L1077.1 1279.5L1078.1 1286.4L1079.1 1292.8L1080.1 1298.8L1081.1 1302.9L1082.1 1305.3L1083.1 1307.1L1084.1 1307.9L1085.1 1307.7L1086.1 1306.9L1087.1 1305.6L1088.1 1301.5L1089.1 1294.2L1090.1 1284.7L1091.1 1273.9L1092.1 1270.3L1093.1 1269.2L1094.1 1272.4L1095.1 1277.6L1096.1 1285L1097.1 1292.2L1098.1 1298.6L1099.1 1304.8L1100.1 1310.6L1101.1 1316.6L1102.1 1322.4L1103.1 1326.8L1104.1 1329.8L1105.1 1332.2L1106.1 1334.1L1107.1 1335.4L1108.1 1337L1109.1 1340.8L1110.1 1347L1111.1 1352.9L1112.1 1358.6L1113.1 1364.6L1114.1 1371L1115.1 1377.9L1116.1 1385.7L1117.1 1395L1118.1 1404L1119.1 1411.8L1120.1 1417.6L1121.1 1420.8L1122.1 1422.9L1123.1 1423.8L1124.1 1424.5L1125.1 1425L1126.1 1425.1L1127.1 1424.2L1128.1 1422.6L1129.1 1420.6L1130.1 1417.3L1131.1 1414.4L1132.1 1415.3L1133.1 1418.1L1134.1 1420.7L1135.1 1423.4L1136.1 1425.4L1137.1 1425.3L1138.1 1423.9L1139.1 1421.5L1140.1 1418.4L1141.1 1414.8L1142.1 1409.3L1143.1 1401.6L1144.1 1391.2L1145.1 1375.3L1146.1 1355.4L1147.1 1333.8L1148.1 1318L1149.1 1318.6L1150.1 1325.8L1151.1 1340.9L1152.1 1353.6L1153.1 1365.5L1154.1 1374.9L1155.1 1382.7L1156.1 1390.2L1157.1 1398.3L1158.1 1404.2L1159.1 1407.3L1160.1 1408.6L1161.1 1406.2L1162.1 1400.9L1163.1 1389.7L1164.1 1373.2L1165.1 1348.9L1166.1 1313.1L1167.1 1274.9L1168.1 1245.4L1169.1 1225.5L1170.1 1211.9L1171.1 1202.8L1172.1 1195.7L1173.1 1189.6L1174.1 1184.3L1175.1 1179.7L1176.1 1175.5L1177.1 1171.3L1178.1 1167.2L1179.1 1163.8L1180.1 1161.4L1181.1 1159.1L1182.1 1157.9L1183.1 1157.9L1184.1 1158.5L1185.1 1159.3L1186.1 1160.8L1187.1 1164L1188.1 1168.3L1189.1 1174.1L1190.1 1182.6L1191.1 1193.4L1192.1 1208.5L1193.1 1229.9L1194.1 1263.7L1195.1 1313.1L1196.1 1347.1L1197.1 1371.4L1198.1 1390.5L1199.1 1405L1200.1 1416.2L1201.1 1424.8L1202.1 1431.1L1203.1 1435.9L1204.1 1438.5L1205.1 1440.3L1206.1 1440.9L1207.1 1440.2L1208.1 1438.8L1209.1 1437.2L1210.1 1435L1211.1 1432.3L1212.1 1429.4L1213.1 1426.4L1214.1 1423.1L1215.1 1419.4L1216.1 1415.3L1217.1 1410.5L1218.1 1405.6L1219.1 1401.1L1220.1 1397L1221.1 1393L1222.1 1389.1L1223.1 1385.2L1224.1 1381.3L1225.1 1377.3L1226.1 1373L1227.1 1368.5L1228.1 1363.5L1229.1 1357.5L1230.1 1350.5L1231.1 1340.9L1232.1 1324.1L1233.1 1297.2L1234.1 1271.3L1235.1 1255L1236.1 1240.5L1237.1 1227.6L1238.1 1216.6L1239.1 1207.1L1240.1 1198.5L1241.1 1190.1L1242.1 1182L1243.1 1174.6L1244.1 1168.2L1245.1 1162.4L1246.1 1157.3L1247.1 1153.1L1248.1 1149.2L1249.1 1146.3L1250.1 1144.5L1251.1 1143L1252.1 1142L1253.1 1141.6L1254.1 1141.5L1255.1 1141.4L1256.1 1141.4L1257.1 1142L1258.1 1143.3L1259.1 1144.7L1260.1 1146.3L1261.1 1148L1262.1 1149.8L1263.1 1151.4L1264.1 1152.9L1265.1 1154.6L1266.1 1156.6L1267.1 1159.1L1268.1 1162.2L1269.1 1165.6L1270.1 1169.1L1271.1 1172.9L1272.1 1177L1273.1 1181.4L1274.1 1186.4L1275.1 1191.9L1276.1 1197.5L1277.1 1202.8L1278.1 1208.2L1279.1 1213.5L1280.1 1218.8L1281.1 1224.3L1282.1 1229.7L1283.1 1235L1284.1 1239.9L1285.1 1244.4L1286.1 1248.9L1287.1 1253.8L1288.1 1259L1289.1 1264.7L1290.1 1271.7L1291.1 1281.6L1292.1 1292.3L1293.1 1303.5L1294.1 1309.9L1295.1 1313.9L1296.1 1315.5L1297.1 1315L1298.1 1313.8L1299.1 1312.2L1300.1 1309.7L1301.1 1305.9L1302.1 1300.9L1303.1 1293.2L1304.1 1283.5L1305.1 1274.4L1306.1 1269.9L1307.1 1269.2L1308.1 1269.7L1309.1 1270.8L1310.1 1273.4L1311.1 1277.4L1312.1 1283.2L1313.1 1291L1314.1 1299.5L1315.1 1309.1L1316.1 1317.1L1317.1 1323.5L1318.1 1328.8L1319.1 1333.2L1320.1 1336.9L1321.1 1340.5L1322.1 1343.9L1323.1 1347.3L1324.1 1350.5L1325.1 1353.8L1326.1 1357.3L1327.1 1360.7L1328.1 1363.9L1329.1 1366.8L1330.1 1369.7L1331.1 1372.3L1332.1 1374.4L1333.1 1376.4L1334.1 1378.1L1335.1 1379.5L1336.1 1380.4L1337.1 1381.1L1338.1 1381.7L1339.1 1382.2L1340.1 1382.6L1341.1 1382.9L1342.1 1383.6L1343.1 1384.7L1344.1 1385.8L1345.1 1386L1346.1 1385.7L1347.1 1385L1348.1 1384.2L1349.1 1383L1350.1 1381.1L1351.1 1377.5L1352.1 1367.8L1353.1 1347.8L1354.1 1306.5L1355.1 1263.1L1356.1 1239L1357.1 1224.9L1358.1 1214.4L1359.1 1205.8L1360.1 1199.4L1361.1 1194.4L1362.1 1191.1L1363.1 1190.3L1364.1 1189.9L1365.1 1189.9L1366.1 1191L1367.1 1192.9L1368.1 1195.1L1369.1 1198.4L1370.1 1203L1371.1 1211.2L1372.1 1217.6L1373.1 1221.7L1374.1 1224.3L1375.1 1225.4L1376.1 1226.1L1377.1 1226.8L1378.1 1228.1L1379.1 1230.4L1380.1 1233.2L1381.1 1235.9L1382.1 1238.6L1383.1 1241.5L1384.1 1244.6L1385.1 1248L1386.1 1251.8L1387.1 1256.2L1388.1 1262.1L1389.1 1268.4L1390.1 1273.5L1391.1 1277.8L1392.1 1280.2L1393.1 1281.5L1394.1 1282.1L1395.1 1281.6L1396.1 1280.5L1397.1 1279.2L1398.1 1278.1L1399.1 1277.1L1400.1 1276.2L1401.1 1275.1L1402.1 1274.1L1403.1 1273.1L1404.1 1271.8L1405.1 1269.2L1406.1 1266L1407.1 1264.9L1408.1 1264.5L1409.1 1264.4L1410.1 1266.3L1411.1 1269.5L1412.1 1272.8L1413.1 1276.9L1414.1 1282.1L1415.1 1289.3L1416.1 1296.6L1417.1 1304.3L1418.1 1307.2L1419.1 1307.9L1420.1 1305.8L1421.1 1299.4L1422.1 1288.5L1423.1 1277.9L1424.1 1271.9L1425.1 1270.8L1425.9 1270.3" stroke="#000" stroke-width="3.7" fill="none" stroke-linejoin="round" stroke-linecap="round"/>
<line x1="634.8" y1="159" x2="634.8" y2="975" stroke="#1212dc" stroke-width="2.3" stroke-dasharray="17 17" stroke-dashoffset="9"/>
<path d="M1602.9 302.5V562.5M1619.9 302.5V562.5M1637 302.5V562.5M1654 302.5V562.5M1671.1 302.5V562.5M1688.1 302.5V562.5M1705.2 302.5V562.5M1722.2 302.5V562.5M1739.3 302.5V562.5M1756.3 302.5V562.5" stroke="#b9b9b9" stroke-width="1.8" stroke-dasharray="3.4 3.9" fill="none"/>
<ellipse cx="1772.5" cy="45.8" rx="11.6" ry="8.7" fill="#cacaca"/><ellipse cx="1771.3" cy="45.8" rx="7.8" ry="5.6" fill="#9a9a9a"/>
<ellipse cx="1802.2" cy="49.6" rx="11.6" ry="8.7" fill="#cacaca"/><ellipse cx="1801.7" cy="49.2" rx="9.2" ry="6.9" fill="#9a9a9a"/>
<ellipse cx="1826.3" cy="57.4" rx="11.6" ry="8.7" fill="#cacaca"/><ellipse cx="1825.1" cy="57.4" rx="7.8" ry="5.6" fill="#9a9a9a"/>
<ellipse cx="1756.4" cy="63.8" rx="11.6" ry="8.7" fill="#cacaca"/><ellipse cx="1755.9" cy="63.4" rx="9.2" ry="6.9" fill="#9a9a9a"/>
<ellipse cx="1788.9" cy="67.3" rx="11.6" ry="8.7" fill="#cacaca"/><ellipse cx="1787.7" cy="67.3" rx="7.8" ry="5.6" fill="#9a9a9a"/>
<ellipse cx="1812.8" cy="74.8" rx="11.6" ry="8.7" fill="#cacaca"/><ellipse cx="1812.3" cy="74.4" rx="9.2" ry="6.9" fill="#9a9a9a"/>
<path d="M1766.6 78.6C1757.4 93.4 1734.8 108.9 1681.2 128.7L1616.2 151L1613 146.1L1604.9 157.2L1619.1 156.9L1617.1 153.6L1681.2 132.9C1709.4 123.8 1734.8 119.5 1743.3 117.4C1743.3 127.3 1737.6 140 1731.4 152.1L1726.8 150.6L1727.8 163.7L1737.6 155.2L1734.3 153.6C1746.1 130.1 1760.2 103.3 1791.3 89.9C1782.8 87.8 1774.4 83.5 1766.6 78.6Z" fill="#c8c8c8"/>
<path d="M1814.9 97.3C1823.8 93.3 1833.6 90 1841.7 89.2C1848.2 108.7 1870.9 128.2 1909.9 150.9L2005 202.5L2008.6 198.5L2014.6 210.2L2000.8 208.1L2003.7 205L1909.9 155.8C1885.5 141.2 1870.9 133.9 1858.7 131.4C1857.9 150.9 1866 173.6 1871.9 191.5L1876.4 191.2L1872.9 204.2L1864.1 193.6L1868.5 192.3C1857.9 157.4 1844.9 121.7 1814.9 97.3Z" fill="#c8c8c8"/>
<ellipse cx="1582.4" cy="171.3" rx="11.6" ry="8.6" fill="#f9a9a9"/><ellipse cx="1581.2" cy="171.3" rx="7.8" ry="5.6" fill="#fc6666"/>
<ellipse cx="1611.7" cy="171.3" rx="11.6" ry="8.6" fill="#f9a9a9"/><ellipse cx="1610.5" cy="171.3" rx="7.8" ry="5.6" fill="#fc6666"/>
<ellipse cx="1598.6" cy="192.5" rx="11.6" ry="8.6" fill="#f9a9a9"/><ellipse cx="1597.4" cy="192.5" rx="7.8" ry="5.6" fill="#fc6666"/>
<ellipse cx="1713.4" cy="169.6" rx="11.6" ry="8.6" fill="#e7a8fb"/><ellipse cx="1713.1" cy="169.3" rx="9.6" ry="7.0" fill="#cb5cff"/>
<ellipse cx="1735.5" cy="183.1" rx="11.6" ry="8.6" fill="#e7a8fb"/><ellipse cx="1735.2" cy="182.8" rx="9.6" ry="7.0" fill="#cb5cff"/>
<ellipse cx="1716.5" cy="191.1" rx="11.6" ry="8.6" fill="#e7a8fb"/><ellipse cx="1716.2" cy="190.8" rx="9.6" ry="7.0" fill="#cb5cff"/>
<text x="1847.5" y="50" font-size="24.95">Label newly synthesised</text>
<text x="1847.5" y="80.3" font-size="24.95">DNA in replicating cells</text>
<text x="1561" y="97" font-size="24.95">Sort on DNA</text>
<text x="1561" y="127.3" font-size="24.95">content</text>
<text x="1900.2" y="131.5" font-size="24.95">Size select short</text>
<text x="1900.2" y="162" font-size="24.95">new DNA fragments</text>
<text x="1561.3" y="225" font-size="24.95">Early-S</text>
<text x="1695.3" y="225" font-size="24.95">Late-S</text>
<text x="1644.3" y="256.8" fill="#c6c6c6" font-size="24.95">Seq.</text>
<text x="2066.7" y="284.8" fill="#c6c6c6" font-size="24.95">Seq.</text>
<text x="1807.4" y="295.6" font-size="24.95">Resolve <tspan fill="#6495ed">Forward</tspan></text>
<text x="1807.4" y="326" font-size="24.95">and <tspan fill="#6cf0c2">Reverse</tspan> by</text>
<text x="1807.4" y="356.3" font-size="24.95">mapping to</text>
<text x="1807.4" y="386.6" font-size="24.95">genome</text>
<line x1="1786" y1="140" x2="1786" y2="582" stroke="#2a2a2a" stroke-width="2.6"/>
<path d="M1601.5 236H1604.9V253.5H1609L1603.2 265.4L1597.4 253.5H1601.5Z" fill="#c8c8c8"/>
<path d="M1729.4 236H1732.8V253.5H1736.9L1731.1 265.4L1725.3 253.5H1729.4Z" fill="#c8c8c8"/>
<path d="M2055.8 263.5H2059.2V290.5H2063.8L2057.5 302.3L2051.2 290.5H2055.8Z" fill="#c8c8c8"/>
<path d="M1799.2 220.2H1857.9M1881 219.9H1939.9M1804.7 225.9H1863.6M1886.7 225.8H1945.3M1843 228.8H1901.8M1924.8 228.7H1983.4M1813.6 231.6H1872.2M1895.3 231.3H1954M1817 235H1875.8M1898.8 234.9H1957.8M1863.6 241H1922.4" stroke="#8e8e8e" stroke-width="2.0" fill="none" opacity=".92"/>
<path d="M2031.6 224H2052.8M2035.2 228.4H2056M2037.3 232.1H2058.4M2060.4 231.4H2081.2M2068.2 234.9H2089.6M2026.8 237H2047.9M2052.3 238.1H2073M2040.6 241.3H2061.7M2063.8 243.8H2084.7M2023.5 245.9H2044.6" stroke="#8e8e8e" stroke-width="2.0" fill="none" opacity=".92"/>
<line x1="1584" y1="358.5" x2="1769.5" y2="358.5" stroke="#86eff0" stroke-width="2.0"/>
<path d="M1586.3 270.3H1607.1M1589.6 274.8H1610.4M1592.3 278.6H1613M1615 278H1635.8M1623.3 281.3H1643.9M1581.3 283.2H1602.1M1606.7 284H1627.5M1595.4 287.6H1616M1618.4 290H1639.1M1578.3 291.8H1599.1" stroke="#ee5f5b" stroke-width="2.0" fill="none" opacity=".92"/>
<path d="M1705.1 268.8H1725.8M1734.9 268.6H1755.7M1707.3 274.5H1728.1M1736.8 274.2H1757.8M1721.3 277.5H1742.1M1750.7 277.2H1771.5M1710 280.1H1730.8M1740.1 280.1H1760.8M1711.5 283.2H1732.3M1741.3 283.2H1762M1728.4 289.6H1749.2" stroke="#bf5ff2" stroke-width="2.0" fill="none" opacity=".92"/>
<path d="M1606.7 394.4C1607.7 393.9 1610.7 393.1 1612.7 391.4C1614.7 389.6 1617 387.1 1618.7 383.8C1620.5 380.5 1621.8 376.5 1623.3 371.8C1624.8 367 1626.3 360.7 1627.8 355.2C1629.3 349.6 1630.8 343.4 1632.3 338.6C1633.8 333.8 1635.3 330.3 1636.8 326.5C1638.3 322.7 1639.8 318.8 1641.4 316C1642.9 313.1 1644.1 311.1 1645.9 309.2C1647.6 307.3 1650 305.6 1651.9 304.6C1653.9 303.7 1655.8 303.3 1657.6 303.4C1659.5 303.6 1661.5 304.1 1663.2 305.4C1664.9 306.7 1666.4 308.7 1667.7 311.4C1669.1 314.2 1670.4 318 1671.5 322C1672.6 326 1673.5 330.3 1674.5 335.6C1675.5 340.8 1676.5 347.9 1677.5 353.7C1678.6 359.4 1679.4 365.2 1680.6 370.2C1681.7 375.3 1683 380 1684.3 383.8C1685.7 387.6 1687 390.7 1688.9 392.9C1690.7 395 1693.5 396.4 1695.6 396.6C1697.8 396.9 1699.8 396 1701.7 394.4C1703.6 392.7 1705.3 390.4 1707 386.8C1708.6 383.3 1710.1 378.5 1711.5 373.3C1712.9 368 1714 360.9 1715.2 355.2C1716.5 349.4 1717.8 342.8 1719 338.6C1720.3 334.3 1721.4 331.7 1722.8 329.5C1724.2 327.4 1725.9 326.5 1727.3 325.8C1728.7 325.1 1729.7 324.9 1731.1 325.3C1732.5 325.7 1734.2 326.3 1735.6 328C1737 329.7 1738.2 332.3 1739.4 335.6C1740.5 338.8 1741.5 343.4 1742.4 347.6C1743.3 351.9 1744.1 357 1744.7 361.2C1745.2 365.3 1745.5 370.6 1745.7 372.5" stroke="#000" stroke-width="4.6" fill="none" stroke-linejoin="round" stroke-linecap="butt"/>
<path d="M1642.9 316.3H1663.7M1645.9 320.5H1666.7M1648.6 324.6H1669.3M1637.6 329.2H1658.4M1651.2 333.6H1672M1634.9 337.8H1655.7M1650.1 342.8H1670.8M1623.7 345.7H1644.4M1662.2 346.6H1682.8M1642.1 349.4H1662.8M1598.7 352.1H1619.5M1629.3 352.1H1650.1M1669 352.1H1689.6M1724 337.8H1743.9M1709.7 342.8H1730.3M1714.5 347.2H1734.9M1737.9 347.2H1758.7M1703.5 352.1H1724.3M1726.9 351.8H1747.7" stroke="#ee5f5b" stroke-width="2.0" fill="none" opacity=".92"/>
<path d="M1605.6 362.7H1626.3M1637.9 364.7H1658.7M1672.7 364.7H1693.7M1699.4 364.7H1720.1M1740.1 364.7H1760.8M1600.2 367.5H1621M1595.1 372.5H1615.7M1598.7 377H1619.5M1589.3 381.1H1610.1M1674.5 370.2H1695.3M1688.1 373.3H1708.9M1677.9 376H1698.7M1679.1 379.3H1699.9M1696.1 382.8H1716.8M1682.1 385.3H1703.2" stroke="#bf5ff2" stroke-width="2.0" fill="none" opacity=".92"/>
<path d="M1570.1 302.4H1584.1V417.3H1570.1M1570.1 358.5H1584.1" stroke="#000" stroke-width="2.2" fill="none"/>
<text x="1562" y="309.3" text-anchor="end" font-size="24.95">1</text>
<text x="1562" y="365.4" text-anchor="end" font-size="24.95">0</text>
<text x="1562" y="423.2" text-anchor="end" font-size="24.95">-1</text>
<text transform="translate(1497.5 355) rotate(-90)" text-anchor="middle" font-size="24.95">E/L-repliseq</text>
<text transform="translate(1524.3 358) rotate(-90)" text-anchor="middle" font-size="24.95">(<tspan fill="#ee5f5b">E</tspan>-<tspan fill="#bf5ff2">L</tspan>)/(<tspan fill="#ee5f5b">E</tspan>+<tspan fill="#bf5ff2">L</tspan>)</text>
<line x1="1584" y1="505" x2="1770.6" y2="505" stroke="#86eff0" stroke-width="2.0"/>
<path d="M1603.5 498.6C1604.1 499.2 1606.3 500.6 1607.2 502.1C1608.2 503.5 1608.9 505 1609.2 507.3C1609.2 509.7 1609.2 513.4 1609.2 516.4C1609.3 519.4 1609.2 522.8 1609.8 525.4C1610.5 528 1611.6 530.4 1613.3 532.2C1615 533.9 1617.7 535.1 1620 536C1622.4 536.8 1625.1 537.3 1627.6 537.2C1630.1 537 1632.6 536.4 1635.1 535.2C1637.6 534 1640.1 532.6 1642.6 529.9C1645.1 527.3 1647.9 523.4 1650.2 519.4C1652.4 515.4 1654.2 511.4 1656.2 505.8C1658.2 500.3 1660.2 492.8 1662.2 486.3C1664.2 479.7 1666.4 471.7 1668.2 466.7C1670.1 461.7 1671.7 458.5 1673.5 456.1C1675.3 453.8 1677.1 452.5 1678.8 452.4C1680.4 452.3 1681.8 453 1683.3 455.4C1684.8 457.8 1686.3 461.8 1687.8 466.7C1689.3 471.6 1690.7 478.2 1692.3 484.8C1694 491.3 1695.8 499.3 1697.6 505.8C1699.4 512.4 1701.1 518.6 1702.9 523.9C1704.6 529.2 1706.4 534.1 1708.1 537.5C1709.9 540.8 1712 542.9 1713.4 544.2C1714.8 545.5 1715.3 545.7 1716.4 545.3C1717.6 544.9 1718.7 544.8 1720.2 542C1721.7 539.2 1723.6 534.4 1725.5 528.4C1727.3 522.4 1729.5 513.4 1731.5 505.8C1733.5 498.3 1735.7 490 1737.5 483.2C1739.3 476.5 1740.6 470.3 1742 465.2C1743.4 460 1745.2 454.5 1745.8 452.4" stroke="#000" stroke-width="4.6" fill="none" stroke-linejoin="round" stroke-linecap="butt"/>
<path d="M1570.1 448.2H1584.1V562.3H1570.1M1570.1 504.8H1584.1" stroke="#000" stroke-width="2.2" fill="none"/>
<text x="1562" y="455" text-anchor="end" font-size="24.95">1</text>
<text x="1562" y="511.6" text-anchor="end" font-size="24.95">0</text>
<text x="1562" y="568.7" text-anchor="end" font-size="24.95">-1</text>
<text transform="translate(1524.2 505.8) rotate(-90)" text-anchor="middle" font-size="24.95">repli-RFD</text>
<line x1="1987" y1="363.8" x2="2119" y2="363.8" stroke="#86eff0" stroke-width="2.2"/>
<path d="M2005 344.6H2018.2M2004.3 349.8H2017.5M2015.5 351.9H2028.4M2003.1 355.5H2016.3M2020.5 355.5H2033.4M1991.1 359.7H2004.3M2012.4 359.7H2025.6M2027.9 359.7H2041.1M2060.1 338H2073.3M2059 341.1H2072.2M2061.3 344.3H2074.5M2058.2 347H2071.4M2061.8 349.6H2075M2062.4 351.9H2075.3M2063.7 354.3H2076.9M2052 356.6H2065.2M2066.8 358.9H2080M2072.2 361.7H2085.1" stroke="#6495ed" stroke-width="2.0" fill="none" opacity=".92"/>
<path d="M1990.2 367.6H2003.1M2013.5 367.6H2026.4M2029 367.6H2041.9M2046.1 367.6H2059M2076.9 367.6H2090.1M2090.8 367.6H2104M2003.9 371.3H2017.1M2025.6 371.3H2038.5M2041.1 371.3H2054M2083.1 371.3H2096.3M2042.7 375.2H2055.6M2032.1 376.8H2045M2080 375.2H2093.2M2041.9 379.3H2055.1M2085.4 379.3H2098.6M2037.3 381.6H2050.1M2083.1 383.5H2096.3M2039.6 384.7H2052.8M2035.4 388.1H2048.4" stroke="#6cf0c2" stroke-width="2.0" fill="none" opacity=".92"/>
<line x1="1898" y1="505" x2="2112.6" y2="505" stroke="#86eff0" stroke-width="2.0"/>
<path d="M1918.3 498.3C1918.9 498.9 1921.1 500.3 1922 501.8C1923 503.2 1923.7 504.7 1924 507C1924 509.4 1924 513.1 1924 516.1C1924.1 519.1 1924 522.5 1924.6 525.1C1925.3 527.7 1926.4 530.1 1928.1 531.9C1929.8 533.6 1932.5 534.8 1934.8 535.7C1937.2 536.5 1939.9 537 1942.4 536.9C1944.9 536.7 1947.4 536.1 1949.9 534.9C1952.4 533.7 1954.9 532.3 1957.4 529.6C1959.9 527 1962.7 523.1 1965 519.1C1967.2 515.1 1969 511.1 1971 505.5C1973 500 1975 492.5 1977 486C1979 479.4 1981.2 471.4 1983 466.4C1984.9 461.4 1986.5 458.2 1988.3 455.8C1990.1 453.5 1991.9 452.2 1993.6 452.1C1995.2 452 1996.6 452.7 1998.1 455.1C1999.6 457.5 2001.1 461.5 2002.6 466.4C2004.1 471.3 2005.5 477.9 2007.1 484.5C2008.8 491 2010.6 499 2012.4 505.5C2014.2 512.1 2015.9 518.3 2017.7 523.6C2019.4 528.9 2021.2 533.8 2022.9 537.2C2024.7 540.5 2026.8 542.6 2028.2 543.9C2029.6 545.2 2030.1 545.4 2031.2 545C2032.4 544.6 2033.5 544.5 2035 541.7C2036.5 538.9 2038.4 534.1 2040.3 528.1C2042.1 522.1 2044.3 513.1 2046.3 505.5C2048.3 498 2050.5 489.7 2052.3 482.9C2054.1 476.2 2055.4 470 2056.8 464.9C2058.2 459.7 2060 454.2 2060.6 452.1" stroke="#000" stroke-width="4.6" fill="none" stroke-linejoin="round"/>
<path d="M1981.4 472.8H2001.5M1976.7 475.4H1996.9M1984.5 479H2004.6M1979.8 483.2H2000M1989.1 486H2009.3M1972 488.8H1992.2M1989.1 491.9H2009.3M1986.8 495.8H2007M1961.9 495.8H1982.1M1926.7 496.1H1946.9M1903.7 500.3H1923.9M1941.3 500.3H1961.5M1966.6 500.3H1986.8M1995.3 500.3H2015.5M2045 500.3H2065.2M2068.3 500.3H2088.5M2055.1 481H2075.8M2060.2 486.3H2080.4M2051.2 491.4H2071.4M2055.6 495.8H2075.8" stroke="#6cf0c2" stroke-width="2.0" fill="none" opacity=".92"/>
<path d="M1905.3 510.1H1925.4M1940.2 510.1H1960.4M1965.8 510.1H1986M2037.3 508.1H2058.2M2029.5 510.8H2049.7M2004.6 514.3H2024.8M1925.4 515.5H1945.6M1953.4 515.5H1973.6M2024.1 516.7H2044.2M1944.9 519.7H1965M2021 519.7H2041.1M1926.7 522.8H1946.9M2015.5 522.5H2035.7M2018.6 526.4H2038.8M1928.2 529.5H1948.4M2020.2 529.5H2040.4M2016.3 531.5H2036.5M2022.5 534.1H2042.7M2018.6 537.2H2038.8" stroke="#6495ed" stroke-width="2.0" fill="none" opacity=".92"/>
<path d="M1883.5 448.3H1897.5V562.4H1883.5M1883.5 504.7H1897.5" stroke="#000" stroke-width="2.2" fill="none"/>
<text x="1875.3" y="455.3" text-anchor="end" font-size="24.95">1</text>
<text x="1875.3" y="512" text-anchor="end" font-size="24.95">0</text>
<text x="1875.3" y="568.8" text-anchor="end" font-size="24.95">-1</text>
<text transform="translate(1816.8 503.5) rotate(-90)" text-anchor="middle" font-size="24.95">OK-RFD</text>
<text transform="translate(1845.5 504) rotate(-90)" text-anchor="middle" font-size="24.95">(<tspan fill="#6cf0c2">R</tspan>-<tspan fill="#6495ed">F</tspan>)/(<tspan fill="#6cf0c2">R</tspan>+<tspan fill="#6495ed">F</tspan>)</text>
<text x="4.6" y="30.2" font-weight="bold" font-size="34">a</text>
<text x="1481" y="30.5" font-weight="bold" font-size="34">b</text>
<text x="4.4" y="573.3" font-weight="bold" font-size="34">c</text>
<text x="1480" y="619" font-weight="bold" font-size="34">d</text>
<text x="4.4" y="1074.5" font-weight="bold" font-size="34">e</text>
<text x="1492.7" y="1107.1" font-weight="bold" font-size="34">f</text>
<path d="M147.6 136.2V481.9M138 137.4H147.6M138 223.2H147.6M138 309.1H147.6M138 395H147.6M138 480.8H147.6" stroke="#000" stroke-width="2.3" fill="none"/>
<text x="132" y="145.8" text-anchor="end" font-size="25.6" textLength="34.5" lengthAdjust="spacingAndGlyphs">1.0</text>
<text x="132" y="231.7" text-anchor="end" font-size="25.6" textLength="34.5" lengthAdjust="spacingAndGlyphs">0.5</text>
<text x="132" y="317.5" text-anchor="end" font-size="25.6" textLength="34.5" lengthAdjust="spacingAndGlyphs">0.0</text>
<text x="132" y="403.4" text-anchor="end" font-size="25.6" textLength="42.8" lengthAdjust="spacingAndGlyphs">-0.5</text>
<text x="132" y="489.2" text-anchor="end" font-size="25.6" textLength="42.8" lengthAdjust="spacingAndGlyphs">-1.0</text>
<text transform="translate(76 308.2) rotate(-90)" text-anchor="middle" textLength="351.5" lengthAdjust="spacingAndGlyphs">EL-repliseq relative enrichment</text>
<path d="M171.3 22.8c11.5 0 15.5 4 15.5 12.7c0 8.8 4 12.7 15.8 12.7" stroke="#c9c897" stroke-width="4.3" fill="none" stroke-linecap="round" stroke-linejoin="round"/>
<text x="208" y="41.5">E14TG2a mouse ESC E/L-repliseq</text>
<path d="M171.3 63.8c11.5 0 15.5 4 15.5 12.7c0 8.8 4 12.7 15.8 12.7" stroke="#f50a0a" stroke-width="4.3" fill="none" stroke-linecap="round" stroke-linejoin="round"/>
<text x="208" y="83">Hep-74.3a mouse hepatoma cell line E/L-repliseq</text>
<path d="M170.3 105.2c11.5 0 15.5 4 15.5 12.7c0 8.8 4 12.7 15.8 12.7" stroke="#8c1212" stroke-width="4.3" fill="none" stroke-linecap="round" stroke-linejoin="round"/>
<text x="208" y="124.3">Hepa1-6 mouse hepatoma cell line E/L-repliseq</text>
<path d="M147.6 615.2V960.5M138 616.4H147.6M138 702.1H147.6M138 787.9H147.6M138 873.6H147.6M138 959.4H147.6" stroke="#000" stroke-width="2.3" fill="none"/>
<text x="132" y="624.8" text-anchor="end" font-size="25.6" textLength="34.5" lengthAdjust="spacingAndGlyphs">1.0</text>
<text x="132" y="710.5" text-anchor="end" font-size="25.6" textLength="34.5" lengthAdjust="spacingAndGlyphs">0.5</text>
<text x="132" y="796.3" text-anchor="end" font-size="25.6" textLength="34.5" lengthAdjust="spacingAndGlyphs">0.0</text>
<text x="132" y="882" text-anchor="end" font-size="25.6" textLength="42.8" lengthAdjust="spacingAndGlyphs">-0.5</text>
<text x="132" y="967.8" text-anchor="end" font-size="25.6" textLength="42.8" lengthAdjust="spacingAndGlyphs">-1.0</text>
<text transform="translate(75.8 787.3) rotate(-90)" text-anchor="middle" textLength="348.5" lengthAdjust="spacingAndGlyphs">Replication fork direction (RFD)</text>
<path d="M171.3 561.3c11.5 0 15.5 4 15.5 12.7c0 8.8 4 12.7 15.8 12.7" stroke="#ffc0c8" stroke-width="4.3" fill="none" stroke-linecap="round" stroke-linejoin="round"/>
<text x="208" y="580.3">Activated mouse B-cell OK-seq RFD</text>
<path d="M171.3 597.9c11.5 0 15.5 4 15.5 12.7c0 8.8 4 12.7 15.8 12.7" stroke="#f50a0a" stroke-width="4.3" fill="none" stroke-linecap="round" stroke-linejoin="round"/>
<text x="209" y="620.5">Hep-74.3a E/L-repliseq derived RFD</text>
<path d="M195.4 973.7H1427.1M196.6 973.7V983.2M606.4 973.7V983.2M1016.1 973.7V983.2M1425.9 973.7V983.2" stroke="#000" stroke-width="2.3" fill="none"/>
<text x="200.5" y="1008.6" text-anchor="middle">70</text>
<text x="612.9" y="1008.6" text-anchor="middle">75</text>
<text x="1018.9" y="1008.6" text-anchor="middle">80</text>
<text x="1430.4" y="1008.6" text-anchor="middle">85</text>
<text x="820" y="1022" text-anchor="middle">C3H chromosome 8 (Mb)</text>
<path d="M904.5 621.5H943L923.8 659.5Z" fill="#8c8c8c"/>
<path d="M147.6 1122.2V1468.9M138 1123.4H147.6M138 1209.5H147.6M138 1295.6H147.6M138 1381.7H147.6M138 1467.7H147.6" stroke="#000" stroke-width="2.3" fill="none"/>
<text x="132" y="1131.8" text-anchor="end" font-size="25.6" textLength="34.5" lengthAdjust="spacingAndGlyphs">1.0</text>
<text x="132" y="1217.9" text-anchor="end" font-size="25.6" textLength="34.5" lengthAdjust="spacingAndGlyphs">0.5</text>
<text x="132" y="1304" text-anchor="end" font-size="25.6" textLength="34.5" lengthAdjust="spacingAndGlyphs">0.0</text>
<text x="132" y="1390.1" text-anchor="end" font-size="25.6" textLength="42.8" lengthAdjust="spacingAndGlyphs">-0.5</text>
<text x="132" y="1476.1" text-anchor="end" font-size="25.6" textLength="42.8" lengthAdjust="spacingAndGlyphs">-1.0</text>
<text transform="translate(75.8 1290.3) rotate(-90)" text-anchor="middle" textLength="348.5" lengthAdjust="spacingAndGlyphs">Replication fork direction (RFD)</text>
<path d="M171.3 1068.5c11.5 0 15.5 4 15.5 12.7c0 8.8 4 12.7 15.8 12.7" stroke="#a6a6a6" stroke-width="4.3" fill="none" stroke-linecap="round" stroke-linejoin="round"/>
<text x="209" y="1088">RPE-1 human cell line OK-seq RFD</text>
<path d="M171.3 1105.3c11.5 0 15.5 4 15.5 12.7c0 8.8 4 12.7 15.8 12.7" stroke="#000" stroke-width="4.3" fill="none" stroke-linecap="round" stroke-linejoin="round"/>
<text x="209" y="1128">RPE-1 human cell line E/L-repliseq derived RFD</text>
<path d="M195.4 1480.6H1427.1M196.6 1480.6V1490.1M606.4 1480.6V1490.1M1016.1 1480.6V1490.1M1425.9 1480.6V1490.1" stroke="#000" stroke-width="2.3" fill="none"/>
<text x="201.8" y="1514" text-anchor="middle">50</text>
<text x="613.1" y="1514" text-anchor="middle">55</text>
<text x="1018.8" y="1514" text-anchor="middle">60</text>
<text x="1429.5" y="1514" text-anchor="middle">65</text>
<text x="820" y="1522.8" text-anchor="middle" textLength="312" lengthAdjust="spacingAndGlyphs">Human chromosome 8 (Mb)</text>
<path d="M1615.9 615.1V961.1M1606.3 616.2H1615.9M1606.3 702.2H1615.9M1606.3 788.1H1615.9M1606.3 874H1615.9M1606.3 960H1615.9" stroke="#000" stroke-width="2.3" fill="none"/>
<text x="1596.9" y="624.6" text-anchor="end" font-size="25.6" textLength="32.2" lengthAdjust="spacingAndGlyphs">1.0</text>
<text x="1596.9" y="710.6" text-anchor="end" font-size="25.6" textLength="32.2" lengthAdjust="spacingAndGlyphs">0.5</text>
<text x="1596.9" y="796.5" text-anchor="end" font-size="25.6" textLength="32.2" lengthAdjust="spacingAndGlyphs">0.0</text>
<text x="1596.9" y="882.4" text-anchor="end" font-size="25.6" textLength="39.9" lengthAdjust="spacingAndGlyphs">-0.5</text>
<text x="1596.9" y="968.4" text-anchor="end" font-size="25.6" textLength="39.9" lengthAdjust="spacingAndGlyphs">-1.0</text>
<text transform="translate(1540.5 778.2) rotate(-90)" text-anchor="middle" textLength="305.5" lengthAdjust="spacingAndGlyphs">Hep-74.3a Repliseq (RFD)</text>
<path d="M1628.5 973.7H1974.7M1629.7 973.7V983.2M1715.6 973.7V983.2M1801.5 973.7V983.2M1887.5 973.7V983.2M1973.5 973.7V983.2" stroke="#000" stroke-width="2.3" fill="none"/>
<text x="1631.2" y="1011" text-anchor="middle" textLength="41.7" lengthAdjust="spacingAndGlyphs">-1.0</text>
<text x="1717.1" y="1011" text-anchor="middle" textLength="41.7" lengthAdjust="spacingAndGlyphs">-0.5</text>
<text x="1805.5" y="1011" text-anchor="middle" textLength="33.6" lengthAdjust="spacingAndGlyphs">0.0</text>
<text x="1891.5" y="1011" text-anchor="middle" textLength="33.6" lengthAdjust="spacingAndGlyphs">0.5</text>
<text x="1977.5" y="1011" text-anchor="middle" textLength="33.6" lengthAdjust="spacingAndGlyphs">1.0</text>
<text x="1801.5" y="1056" text-anchor="middle">B-cell OK-seq (RFD)</text>
<text x="1963.5" y="927" textLength="132" lengthAdjust="spacingAndGlyphs">cor = 0.422</text>
<text x="1963.5" y="957">p &lt; 1x10<tspan font-size="13.5" dy="-11.5">-200</tspan></text>
<path d="M1615.9 1122.3V1468.2M1606.3 1123.5H1615.9M1606.3 1209.4H1615.9M1606.3 1295.3H1615.9M1606.3 1381.2H1615.9M1606.3 1467.1H1615.9" stroke="#000" stroke-width="2.3" fill="none"/>
<text x="1599" y="1134.9" text-anchor="end" font-size="25.6" textLength="32.2" lengthAdjust="spacingAndGlyphs">1.0</text>
<text x="1599" y="1217.8" text-anchor="end" font-size="25.6" textLength="32.2" lengthAdjust="spacingAndGlyphs">0.5</text>
<text x="1599" y="1303.7" text-anchor="end" font-size="25.6" textLength="32.2" lengthAdjust="spacingAndGlyphs">0.0</text>
<text x="1599" y="1389.6" text-anchor="end" font-size="25.6" textLength="39.9" lengthAdjust="spacingAndGlyphs">-0.5</text>
<text x="1599" y="1475.5" text-anchor="end" font-size="25.6" textLength="39.9" lengthAdjust="spacingAndGlyphs">-1.0</text>
<text transform="translate(1540.5 1291.2) rotate(-90)" text-anchor="middle" textLength="253" lengthAdjust="spacingAndGlyphs">RPE-1 Repliseq (RFD)</text>
<path d="M1628.5 1481.1H1974.7M1629.7 1481.1V1490.6M1715.6 1481.1V1490.6M1801.5 1481.1V1490.6M1887.5 1481.1V1490.6M1973.5 1481.1V1490.6" stroke="#000" stroke-width="2.3" fill="none"/>
<text x="1631.2" y="1514.3" text-anchor="middle" textLength="41.7" lengthAdjust="spacingAndGlyphs">-1.0</text>
<text x="1717.1" y="1514.3" text-anchor="middle" textLength="41.7" lengthAdjust="spacingAndGlyphs">-0.5</text>
<text x="1805.5" y="1514.3" text-anchor="middle" textLength="33.6" lengthAdjust="spacingAndGlyphs">0.0</text>
<text x="1891.5" y="1514.3" text-anchor="middle" textLength="33.6" lengthAdjust="spacingAndGlyphs">0.5</text>
<text x="1977.5" y="1514.3" text-anchor="middle" textLength="33.6" lengthAdjust="spacingAndGlyphs">1.0</text>
<text x="1811" y="1557" text-anchor="middle">RPE-1 OK-seq (RFD)</text>
<text x="1963.5" y="1432" textLength="132" lengthAdjust="spacingAndGlyphs">cor = 0.702</text>
<text x="1963.5" y="1462">p &lt; 1x10<tspan font-size="13.5" dy="-11.5">-200</tspan></text>
</svg></body></html>
